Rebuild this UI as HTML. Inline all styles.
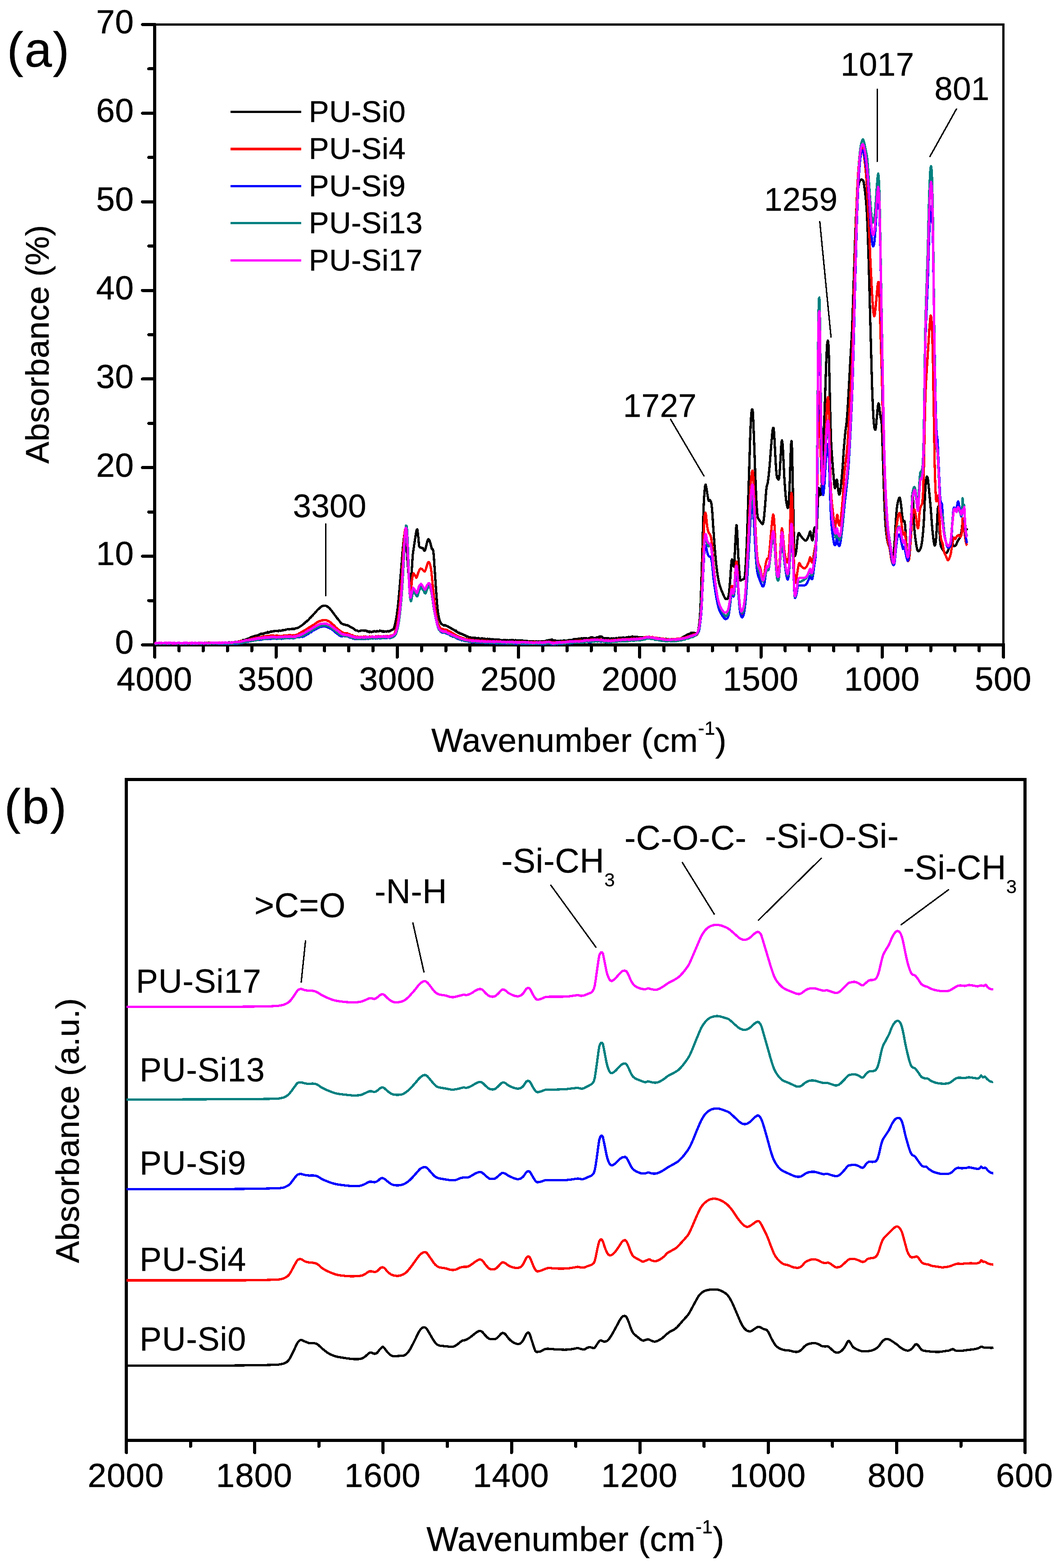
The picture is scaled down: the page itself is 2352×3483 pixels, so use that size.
<!DOCTYPE html>
<html lang="en">
<head>
<meta charset="utf-8">
<title>FTIR spectra of PU-Si films</title>
<style>
html, body { margin: 0; padding: 0; background: #fff; }
body { width: 2352px; height: 3483px; overflow: hidden; }
svg { display: block; }
svg line, svg rect, svg polyline { shape-rendering: crispEdges; }
svg text { font-family: "Liberation Sans", sans-serif; fill: #000; stroke: #000; stroke-width: 0.6px; stroke-linejoin: round; letter-spacing: 0.5px; }
</style>
</head>
<body>
<svg width="2352" height="3483" viewBox="0 0 2352 3483" role="img" aria-label="FTIR absorbance spectra of PU-Si0, PU-Si4, PU-Si9, PU-Si13 and PU-Si17: (a) full range 4000-500 cm-1, (b) stacked spectra 2000-600 cm-1">
<rect x="0" y="0" width="2352" height="3483" fill="#fff"/>
<g id="panel-a">
<line x1="343.7" y1="54.5" x2="2231.2" y2="54.5" stroke="#000" stroke-width="5.2" stroke-linecap="butt"/>
<line x1="2228.6" y1="54.5" x2="2228.6" y2="1432.5" stroke="#000" stroke-width="5.2" stroke-linecap="butt"/>
<line x1="343.7" y1="54.5" x2="343.7" y2="1459.5" stroke="#000" stroke-width="7" stroke-linecap="round"/>
<line x1="340.2" y1="1432.5" x2="2232.1" y2="1432.5" stroke="#000" stroke-width="7" stroke-linecap="butt"/>
<line x1="340.2" y1="1432.5" x2="316.7" y2="1432.5" stroke="#000" stroke-width="7" stroke-linecap="round"/>
<text x="297.5" y="1452.3" font-size="74.5" text-anchor="end" style="letter-spacing:0.6px">0</text>
<line x1="340.2" y1="1334.1" x2="330.7" y2="1334.1" stroke="#000" stroke-width="7" stroke-linecap="round"/>
<line x1="340.2" y1="1235.6" x2="316.7" y2="1235.6" stroke="#000" stroke-width="7" stroke-linecap="round"/>
<text x="297.5" y="1255.4" font-size="74.5" text-anchor="end" style="letter-spacing:0.6px">10</text>
<line x1="340.2" y1="1137.2" x2="330.7" y2="1137.2" stroke="#000" stroke-width="7" stroke-linecap="round"/>
<line x1="340.2" y1="1038.8" x2="316.7" y2="1038.8" stroke="#000" stroke-width="7" stroke-linecap="round"/>
<text x="297.5" y="1058.6" font-size="74.5" text-anchor="end" style="letter-spacing:0.6px">20</text>
<line x1="340.2" y1="940.4" x2="330.7" y2="940.4" stroke="#000" stroke-width="7" stroke-linecap="round"/>
<line x1="340.2" y1="841.9" x2="316.7" y2="841.9" stroke="#000" stroke-width="7" stroke-linecap="round"/>
<text x="297.5" y="861.7" font-size="74.5" text-anchor="end" style="letter-spacing:0.6px">30</text>
<line x1="340.2" y1="743.5" x2="330.7" y2="743.5" stroke="#000" stroke-width="7" stroke-linecap="round"/>
<line x1="340.2" y1="645.1" x2="316.7" y2="645.1" stroke="#000" stroke-width="7" stroke-linecap="round"/>
<text x="297.5" y="664.9" font-size="74.5" text-anchor="end" style="letter-spacing:0.6px">40</text>
<line x1="340.2" y1="546.6" x2="330.7" y2="546.6" stroke="#000" stroke-width="7" stroke-linecap="round"/>
<line x1="340.2" y1="448.2" x2="316.7" y2="448.2" stroke="#000" stroke-width="7" stroke-linecap="round"/>
<text x="297.5" y="468.0" font-size="74.5" text-anchor="end" style="letter-spacing:0.6px">50</text>
<line x1="340.2" y1="349.8" x2="330.7" y2="349.8" stroke="#000" stroke-width="7" stroke-linecap="round"/>
<line x1="340.2" y1="251.4" x2="316.7" y2="251.4" stroke="#000" stroke-width="7" stroke-linecap="round"/>
<text x="297.5" y="271.2" font-size="74.5" text-anchor="end" style="letter-spacing:0.6px">60</text>
<line x1="340.2" y1="152.9" x2="330.7" y2="152.9" stroke="#000" stroke-width="7" stroke-linecap="round"/>
<line x1="340.2" y1="54.5" x2="316.7" y2="54.5" stroke="#000" stroke-width="7" stroke-linecap="round"/>
<text x="297.5" y="74.3" font-size="74.5" text-anchor="end" style="letter-spacing:0.6px">70</text>
<line x1="343.7" y1="1436.0" x2="343.7" y2="1459.5" stroke="#000" stroke-width="7" stroke-linecap="round"/>
<text x="343.2" y="1534.3" font-size="74.5" text-anchor="middle" style="letter-spacing:0.6px">4000</text>
<line x1="397.6" y1="1436.0" x2="397.6" y2="1445.5" stroke="#000" stroke-width="7" stroke-linecap="round"/>
<line x1="451.4" y1="1436.0" x2="451.4" y2="1445.5" stroke="#000" stroke-width="7" stroke-linecap="round"/>
<line x1="505.3" y1="1436.0" x2="505.3" y2="1445.5" stroke="#000" stroke-width="7" stroke-linecap="round"/>
<line x1="559.1" y1="1436.0" x2="559.1" y2="1445.5" stroke="#000" stroke-width="7" stroke-linecap="round"/>
<line x1="613.0" y1="1436.0" x2="613.0" y2="1459.5" stroke="#000" stroke-width="7" stroke-linecap="round"/>
<text x="612.5" y="1534.3" font-size="74.5" text-anchor="middle" style="letter-spacing:0.6px">3500</text>
<line x1="666.8" y1="1436.0" x2="666.8" y2="1445.5" stroke="#000" stroke-width="7" stroke-linecap="round"/>
<line x1="720.7" y1="1436.0" x2="720.7" y2="1445.5" stroke="#000" stroke-width="7" stroke-linecap="round"/>
<line x1="774.5" y1="1436.0" x2="774.5" y2="1445.5" stroke="#000" stroke-width="7" stroke-linecap="round"/>
<line x1="828.4" y1="1436.0" x2="828.4" y2="1445.5" stroke="#000" stroke-width="7" stroke-linecap="round"/>
<line x1="882.2" y1="1436.0" x2="882.2" y2="1459.5" stroke="#000" stroke-width="7" stroke-linecap="round"/>
<text x="881.7" y="1534.3" font-size="74.5" text-anchor="middle" style="letter-spacing:0.6px">3000</text>
<line x1="936.1" y1="1436.0" x2="936.1" y2="1445.5" stroke="#000" stroke-width="7" stroke-linecap="round"/>
<line x1="990.0" y1="1436.0" x2="990.0" y2="1445.5" stroke="#000" stroke-width="7" stroke-linecap="round"/>
<line x1="1043.8" y1="1436.0" x2="1043.8" y2="1445.5" stroke="#000" stroke-width="7" stroke-linecap="round"/>
<line x1="1097.7" y1="1436.0" x2="1097.7" y2="1445.5" stroke="#000" stroke-width="7" stroke-linecap="round"/>
<line x1="1151.5" y1="1436.0" x2="1151.5" y2="1459.5" stroke="#000" stroke-width="7" stroke-linecap="round"/>
<text x="1151.0" y="1534.3" font-size="74.5" text-anchor="middle" style="letter-spacing:0.6px">2500</text>
<line x1="1205.4" y1="1436.0" x2="1205.4" y2="1445.5" stroke="#000" stroke-width="7" stroke-linecap="round"/>
<line x1="1259.2" y1="1436.0" x2="1259.2" y2="1445.5" stroke="#000" stroke-width="7" stroke-linecap="round"/>
<line x1="1313.1" y1="1436.0" x2="1313.1" y2="1445.5" stroke="#000" stroke-width="7" stroke-linecap="round"/>
<line x1="1366.9" y1="1436.0" x2="1366.9" y2="1445.5" stroke="#000" stroke-width="7" stroke-linecap="round"/>
<line x1="1420.8" y1="1436.0" x2="1420.8" y2="1459.5" stroke="#000" stroke-width="7" stroke-linecap="round"/>
<text x="1420.3" y="1534.3" font-size="74.5" text-anchor="middle" style="letter-spacing:0.6px">2000</text>
<line x1="1474.6" y1="1436.0" x2="1474.6" y2="1445.5" stroke="#000" stroke-width="7" stroke-linecap="round"/>
<line x1="1528.5" y1="1436.0" x2="1528.5" y2="1445.5" stroke="#000" stroke-width="7" stroke-linecap="round"/>
<line x1="1582.3" y1="1436.0" x2="1582.3" y2="1445.5" stroke="#000" stroke-width="7" stroke-linecap="round"/>
<line x1="1636.2" y1="1436.0" x2="1636.2" y2="1445.5" stroke="#000" stroke-width="7" stroke-linecap="round"/>
<line x1="1690.1" y1="1436.0" x2="1690.1" y2="1459.5" stroke="#000" stroke-width="7" stroke-linecap="round"/>
<text x="1689.6" y="1534.3" font-size="74.5" text-anchor="middle" style="letter-spacing:0.6px">1500</text>
<line x1="1743.9" y1="1436.0" x2="1743.9" y2="1445.5" stroke="#000" stroke-width="7" stroke-linecap="round"/>
<line x1="1797.8" y1="1436.0" x2="1797.8" y2="1445.5" stroke="#000" stroke-width="7" stroke-linecap="round"/>
<line x1="1851.6" y1="1436.0" x2="1851.6" y2="1445.5" stroke="#000" stroke-width="7" stroke-linecap="round"/>
<line x1="1905.5" y1="1436.0" x2="1905.5" y2="1445.5" stroke="#000" stroke-width="7" stroke-linecap="round"/>
<line x1="1959.3" y1="1436.0" x2="1959.3" y2="1459.5" stroke="#000" stroke-width="7" stroke-linecap="round"/>
<text x="1958.8" y="1534.3" font-size="74.5" text-anchor="middle" style="letter-spacing:0.6px">1000</text>
<line x1="2013.2" y1="1436.0" x2="2013.2" y2="1445.5" stroke="#000" stroke-width="7" stroke-linecap="round"/>
<line x1="2067.0" y1="1436.0" x2="2067.0" y2="1445.5" stroke="#000" stroke-width="7" stroke-linecap="round"/>
<line x1="2120.9" y1="1436.0" x2="2120.9" y2="1445.5" stroke="#000" stroke-width="7" stroke-linecap="round"/>
<line x1="2174.7" y1="1436.0" x2="2174.7" y2="1445.5" stroke="#000" stroke-width="7" stroke-linecap="round"/>
<line x1="2228.6" y1="1436.0" x2="2228.6" y2="1459.5" stroke="#000" stroke-width="7" stroke-linecap="round"/>
<text x="2228.1" y="1534.3" font-size="74.5" text-anchor="middle" style="letter-spacing:0.6px">500</text>
<polyline points="343.8,1429.0 344.8,1429.5 345.8,1428.2 346.8,1428.8 347.8,1428.5 348.8,1428.4 349.8,1428.6 350.8,1428.9 351.8,1429.0 352.8,1429.2 353.8,1429.0 354.8,1429.5 355.8,1428.6 356.8,1429.9 357.8,1428.3 358.8,1429.5 359.8,1429.0 360.8,1429.3 361.8,1428.5 362.8,1428.6 363.8,1429.7 364.8,1430.0 365.8,1428.9 366.8,1429.5 367.8,1429.9 368.8,1429.9 369.8,1428.4 370.8,1428.4 371.8,1428.6 372.8,1429.9 373.8,1428.5 374.8,1429.0 375.8,1430.0 376.8,1429.2 377.8,1429.5 378.8,1428.9 379.8,1429.5 380.8,1429.8 381.8,1428.3 382.8,1429.6 383.8,1430.1 384.8,1429.6 385.8,1428.8 386.8,1429.7 387.8,1428.5 388.8,1429.1 389.8,1429.9 390.8,1428.8 391.8,1428.8 392.8,1428.5 393.8,1428.3 394.8,1429.5 395.8,1428.6 396.8,1428.7 397.8,1429.1 398.8,1428.3 399.8,1429.3 400.8,1428.5 401.8,1429.3 402.8,1429.5 403.8,1428.4 404.8,1429.0 405.8,1429.5 406.8,1428.9 407.8,1428.3 408.8,1429.2 409.8,1429.4 410.8,1429.1 411.8,1429.9 412.8,1429.2 413.8,1429.8 414.8,1428.4 415.8,1428.4 416.8,1429.6 417.8,1428.8 418.8,1428.4 419.8,1429.8 420.8,1428.7 421.8,1429.4 422.8,1429.4 423.8,1429.7 424.8,1429.2 425.8,1429.4 426.8,1428.7 427.8,1428.5 428.8,1429.6 429.8,1428.8 430.8,1429.7 431.8,1429.2 432.8,1429.1 433.8,1428.2 434.8,1429.7 435.8,1428.7 436.8,1429.0 437.8,1428.6 438.8,1428.3 439.8,1429.5 440.8,1428.9 441.8,1427.9 442.8,1429.0 443.8,1428.4 444.8,1428.8 445.8,1429.4 446.8,1428.4 447.8,1429.4 448.8,1428.9 449.8,1427.8 450.8,1429.4 451.8,1429.0 452.8,1429.5 453.8,1428.0 454.8,1427.9 455.8,1429.4 456.8,1428.9 457.8,1427.8 458.8,1429.0 459.8,1429.0 460.8,1429.3 461.8,1428.9 462.8,1427.8 463.8,1427.6 464.8,1427.6 465.8,1427.6 466.8,1428.0 467.8,1429.1 468.8,1428.5 469.8,1428.5 470.8,1429.0 471.8,1427.7 472.8,1428.0 473.8,1428.5 474.8,1429.2 475.8,1428.4 476.8,1427.5 477.8,1428.8 478.8,1427.8 479.8,1428.8 480.8,1428.1 481.8,1428.9 482.8,1428.7 483.8,1428.3 484.8,1427.5 485.8,1427.4 486.8,1427.4 487.8,1427.3 488.8,1427.4 489.8,1427.6 490.8,1428.4 491.8,1428.1 492.8,1427.1 493.8,1427.2 494.8,1428.8 495.8,1428.0 496.8,1427.3 497.8,1427.4 498.8,1428.2 499.8,1427.2 500.8,1427.9 501.8,1428.5 502.8,1428.3 503.8,1427.2 504.8,1427.6 505.8,1427.8 506.8,1428.1 507.8,1426.8 508.8,1426.6 509.8,1426.6 510.8,1427.3 511.8,1427.5 512.8,1427.4 513.8,1426.9 514.8,1428.0 515.8,1427.2 516.8,1426.8 517.8,1427.1 518.8,1427.4 519.8,1427.2 520.8,1426.4 521.8,1426.0 522.8,1426.5 523.8,1426.9 524.8,1426.0 525.8,1426.9 526.8,1425.5 527.8,1425.7 528.8,1426.4 529.8,1425.1 530.8,1425.7 531.8,1425.2 532.8,1425.6 533.8,1424.1 534.8,1423.4 535.8,1424.3 536.8,1424.0 537.8,1423.9 538.8,1423.6 539.8,1421.6 540.8,1421.6 541.8,1421.9 542.8,1422.2 543.8,1421.8 544.8,1420.8 545.8,1421.0 546.8,1420.2 547.8,1419.4 548.8,1419.2 549.8,1419.0 550.8,1418.6 551.8,1418.9 552.8,1418.5 553.8,1417.2 554.8,1417.9 555.8,1416.1 556.8,1415.7 557.8,1415.3 558.8,1415.6 559.8,1414.4 560.8,1415.7 561.8,1415.1 562.8,1413.3 563.8,1413.2 564.8,1413.1 565.8,1412.4 566.8,1413.3 567.8,1412.1 568.8,1412.8 569.8,1411.8 570.8,1412.0 571.8,1411.6 572.8,1411.3 573.8,1410.2 574.8,1410.0 575.8,1410.2 576.8,1409.0 577.8,1409.1 578.8,1409.0 579.8,1407.7 580.8,1408.5 581.8,1407.9 582.8,1408.3 583.8,1407.2 584.8,1408.0 585.8,1407.2 586.8,1406.2 587.8,1407.0 588.8,1406.5 589.8,1405.2 590.8,1405.6 591.8,1405.8 592.8,1406.0 593.8,1404.0 594.8,1405.5 595.8,1404.2 596.8,1405.0 597.8,1404.1 598.8,1404.3 599.8,1403.6 600.8,1403.5 601.8,1402.6 602.8,1403.0 603.8,1403.1 604.8,1403.0 605.8,1402.7 606.8,1402.4 607.8,1402.6 608.8,1401.5 609.8,1402.0 610.8,1401.5 611.8,1401.4 612.8,1401.4 613.8,1401.3 614.8,1401.1 615.8,1401.6 616.8,1401.3 617.8,1402.2 618.8,1401.6 619.8,1400.7 620.8,1401.0 621.8,1400.7 622.8,1401.2 623.8,1401.1 624.8,1401.0 625.8,1400.6 626.8,1400.0 627.8,1399.8 628.8,1400.2 629.8,1399.7 630.8,1399.8 631.8,1399.3 632.8,1399.3 633.8,1398.9 634.8,1399.0 635.8,1398.6 636.8,1398.3 637.8,1398.0 638.8,1397.5 639.8,1397.7 640.8,1397.3 641.8,1398.1 642.8,1397.2 643.8,1397.7 644.8,1397.7 645.8,1397.5 646.8,1397.3 647.8,1396.9 648.8,1397.1 649.8,1397.0 650.8,1396.8 651.8,1397.1 652.8,1396.7 653.8,1397.2 654.8,1397.0 655.8,1396.1 656.8,1395.8 657.8,1395.6 658.8,1395.6 659.8,1395.4 660.8,1394.5 661.8,1394.1 662.8,1394.2 663.8,1393.3 664.8,1392.9 665.8,1392.0 666.8,1391.2 667.8,1391.0 668.8,1390.3 669.8,1389.2 670.8,1389.0 671.8,1388.1 672.8,1387.4 673.8,1386.1 674.8,1385.8 675.8,1384.5 676.8,1383.9 677.8,1383.3 678.8,1381.6 679.8,1381.0 680.8,1380.7 681.8,1379.7 682.8,1378.5 683.8,1377.9 684.8,1377.0 685.8,1375.9 686.8,1375.0 687.8,1373.2 688.8,1372.8 689.8,1371.8 690.8,1370.7 691.8,1369.9 692.8,1368.1 693.8,1367.8 694.8,1366.8 695.8,1365.3 696.8,1364.2 697.8,1363.4 698.8,1362.0 699.8,1361.2 700.8,1359.7 701.8,1358.9 702.8,1357.9 703.8,1356.1 704.8,1354.8 705.8,1354.5 706.8,1353.2 707.8,1352.7 708.8,1351.4 709.8,1351.0 710.8,1349.7 711.8,1349.0 712.8,1347.9 713.8,1347.4 714.8,1346.5 715.8,1346.1 716.8,1346.4 717.8,1345.4 718.8,1345.5 719.8,1345.9 720.8,1345.7 721.8,1345.7 722.8,1345.3 723.8,1345.7 724.8,1346.2 725.8,1347.0 726.8,1346.8 727.8,1347.5 728.8,1348.3 729.8,1349.6 730.8,1350.2 731.8,1350.8 732.8,1352.3 733.8,1353.0 734.8,1354.8 735.8,1355.5 736.8,1356.6 737.8,1358.4 738.8,1360.0 739.8,1360.9 740.8,1362.6 741.8,1363.7 742.8,1365.1 743.8,1366.9 744.8,1368.0 745.8,1368.6 746.8,1370.6 747.8,1371.7 748.8,1373.5 749.8,1374.0 750.8,1375.4 751.8,1376.5 752.8,1378.1 753.8,1379.0 754.8,1380.8 755.8,1382.2 756.8,1383.2 757.8,1384.3 758.8,1384.7 759.8,1385.9 760.8,1386.1 761.8,1386.9 762.8,1387.1 763.8,1386.9 764.8,1387.2 765.8,1387.5 766.8,1387.8 767.8,1388.4 768.8,1388.1 769.8,1388.2 770.8,1389.1 771.8,1388.9 772.8,1389.6 773.8,1389.7 774.8,1390.3 775.8,1390.9 776.8,1391.5 777.8,1392.4 778.8,1392.6 779.8,1393.8 780.8,1393.5 781.8,1394.9 782.8,1394.8 783.8,1395.9 784.8,1395.9 785.8,1397.0 786.8,1397.1 787.8,1398.7 788.8,1399.3 789.8,1399.7 790.8,1400.4 791.8,1400.1 792.8,1400.5 793.8,1400.6 794.8,1401.6 795.8,1402.2 796.8,1402.3 797.8,1401.8 798.8,1401.7 799.8,1401.9 800.8,1400.9 801.8,1400.6 802.8,1400.3 803.8,1400.2 804.8,1400.9 805.8,1400.2 806.8,1400.4 807.8,1401.0 808.8,1400.5 809.8,1401.2 810.8,1400.6 811.8,1400.9 812.8,1400.7 813.8,1402.1 814.8,1401.4 815.8,1401.9 816.8,1402.5 817.8,1403.6 818.8,1402.3 819.8,1403.9 820.8,1404.4 821.8,1402.8 822.8,1403.6 823.8,1403.2 824.8,1404.1 825.8,1403.4 826.8,1403.5 827.8,1403.0 828.8,1403.2 829.8,1402.5 830.8,1401.9 831.8,1402.8 832.8,1402.3 833.8,1402.5 834.8,1403.2 835.8,1402.2 836.8,1401.8 837.8,1401.9 838.8,1402.8 839.8,1402.7 840.8,1402.4 841.8,1402.5 842.8,1401.1 843.8,1400.8 844.8,1401.1 845.8,1401.4 846.8,1401.3 847.8,1402.3 848.8,1402.1 849.8,1403.1 850.8,1402.1 851.8,1403.2 852.8,1402.5 853.8,1403.1 854.8,1402.7 855.8,1402.2 856.8,1402.5 857.8,1403.2 858.8,1402.8 859.8,1402.7 860.8,1401.9 861.8,1402.4 862.8,1403.0 863.8,1402.4 864.8,1401.7 865.8,1402.1 866.8,1401.3 867.8,1400.8 868.8,1399.8 869.8,1399.5 870.8,1399.0 871.8,1398.8 872.8,1398.1 873.8,1397.9 874.8,1395.4 875.8,1393.1 876.8,1388.9 877.8,1384.6 878.8,1380.0 879.8,1375.0 880.8,1369.1 881.8,1362.0 882.8,1354.6 883.8,1346.0 884.8,1336.5 885.8,1325.7 886.8,1314.4 887.8,1302.6 888.8,1290.7 889.8,1279.4 890.8,1266.6 891.8,1254.3 892.8,1240.6 893.8,1228.2 894.8,1217.1 895.8,1207.4 896.8,1197.9 897.8,1189.5 898.8,1184.5 899.8,1181.7 900.8,1181.4 901.8,1188.3 902.8,1204.2 903.8,1223.5 904.8,1240.3 905.8,1256.0 906.8,1269.1 907.8,1281.0 908.8,1289.1 909.8,1295.1 910.8,1299.7 911.8,1296.9 912.8,1287.8 913.8,1276.9 914.8,1263.1 915.8,1246.2 916.8,1232.1 917.8,1224.8 918.8,1218.0 919.8,1211.0 920.8,1204.7 921.8,1198.1 922.8,1191.1 923.8,1185.0 924.8,1178.9 925.8,1176.1 926.8,1175.9 927.8,1182.3 928.8,1190.4 929.8,1202.1 930.8,1212.9 931.8,1215.1 932.8,1216.1 933.8,1216.0 934.8,1216.7 935.8,1217.0 936.8,1216.8 937.8,1217.1 938.8,1217.4 939.8,1218.1 940.8,1220.8 941.8,1222.8 942.8,1223.5 943.8,1222.6 944.8,1219.9 945.8,1215.6 946.8,1211.9 947.8,1207.3 948.8,1203.8 949.8,1200.3 950.8,1198.3 951.8,1197.6 952.8,1199.0 953.8,1200.5 954.8,1203.5 955.8,1206.4 956.8,1210.2 957.8,1214.2 958.8,1219.0 959.8,1219.6 960.8,1219.5 961.8,1221.5 962.8,1228.1 963.8,1239.7 964.8,1255.3 965.8,1269.7 966.8,1285.2 967.8,1300.3 968.8,1314.7 969.8,1329.3 970.8,1341.8 971.8,1352.1 972.8,1360.3 973.8,1366.3 974.8,1371.5 975.8,1375.6 976.8,1378.7 977.8,1382.1 978.8,1383.3 979.8,1385.4 980.8,1385.9 981.8,1387.1 982.8,1387.8 983.8,1388.1 984.8,1389.1 985.8,1388.8 986.8,1389.0 987.8,1389.1 988.8,1388.9 989.8,1389.2 990.8,1389.5 991.8,1390.4 992.8,1390.6 993.8,1391.2 994.8,1391.4 995.8,1392.6 996.8,1392.5 997.8,1393.9 998.8,1393.6 999.8,1394.6 1000.8,1394.6 1001.8,1396.0 1002.8,1395.9 1003.8,1396.8 1004.8,1397.6 1005.8,1397.6 1006.8,1398.6 1007.8,1398.8 1008.8,1399.9 1009.8,1400.4 1010.8,1400.4 1011.8,1402.0 1012.8,1401.0 1013.8,1403.1 1014.8,1403.1 1015.8,1403.4 1016.8,1404.6 1017.8,1405.1 1018.8,1406.2 1019.8,1405.4 1020.8,1405.4 1021.8,1407.5 1022.8,1407.8 1023.8,1408.0 1024.8,1408.0 1025.8,1408.7 1026.8,1409.2 1027.8,1408.9 1028.8,1410.1 1029.8,1410.5 1030.8,1410.8 1031.8,1410.9 1032.8,1412.0 1033.8,1411.3 1034.8,1413.2 1035.8,1414.0 1036.8,1413.3 1037.8,1413.5 1038.8,1414.1 1039.8,1414.6 1040.8,1416.0 1041.8,1415.6 1042.8,1415.4 1043.8,1415.4 1044.8,1415.8 1045.8,1416.6 1046.8,1416.2 1047.8,1416.6 1048.8,1416.6 1049.8,1417.4 1050.8,1416.8 1051.8,1416.7 1052.8,1417.4 1053.8,1416.7 1054.8,1417.2 1055.8,1417.0 1056.8,1417.6 1057.8,1418.1 1058.8,1417.4 1059.8,1418.1 1060.8,1417.6 1061.8,1418.0 1062.8,1417.1 1063.8,1417.8 1064.8,1418.7 1065.8,1418.2 1066.8,1418.6 1067.8,1418.3 1068.8,1418.3 1069.8,1419.1 1070.8,1417.8 1071.8,1418.8 1072.8,1419.6 1073.8,1418.9 1074.8,1418.4 1075.8,1419.7 1076.8,1418.8 1077.8,1419.7 1078.8,1419.5 1079.8,1420.3 1080.8,1419.8 1081.8,1420.3 1082.8,1418.9 1083.8,1420.7 1084.8,1419.2 1085.8,1419.7 1086.8,1420.8 1087.8,1419.2 1088.8,1420.7 1089.8,1420.9 1090.8,1420.2 1091.8,1419.9 1092.8,1420.9 1093.8,1420.4 1094.8,1419.9 1095.8,1421.3 1096.8,1421.3 1097.8,1420.7 1098.8,1421.4 1099.8,1420.7 1100.8,1421.2 1101.8,1420.7 1102.8,1421.0 1103.8,1420.5 1104.8,1422.0 1105.8,1420.8 1106.8,1420.6 1107.8,1420.7 1108.8,1420.5 1109.8,1421.9 1110.8,1421.7 1111.8,1422.1 1112.8,1421.7 1113.8,1422.3 1114.8,1422.2 1115.8,1422.4 1116.8,1421.8 1117.8,1422.3 1118.8,1421.5 1119.8,1421.8 1120.8,1421.6 1121.8,1422.1 1122.8,1421.8 1123.8,1422.2 1124.8,1423.2 1125.8,1422.0 1126.8,1423.2 1127.8,1422.6 1128.8,1422.1 1129.8,1422.9 1130.8,1422.5 1131.8,1421.8 1132.8,1422.8 1133.8,1422.1 1134.8,1422.0 1135.8,1422.0 1136.8,1422.6 1137.8,1421.9 1138.8,1422.9 1139.8,1422.0 1140.8,1422.5 1141.8,1422.4 1142.8,1423.1 1143.8,1423.2 1144.8,1422.0 1145.8,1422.8 1146.8,1423.4 1147.8,1422.6 1148.8,1423.5 1149.8,1422.4 1150.8,1423.0 1151.8,1423.2 1152.8,1422.5 1153.8,1422.1 1154.8,1422.9 1155.8,1423.9 1156.8,1422.9 1157.8,1423.8 1158.8,1422.8 1159.8,1423.2 1160.8,1422.9 1161.8,1424.0 1162.8,1424.1 1163.8,1424.2 1164.8,1423.5 1165.8,1424.4 1166.8,1423.6 1167.8,1424.0 1168.8,1424.0 1169.8,1424.1 1170.8,1423.6 1171.8,1424.7 1172.8,1424.9 1173.8,1424.8 1174.8,1424.9 1175.8,1424.1 1176.8,1424.1 1177.8,1424.8 1178.8,1425.5 1179.8,1424.3 1180.8,1424.8 1181.8,1424.8 1182.8,1425.0 1183.8,1424.4 1184.8,1424.7 1185.8,1424.6 1186.8,1425.7 1187.8,1425.6 1188.8,1425.0 1189.8,1425.3 1190.8,1424.5 1191.8,1425.2 1192.8,1424.8 1193.8,1425.8 1194.8,1425.5 1195.8,1425.4 1196.8,1424.5 1197.8,1425.1 1198.8,1426.0 1199.8,1425.9 1200.8,1425.3 1201.8,1424.4 1202.8,1425.3 1203.8,1425.1 1204.8,1424.9 1205.8,1424.8 1206.8,1425.0 1207.8,1425.4 1208.8,1425.0 1209.8,1424.6 1210.8,1425.0 1211.8,1423.3 1212.8,1424.8 1213.8,1422.9 1214.8,1423.0 1215.8,1423.2 1216.8,1422.4 1217.8,1423.2 1218.8,1421.9 1219.8,1422.0 1220.8,1421.3 1221.8,1422.1 1222.8,1421.6 1223.8,1420.8 1224.8,1420.3 1225.8,1421.4 1226.8,1420.9 1227.8,1422.2 1228.8,1422.2 1229.8,1422.8 1230.8,1422.3 1231.8,1423.5 1232.8,1423.1 1233.8,1422.9 1234.8,1423.4 1235.8,1423.3 1236.8,1423.5 1237.8,1424.5 1238.8,1423.5 1239.8,1424.2 1240.8,1423.9 1241.8,1424.5 1242.8,1423.6 1243.8,1423.4 1244.8,1424.6 1245.8,1423.1 1246.8,1424.7 1247.8,1424.0 1248.8,1423.6 1249.8,1424.7 1250.8,1423.0 1251.8,1423.7 1252.8,1422.8 1253.8,1423.6 1254.8,1422.8 1255.8,1423.5 1256.8,1424.0 1257.8,1423.7 1258.8,1422.8 1259.8,1423.1 1260.8,1423.1 1261.8,1422.4 1262.8,1422.3 1263.8,1421.5 1264.8,1421.8 1265.8,1421.2 1266.8,1422.1 1267.8,1421.5 1268.8,1421.3 1269.8,1422.0 1270.8,1421.2 1271.8,1420.9 1272.8,1420.5 1273.8,1420.0 1274.8,1420.5 1275.8,1419.7 1276.8,1420.0 1277.8,1420.3 1278.8,1421.0 1279.8,1419.3 1280.8,1420.2 1281.8,1419.8 1282.8,1420.2 1283.8,1418.9 1284.8,1418.7 1285.8,1419.1 1286.8,1419.7 1287.8,1418.5 1288.8,1419.4 1289.8,1418.5 1290.8,1418.2 1291.8,1417.7 1292.8,1418.3 1293.8,1418.2 1294.8,1418.6 1295.8,1417.4 1296.8,1417.5 1297.8,1417.1 1298.8,1417.2 1299.8,1418.1 1300.8,1417.5 1301.8,1417.3 1302.8,1417.6 1303.8,1418.3 1304.8,1418.1 1305.8,1418.2 1306.8,1418.8 1307.8,1417.3 1308.8,1417.1 1309.8,1417.3 1310.8,1416.5 1311.8,1416.9 1312.8,1415.6 1313.8,1415.5 1314.8,1416.1 1315.8,1415.5 1316.8,1416.7 1317.8,1416.2 1318.8,1416.9 1319.8,1417.5 1320.8,1418.2 1321.8,1417.5 1322.8,1417.9 1323.8,1416.4 1324.8,1415.9 1325.8,1417.0 1326.8,1415.5 1327.8,1415.4 1328.8,1415.5 1329.8,1415.1 1330.8,1414.0 1331.8,1415.2 1332.8,1415.1 1333.8,1414.7 1334.8,1413.6 1335.8,1414.2 1336.8,1414.4 1337.8,1415.6 1338.8,1417.2 1339.8,1416.9 1340.8,1418.2 1341.8,1417.8 1342.8,1418.5 1343.8,1417.3 1344.8,1418.1 1345.8,1417.9 1346.8,1418.0 1347.8,1417.6 1348.8,1417.3 1349.8,1417.2 1350.8,1417.8 1351.8,1417.5 1352.8,1418.8 1353.8,1418.9 1354.8,1418.6 1355.8,1419.3 1356.8,1418.9 1357.8,1418.0 1358.8,1418.2 1359.8,1418.2 1360.8,1418.4 1361.8,1417.8 1362.8,1418.7 1363.8,1418.4 1364.8,1418.5 1365.8,1418.1 1366.8,1418.8 1367.8,1418.0 1368.8,1417.1 1369.8,1418.6 1370.8,1418.1 1371.8,1418.4 1372.8,1418.5 1373.8,1416.8 1374.8,1417.1 1375.8,1416.7 1376.8,1417.2 1377.8,1418.0 1378.8,1416.5 1379.8,1417.1 1380.8,1416.4 1381.8,1417.5 1382.8,1417.5 1383.8,1416.0 1384.8,1416.7 1385.8,1416.2 1386.8,1417.4 1387.8,1417.3 1388.8,1416.6 1389.8,1417.2 1390.8,1416.0 1391.8,1416.9 1392.8,1416.0 1393.8,1415.5 1394.8,1416.7 1395.8,1416.1 1396.8,1414.8 1397.8,1416.1 1398.8,1415.6 1399.8,1415.3 1400.8,1415.4 1401.8,1414.4 1402.8,1414.9 1403.8,1415.2 1404.8,1413.8 1405.8,1414.0 1406.8,1415.3 1407.8,1414.9 1408.8,1414.8 1409.8,1414.3 1410.8,1414.5 1411.8,1415.6 1412.8,1414.8 1413.8,1414.3 1414.8,1415.9 1415.8,1414.7 1416.8,1415.9 1417.8,1416.1 1418.8,1415.5 1419.8,1415.8 1420.8,1415.8 1421.8,1416.1 1422.8,1416.6 1423.8,1415.7 1424.8,1416.8 1425.8,1416.4 1426.8,1415.6 1427.8,1415.9 1428.8,1416.7 1429.8,1416.1 1430.8,1416.0 1431.8,1416.1 1432.8,1417.4 1433.8,1417.0 1434.8,1417.7 1435.8,1416.7 1436.8,1417.2 1437.8,1417.2 1438.8,1417.3 1439.8,1416.4 1440.8,1417.7 1441.8,1418.1 1442.8,1417.4 1443.8,1416.8 1444.8,1417.9 1445.8,1416.6 1446.8,1417.2 1447.8,1418.3 1448.8,1417.8 1449.8,1418.3 1450.8,1417.9 1451.8,1418.3 1452.8,1418.4 1453.8,1417.5 1454.8,1417.1 1455.8,1418.3 1456.8,1417.8 1457.8,1417.3 1458.8,1418.1 1459.8,1417.2 1460.8,1417.5 1461.8,1418.6 1462.8,1417.3 1463.8,1417.9 1464.8,1417.4 1465.8,1419.3 1466.8,1418.6 1467.8,1418.2 1468.8,1419.5 1469.8,1418.8 1470.8,1418.9 1471.8,1419.2 1472.8,1418.8 1473.8,1419.0 1474.8,1419.2 1475.8,1419.1 1476.8,1419.8 1477.8,1420.1 1478.8,1419.0 1479.8,1420.7 1480.8,1420.4 1481.8,1420.5 1482.8,1420.5 1483.8,1419.3 1484.8,1420.0 1485.8,1420.0 1486.8,1420.4 1487.8,1420.0 1488.8,1420.4 1489.8,1420.3 1490.8,1420.4 1491.8,1420.2 1492.8,1419.3 1493.8,1420.4 1494.8,1420.4 1495.8,1420.6 1496.8,1419.4 1497.8,1419.2 1498.8,1419.6 1499.8,1419.4 1500.8,1420.3 1501.8,1419.9 1502.8,1420.1 1503.8,1419.4 1504.8,1418.8 1505.8,1418.7 1506.8,1419.0 1507.8,1418.6 1508.8,1419.5 1509.8,1418.9 1510.8,1418.8 1511.8,1418.1 1512.8,1417.1 1513.8,1416.9 1514.8,1416.9 1515.8,1415.9 1516.8,1415.0 1517.8,1415.6 1518.8,1415.0 1519.8,1413.6 1520.8,1413.9 1521.8,1412.5 1522.8,1412.6 1523.8,1411.7 1524.8,1411.0 1525.8,1409.8 1526.8,1409.8 1527.8,1410.0 1528.8,1408.4 1529.8,1409.0 1530.8,1408.6 1531.8,1407.2 1532.8,1407.4 1533.8,1407.5 1534.8,1405.8 1535.8,1407.1 1536.8,1405.7 1537.8,1406.7 1538.8,1406.3 1539.8,1405.7 1540.8,1405.3 1541.8,1406.2 1542.8,1406.6 1543.8,1406.6 1544.7,1406.3 1547.4,1410.2 1548.0,1409.0 1548.7,1407.2 1549.3,1405.1 1549.9,1402.9 1550.6,1400.6 1551.2,1398.1 1551.8,1394.4 1552.6,1389.2 1553.4,1382.8 1554.1,1375.1 1554.9,1365.2 1555.6,1351.2 1556.4,1333.5 1557.1,1312.0 1557.9,1288.5 1558.6,1264.3 1559.4,1239.6 1560.2,1214.4 1560.9,1188.1 1561.7,1161.4 1562.4,1135.6 1563.3,1114.1 1564.3,1098.3 1565.2,1086.9 1566.2,1078.9 1567.1,1076.3 1568.1,1079.6 1569.0,1084.6 1569.8,1089.8 1570.5,1094.7 1571.3,1099.1 1572.0,1103.5 1572.8,1107.7 1573.5,1111.2 1574.3,1112.9 1575.1,1112.8 1575.8,1111.6 1576.6,1111.0 1577.3,1111.8 1578.1,1113.0 1578.8,1114.3 1579.6,1116.5 1580.3,1120.6 1581.1,1127.3 1581.9,1136.8 1582.6,1147.8 1583.4,1159.7 1584.1,1171.5 1584.9,1182.3 1585.6,1192.5 1586.4,1202.5 1587.1,1212.5 1587.9,1222.1 1588.7,1231.3 1589.4,1239.8 1590.2,1247.7 1590.9,1254.9 1591.7,1261.5 1592.4,1267.5 1593.2,1272.9 1593.9,1278.0 1594.7,1282.8 1595.5,1287.2 1596.2,1291.2 1597.0,1294.8 1597.7,1297.7 1598.5,1300.1 1599.2,1302.4 1600.0,1304.6 1600.7,1306.7 1601.5,1308.8 1602.2,1310.8 1603.0,1312.8 1603.8,1314.7 1604.5,1316.5 1605.3,1318.3 1606.0,1320.0 1606.8,1321.7 1607.5,1323.4 1608.3,1325.0 1609.0,1326.6 1609.8,1328.1 1610.6,1329.2 1611.3,1330.0 1612.1,1330.5 1612.8,1330.8 1613.6,1330.9 1614.3,1330.8 1615.1,1330.7 1615.8,1330.2 1616.6,1328.8 1617.4,1326.5 1618.1,1323.1 1618.9,1318.6 1619.6,1312.3 1620.4,1304.3 1621.1,1295.3 1621.9,1285.7 1622.6,1274.4 1623.4,1262.3 1624.2,1251.7 1624.9,1245.2 1625.7,1242.8 1626.4,1243.5 1627.2,1248.3 1627.9,1254.3 1628.7,1257.8 1629.4,1258.1 1630.2,1255.7 1631.0,1248.4 1631.7,1235.6 1632.5,1220.1 1633.2,1204.4 1634.0,1190.0 1634.7,1176.7 1635.5,1166.7 1636.2,1166.9 1637.0,1177.6 1637.8,1192.3 1638.5,1209.1 1639.3,1225.7 1640.0,1239.5 1640.8,1252.3 1641.5,1263.6 1642.3,1273.0 1643.0,1280.2 1643.8,1285.7 1644.6,1289.0 1645.3,1289.7 1646.1,1289.0 1646.8,1288.3 1647.6,1288.0 1648.3,1287.7 1649.1,1287.3 1649.8,1287.0 1650.6,1286.7 1651.4,1286.3 1652.1,1286.0 1652.9,1285.6 1653.6,1283.5 1654.4,1278.0 1655.1,1269.8 1655.9,1259.3 1656.6,1247.1 1657.4,1233.0 1658.2,1216.6 1658.9,1197.7 1659.7,1176.1 1660.4,1153.2 1661.2,1130.0 1661.9,1106.5 1662.7,1082.6 1663.4,1058.2 1664.2,1033.2 1665.0,1008.0 1665.7,983.4 1666.5,961.9 1667.2,944.3 1668.0,929.6 1668.7,918.4 1669.5,912.0 1670.2,909.4 1671.0,909.2 1671.8,912.4 1672.5,922.8 1673.3,940.7 1674.0,959.9 1674.8,979.8 1675.5,1000.2 1676.3,1021.2 1677.0,1042.2 1677.8,1062.9 1678.6,1082.5 1679.3,1100.1 1680.1,1115.2 1680.8,1127.8 1681.6,1137.7 1682.3,1145.0 1683.1,1149.5 1683.8,1151.5 1684.6,1152.6 1685.4,1153.8 1686.1,1154.9 1686.9,1156.0 1687.6,1157.1 1688.4,1158.1 1689.1,1159.2 1689.9,1160.2 1690.6,1161.2 1691.4,1162.1 1692.2,1163.1 1692.9,1164.1 1693.7,1164.3 1694.4,1163.4 1695.2,1161.0 1695.9,1157.0 1696.7,1151.1 1697.4,1143.6 1698.2,1135.0 1699.0,1126.0 1699.7,1116.6 1700.5,1106.3 1701.2,1096.1 1702.0,1087.2 1702.7,1081.2 1703.5,1078.0 1704.2,1076.0 1705.0,1073.4 1705.7,1068.7 1706.5,1062.4 1707.3,1055.8 1708.0,1048.7 1708.8,1040.8 1709.5,1032.1 1710.3,1022.5 1711.0,1012.6 1711.8,1002.7 1712.5,993.1 1713.3,983.8 1714.1,974.9 1714.8,966.2 1715.6,958.0 1716.3,952.7 1717.1,950.1 1717.8,950.1 1718.6,954.0 1719.3,962.9 1720.1,976.2 1720.9,991.4 1721.6,1006.1 1722.4,1019.5 1723.1,1032.5 1723.9,1044.2 1724.6,1053.4 1725.4,1059.0 1726.1,1061.7 1726.9,1063.0 1727.7,1064.1 1728.4,1065.0 1729.2,1065.3 1729.9,1063.9 1730.7,1059.9 1731.4,1051.9 1732.2,1040.9 1732.9,1028.8 1733.7,1015.7 1734.5,1001.6 1735.2,988.7 1736.0,980.4 1736.7,978.1 1737.5,981.2 1738.2,988.7 1739.0,1000.3 1739.7,1015.5 1740.5,1032.2 1741.3,1048.1 1742.0,1061.3 1742.8,1073.2 1743.5,1084.0 1744.3,1093.9 1745.0,1102.6 1745.8,1109.8 1746.5,1115.5 1747.3,1120.1 1748.1,1124.0 1748.8,1126.9 1749.6,1128.3 1750.3,1127.3 1751.1,1123.7 1751.8,1116.8 1752.6,1104.5 1753.3,1088.1 1754.1,1069.2 1754.9,1045.5 1755.6,1020.0 1756.4,998.4 1757.1,984.9 1757.9,979.6 1758.6,984.5 1759.4,1008.7 1760.1,1045.8 1760.9,1083.0 1761.7,1120.1 1762.4,1157.1 1763.2,1193.7 1763.9,1223.2 1764.7,1234.3 1765.4,1235.0 1766.2,1233.3 1766.9,1231.4 1767.7,1228.4 1768.5,1223.9 1769.2,1217.3 1770.0,1209.4 1770.7,1201.4 1771.5,1194.6 1772.2,1190.1 1773.0,1186.8 1773.7,1184.5 1774.5,1184.1 1775.3,1185.1 1776.0,1186.3 1776.8,1187.6 1777.5,1188.9 1778.3,1190.1 1779.0,1191.2 1779.8,1192.2 1780.5,1193.1 1781.3,1194.0 1782.1,1194.9 1782.8,1195.8 1783.6,1196.7 1784.3,1197.5 1785.1,1198.3 1785.8,1199.0 1786.6,1199.7 1787.3,1200.3 1788.1,1200.7 1788.9,1200.9 1789.6,1200.9 1790.4,1200.5 1791.1,1199.9 1791.9,1199.0 1792.6,1197.9 1793.4,1196.5 1794.1,1194.8 1794.9,1193.0 1795.7,1191.0 1796.4,1189.1 1797.2,1186.7 1797.9,1183.8 1798.7,1181.3 1799.4,1180.3 1800.2,1182.6 1800.9,1187.1 1801.7,1191.8 1802.4,1195.0 1803.2,1197.9 1804.0,1199.9 1804.7,1200.6 1805.5,1198.0 1806.2,1190.6 1807.0,1182.7 1807.7,1177.8 1808.5,1174.2 1809.2,1171.9 1810.0,1171.8 1810.8,1175.4 1811.5,1179.7 1812.3,1182.3 1813.0,1183.8 1813.8,1178.7 1814.5,1162.8 1815.3,1142.9 1816.0,1124.6 1816.8,1107.0 1817.6,1091.5 1818.3,1083.9 1819.1,1084.5 1819.8,1087.9 1820.6,1093.9 1821.3,1098.5 1822.1,1099.7 1822.8,1098.6 1823.6,1094.6 1824.4,1087.5 1825.1,1077.1 1825.9,1062.9 1826.6,1044.9 1827.4,1025.8 1828.1,1005.9 1828.9,985.1 1829.6,963.7 1830.4,942.1 1831.2,920.3 1831.9,898.2 1832.7,875.2 1833.4,851.6 1834.2,828.5 1834.9,807.8 1835.7,790.1 1836.4,774.4 1837.2,763.4 1838.0,758.3 1838.7,756.6 1839.5,758.8 1840.2,769.7 1841.0,791.4 1841.7,819.1 1842.5,850.8 1843.2,885.7 1844.0,918.7 1844.8,947.6 1845.5,972.5 1846.3,990.5 1847.0,1001.8 1847.8,1012.2 1848.5,1022.2 1849.3,1031.9 1850.0,1041.5 1850.8,1051.0 1851.6,1060.3 1852.3,1069.5 1853.1,1077.7 1853.8,1083.3 1854.6,1084.4 1855.3,1081.1 1856.1,1075.9 1856.8,1071.4 1857.6,1067.6 1858.4,1065.4 1859.1,1067.3 1859.9,1073.2 1860.6,1080.4 1861.4,1086.3 1862.1,1091.3 1862.9,1095.7 1863.6,1098.4 1864.4,1098.7 1865.2,1096.6 1865.9,1092.7 1866.7,1087.5 1867.4,1081.3 1868.2,1074.8 1868.9,1067.6 1869.7,1059.7 1870.4,1050.9 1871.2,1041.1 1872.0,1029.8 1872.7,1017.8 1873.5,1006.4 1874.2,996.4 1875.0,987.2 1875.7,978.4 1876.5,970.0 1877.2,962.0 1878.0,955.0 1878.8,949.4 1879.5,944.0 1880.3,937.7 1881.0,929.5 1881.8,919.7 1882.5,908.8 1883.3,896.7 1884.0,883.7 1884.8,870.0 1885.6,856.1 1886.3,842.0 1887.1,828.0 1887.8,814.1 1888.6,800.5 1889.3,787.5 1890.1,774.7 1890.8,761.5 1891.6,747.7 1892.4,731.8 1893.1,712.3 1893.9,690.7 1894.6,668.2 1895.4,645.7 1896.1,623.0 1896.9,600.2 1897.6,577.7 1898.4,555.5 1899.1,533.6 1899.9,512.0 1900.7,491.5 1901.4,474.8 1902.2,461.2 1902.9,449.6 1903.7,439.2 1904.4,429.9 1905.2,422.3 1905.9,416.7 1906.7,412.5 1907.5,408.8 1908.2,405.7 1909.0,403.3 1909.7,401.7 1910.5,400.8 1911.2,400.0 1912.0,399.5 1912.7,399.1 1913.5,398.9 1914.3,398.9 1915.0,399.1 1915.8,399.6 1916.5,400.4 1917.3,401.6 1918.0,404.1 1918.8,408.2 1919.5,413.3 1920.3,419.0 1921.1,424.9 1921.8,431.1 1922.6,438.2 1923.3,446.3 1924.1,455.4 1924.8,465.9 1925.6,479.3 1926.3,495.7 1927.1,515.0 1927.9,536.6 1928.6,559.3 1929.4,583.8 1930.1,610.6 1930.9,638.8 1931.6,666.9 1932.4,695.0 1933.1,723.2 1933.9,751.3 1934.7,779.4 1935.4,807.6 1936.2,835.3 1936.9,859.8 1937.7,881.1 1938.4,899.4 1939.2,914.9 1939.9,927.9 1940.7,938.7 1941.5,946.6 1942.2,951.2 1943.0,953.3 1943.7,954.4 1944.5,954.6 1945.2,950.4 1946.0,942.5 1946.7,934.0 1947.5,925.6 1948.3,917.9 1949.0,910.3 1949.8,903.2 1950.5,897.5 1951.3,895.9 1952.0,898.0 1952.8,902.7 1953.5,909.2 1954.3,916.4 1955.1,923.0 1955.8,927.7 1956.6,930.6 1957.3,934.0 1958.1,940.5 1958.8,953.5 1959.6,973.0 1960.3,997.6 1961.1,1024.0 1961.9,1049.0 1962.6,1071.8 1963.4,1093.7 1964.1,1114.1 1964.9,1132.3 1965.6,1147.8 1966.4,1160.5 1967.1,1170.5 1967.9,1178.7 1968.7,1185.8 1969.4,1191.9 1970.2,1196.9 1970.9,1200.8 1971.7,1204.5 1972.4,1207.6 1973.2,1210.0 1973.9,1211.6 1974.7,1212.7 1975.5,1213.5 1976.2,1214.6 1977.0,1216.1 1977.7,1218.6 1978.5,1221.7 1979.2,1225.1 1980.0,1228.5 1980.7,1231.4 1981.5,1233.4 1982.3,1234.6 1983.0,1234.8 1983.8,1233.3 1984.5,1230.4 1985.3,1225.1 1986.0,1216.9 1986.8,1206.6 1987.5,1195.0 1988.3,1181.2 1989.1,1166.5 1989.8,1153.8 1990.6,1143.4 1991.3,1134.5 1992.1,1127.4 1992.8,1122.2 1993.6,1117.9 1994.3,1114.4 1995.1,1111.5 1995.9,1109.1 1996.6,1106.9 1997.4,1105.2 1998.1,1105.2 1998.9,1107.0 1999.6,1110.5 2000.4,1115.3 2001.1,1120.8 2001.9,1127.0 2002.6,1134.6 2003.4,1142.5 2004.2,1149.0 2004.9,1153.0 2005.7,1155.5 2006.4,1157.3 2007.2,1158.6 2007.9,1157.9 2008.7,1157.3 2009.4,1159.7 2010.2,1166.9 2011.0,1177.1 2011.7,1188.3 2012.5,1199.4 2013.2,1211.4 2014.0,1223.0 2014.7,1232.8 2015.5,1239.1 2016.2,1242.7 2017.0,1244.4 2017.8,1244.5 2018.5,1242.3 2019.3,1237.7 2020.0,1230.8 2020.8,1222.2 2021.5,1211.4 2022.3,1198.4 2023.0,1182.9 2023.8,1165.4 2024.6,1145.6 2025.3,1120.6 2026.1,1100.4 2026.8,1093.6 2027.6,1103.3 2028.3,1119.2 2029.1,1140.2 2029.8,1161.4 2030.6,1173.8 2031.4,1182.3 2032.1,1189.0 2032.9,1194.9 2033.6,1200.5 2034.4,1206.0 2035.1,1210.8 2035.9,1215.0 2036.6,1218.6 2037.4,1221.4 2038.2,1223.2 2038.9,1223.9 2039.7,1224.5 2040.4,1224.5 2041.2,1224.0 2041.9,1223.3 2042.7,1222.2 2043.4,1220.8 2044.2,1219.1 2045.0,1217.0 2045.7,1214.5 2046.5,1211.4 2047.2,1207.1 2048.0,1201.8 2048.7,1195.7 2049.5,1189.1 2050.2,1180.8 2051.0,1170.9 2051.8,1159.3 2052.5,1145.6 2053.3,1127.6 2054.0,1109.2 2054.8,1094.3 2055.5,1081.8 2056.3,1071.8 2057.0,1064.6 2057.8,1060.1 2058.6,1058.3 2059.3,1059.0 2060.1,1061.0 2060.8,1064.5 2061.6,1070.4 2062.3,1077.9 2063.1,1085.5 2063.8,1093.3 2064.6,1101.4 2065.4,1109.5 2066.1,1117.7 2066.9,1126.0 2067.6,1134.9 2068.4,1145.3 2069.1,1156.2 2069.9,1166.3 2070.6,1175.0 2071.4,1182.6 2072.2,1189.6 2072.9,1196.2 2073.7,1202.0 2074.4,1206.4 2075.2,1209.7 2075.9,1211.9 2076.7,1211.6 2077.4,1208.8 2078.2,1203.8 2079.0,1196.3 2079.7,1186.5 2080.5,1175.2 2081.2,1160.1 2082.0,1143.1 2082.7,1130.6 2083.5,1125.6 2084.2,1130.2 2085.0,1140.8 2085.8,1154.8 2086.5,1173.1 2087.3,1190.1 2088.0,1200.9 2088.8,1208.5 2089.5,1213.2 2090.3,1215.0 2091.0,1216.4 2091.8,1217.8 2092.6,1219.1 2093.3,1220.3 2094.1,1221.5 2094.8,1222.6 2095.6,1223.8 2096.3,1224.9 2097.1,1226.0 2097.8,1226.8 2098.6,1227.5 2099.3,1227.9 2100.1,1228.2 2100.9,1228.4 2101.6,1228.3 2102.4,1228.0 2103.1,1227.3 2103.9,1226.3 2104.6,1224.8 2105.4,1223.0 2106.1,1221.2 2106.9,1219.3 2107.7,1217.4 2108.4,1215.6 2109.2,1214.0 2109.9,1212.5 2110.7,1210.9 2111.4,1208.2 2112.2,1201.3 2112.9,1194.8 2113.7,1191.6 2114.5,1191.8 2115.2,1198.5 2116.0,1207.7 2116.7,1210.7 2117.5,1212.0 2118.2,1212.8 2119.0,1213.1 2119.7,1212.9 2120.5,1212.6 2121.3,1212.3 2122.0,1211.9 2122.8,1211.2 2123.5,1209.9 2124.3,1208.3 2125.0,1206.5 2125.8,1204.6 2126.5,1202.8 2127.3,1201.2 2128.1,1200.0 2128.8,1199.0 2129.6,1198.0 2130.3,1196.9 2131.1,1195.6 2131.8,1193.9 2132.6,1191.7 2133.3,1189.2 2134.1,1186.4 2134.9,1183.3 2135.6,1178.9 2136.4,1173.6 2137.1,1166.4 2137.9,1158.3 2138.6,1159.4 2139.4,1167.5 2140.1,1170.0 2140.9,1170.7 2141.7,1171.4 2142.4,1172.2 2143.2,1173.0 2143.9,1173.9 2144.7,1174.8 2145.4,1175.7 2146.2,1176.5 2146.9,1176.1 2147.7,1174.8 2148.3,1173.5" fill="none" stroke="#000000" stroke-width="5.2" stroke-linejoin="round" stroke-linecap="butt"/>
<polyline points="343.8,1429.0 344.8,1428.3 345.8,1429.2 346.8,1429.0 347.8,1429.0 348.8,1428.9 349.8,1428.6 350.8,1429.4 351.8,1428.8 352.8,1428.8 353.8,1429.4 354.8,1429.2 355.8,1428.5 356.8,1429.2 357.8,1428.6 358.8,1429.7 359.8,1429.8 360.8,1429.2 361.8,1429.8 362.8,1428.4 363.8,1429.2 364.8,1428.4 365.8,1429.1 366.8,1428.5 367.8,1428.5 368.8,1429.4 369.8,1428.7 370.8,1428.5 371.8,1428.7 372.8,1428.9 373.8,1429.1 374.8,1428.7 375.8,1429.4 376.8,1429.2 377.8,1429.2 378.8,1429.0 379.8,1429.7 380.8,1429.3 381.8,1428.6 382.8,1429.5 383.8,1430.0 384.8,1429.2 385.8,1429.9 386.8,1428.9 387.8,1429.3 388.8,1429.0 389.8,1429.1 390.8,1429.7 391.8,1429.2 392.8,1430.0 393.8,1429.2 394.8,1428.4 395.8,1428.9 396.8,1429.8 397.8,1429.0 398.8,1428.3 399.8,1428.7 400.8,1428.3 401.8,1430.0 402.8,1430.0 403.8,1429.7 404.8,1429.3 405.8,1429.6 406.8,1428.5 407.8,1428.7 408.8,1429.1 409.8,1428.8 410.8,1428.2 411.8,1429.9 412.8,1428.9 413.8,1429.1 414.8,1428.7 415.8,1428.6 416.8,1428.8 417.8,1429.6 418.8,1429.4 419.8,1428.8 420.8,1428.1 421.8,1429.5 422.8,1428.5 423.8,1429.1 424.8,1428.1 425.8,1429.2 426.8,1428.7 427.8,1428.9 428.8,1428.7 429.8,1428.6 430.8,1429.0 431.8,1429.7 432.8,1428.2 433.8,1428.5 434.8,1428.0 435.8,1429.3 436.8,1429.1 437.8,1428.3 438.8,1428.6 439.8,1429.0 440.8,1429.1 441.8,1428.2 442.8,1429.4 443.8,1429.2 444.8,1428.1 445.8,1429.4 446.8,1429.1 447.8,1429.2 448.8,1428.7 449.8,1428.2 450.8,1429.4 451.8,1428.8 452.8,1428.3 453.8,1428.2 454.8,1429.3 455.8,1428.4 456.8,1428.6 457.8,1428.8 458.8,1429.1 459.8,1428.8 460.8,1427.9 461.8,1428.7 462.8,1428.5 463.8,1428.6 464.8,1428.8 465.8,1428.0 466.8,1427.9 467.8,1427.7 468.8,1428.0 469.8,1427.5 470.8,1428.7 471.8,1428.0 472.8,1427.8 473.8,1427.7 474.8,1428.0 475.8,1427.9 476.8,1428.0 477.8,1428.4 478.8,1428.5 479.8,1429.0 480.8,1429.3 481.8,1427.6 482.8,1427.9 483.8,1428.7 484.8,1427.8 485.8,1429.1 486.8,1427.9 487.8,1428.8 488.8,1428.7 489.8,1428.9 490.8,1427.6 491.8,1427.9 492.8,1428.8 493.8,1427.6 494.8,1427.5 495.8,1428.1 496.8,1428.5 497.8,1427.5 498.8,1427.5 499.8,1427.5 500.8,1428.1 501.8,1428.6 502.8,1427.7 503.8,1428.9 504.8,1428.1 505.8,1428.4 506.8,1427.7 507.8,1428.3 508.8,1428.9 509.8,1427.9 510.8,1427.4 511.8,1427.8 512.8,1427.7 513.8,1427.8 514.8,1427.8 515.8,1426.8 516.8,1427.0 517.8,1427.4 518.8,1427.8 519.8,1427.8 520.8,1427.8 521.8,1427.2 522.8,1427.9 523.8,1426.7 524.8,1426.8 525.8,1427.1 526.8,1427.1 527.8,1426.1 528.8,1426.7 529.8,1425.8 530.8,1426.0 531.8,1424.5 532.8,1424.3 533.8,1425.7 534.8,1424.0 535.8,1424.8 536.8,1423.9 537.8,1423.5 538.8,1423.6 539.8,1424.4 540.8,1423.5 541.8,1423.9 542.8,1423.3 543.8,1422.7 544.8,1422.5 545.8,1421.8 546.8,1421.2 547.8,1421.7 548.8,1421.7 549.8,1422.1 550.8,1421.5 551.8,1421.6 552.8,1421.5 553.8,1421.3 554.8,1420.9 555.8,1419.4 556.8,1419.6 557.8,1419.1 558.8,1420.1 559.8,1419.7 560.8,1418.7 561.8,1418.9 562.8,1419.1 563.8,1418.9 564.8,1417.6 565.8,1418.3 566.8,1418.2 567.8,1416.6 568.8,1416.5 569.8,1416.9 570.8,1416.3 571.8,1417.2 572.8,1416.8 573.8,1416.5 574.8,1416.5 575.8,1415.5 576.8,1415.1 577.8,1415.7 578.8,1415.2 579.8,1415.9 580.8,1415.3 581.8,1414.7 582.8,1415.4 583.8,1414.4 584.8,1413.9 585.8,1414.8 586.8,1414.1 587.8,1413.6 588.8,1414.2 589.8,1414.6 590.8,1413.2 591.8,1414.0 592.8,1413.9 593.8,1412.6 594.8,1413.8 595.8,1413.0 596.8,1412.3 597.8,1412.9 598.8,1412.4 599.8,1412.1 600.8,1411.8 601.8,1411.9 602.8,1412.3 603.8,1412.6 604.8,1411.6 605.8,1412.6 606.8,1411.5 607.8,1411.6 608.8,1412.6 609.8,1412.9 610.8,1413.1 611.8,1412.6 612.8,1412.3 613.8,1411.7 614.8,1412.6 615.8,1411.9 616.8,1412.6 617.8,1412.8 618.8,1413.2 619.8,1412.3 620.8,1413.5 621.8,1413.5 622.8,1413.2 623.8,1412.9 624.8,1412.9 625.8,1413.1 626.8,1413.2 627.8,1413.0 628.8,1412.5 629.8,1411.5 630.8,1412.4 631.8,1411.8 632.8,1411.4 633.8,1412.7 634.8,1412.5 635.8,1411.9 636.8,1411.7 637.8,1411.7 638.8,1411.2 639.8,1411.4 640.8,1411.4 641.8,1410.7 642.8,1412.2 643.8,1410.7 644.8,1411.4 645.8,1410.9 646.8,1411.1 647.8,1412.5 648.8,1411.5 649.8,1412.1 650.8,1411.0 651.8,1411.2 652.8,1412.3 653.8,1412.3 654.8,1411.0 655.8,1412.1 656.8,1411.2 657.8,1410.6 658.8,1410.0 659.8,1409.5 660.8,1410.2 661.8,1409.2 662.8,1408.4 663.8,1407.0 664.8,1406.8 665.8,1407.6 666.8,1406.3 667.8,1405.4 668.8,1404.2 669.8,1404.1 670.8,1403.6 671.8,1402.8 672.8,1402.5 673.8,1401.7 674.8,1400.8 675.8,1400.5 676.8,1400.3 677.8,1399.2 678.8,1399.5 679.8,1398.1 680.8,1397.7 681.8,1397.0 682.8,1396.3 683.8,1395.7 684.8,1394.9 685.8,1394.4 686.8,1393.6 687.8,1393.5 688.8,1392.8 689.8,1391.9 690.8,1391.8 691.8,1390.7 692.8,1390.3 693.8,1389.6 694.8,1388.7 695.8,1388.7 696.8,1387.9 697.8,1387.3 698.8,1386.7 699.8,1385.1 700.8,1384.9 701.8,1384.6 702.8,1383.2 703.8,1382.6 704.8,1382.2 705.8,1381.8 706.8,1380.9 707.8,1380.4 708.8,1380.4 709.8,1379.3 710.8,1379.7 711.8,1379.1 712.8,1379.0 713.8,1378.7 714.8,1377.9 715.8,1378.4 716.8,1378.2 717.8,1377.6 718.8,1377.3 719.8,1377.1 720.8,1377.3 721.8,1377.7 722.8,1377.9 723.8,1377.6 724.8,1377.7 725.8,1378.1 726.8,1379.0 727.8,1378.6 728.8,1379.1 729.8,1380.2 730.8,1380.2 731.8,1380.9 732.8,1382.1 733.8,1382.3 734.8,1383.4 735.8,1384.2 736.8,1384.7 737.8,1385.6 738.8,1386.6 739.8,1388.1 740.8,1388.2 741.8,1389.3 742.8,1390.5 743.8,1391.3 744.8,1392.6 745.8,1393.5 746.8,1394.3 747.8,1395.0 748.8,1396.1 749.8,1397.3 750.8,1398.2 751.8,1398.7 752.8,1399.8 753.8,1399.9 754.8,1400.5 755.8,1402.4 756.8,1402.4 757.8,1403.0 758.8,1404.0 759.8,1404.2 760.8,1405.6 761.8,1405.1 762.8,1406.2 763.8,1406.1 764.8,1407.0 765.8,1406.5 766.8,1407.6 767.8,1407.1 768.8,1406.2 769.8,1407.7 770.8,1408.0 771.8,1406.8 772.8,1408.6 773.8,1408.2 774.8,1408.9 775.8,1408.3 776.8,1410.0 777.8,1409.9 778.8,1410.1 779.8,1411.3 780.8,1411.0 781.8,1411.4 782.8,1410.9 783.8,1412.2 784.8,1412.9 785.8,1412.6 786.8,1413.5 787.8,1413.6 788.8,1413.3 789.8,1414.2 790.8,1414.3 791.8,1414.3 792.8,1415.0 793.8,1413.9 794.8,1414.5 795.8,1414.7 796.8,1415.7 797.8,1415.2 798.8,1415.1 799.8,1414.3 800.8,1414.8 801.8,1414.7 802.8,1415.7 803.8,1414.8 804.8,1415.5 805.8,1415.1 806.8,1415.5 807.8,1413.9 808.8,1415.5 809.8,1415.6 810.8,1414.1 811.8,1413.9 812.8,1414.3 813.8,1414.8 814.8,1414.6 815.8,1414.4 816.8,1415.3 817.8,1414.6 818.8,1415.2 819.8,1414.5 820.8,1413.8 821.8,1415.2 822.8,1415.2 823.8,1414.2 824.8,1414.7 825.8,1414.4 826.8,1413.6 827.8,1414.3 828.8,1414.4 829.8,1414.2 830.8,1414.1 831.8,1414.2 832.8,1414.4 833.8,1414.5 834.8,1413.2 835.8,1414.7 836.8,1413.8 837.8,1414.2 838.8,1413.7 839.8,1413.0 840.8,1414.1 841.8,1413.6 842.8,1413.9 843.8,1413.4 844.8,1413.2 845.8,1413.4 846.8,1414.4 847.8,1414.5 848.8,1414.6 849.8,1413.5 850.8,1414.2 851.8,1413.1 852.8,1414.1 853.8,1413.5 854.8,1414.3 855.8,1413.1 856.8,1414.2 857.8,1412.9 858.8,1414.3 859.8,1413.5 860.8,1413.0 861.8,1413.2 862.8,1413.9 863.8,1413.3 864.8,1412.8 865.8,1412.6 866.8,1413.3 867.8,1413.0 868.8,1411.8 869.8,1412.9 870.8,1411.5 871.8,1411.2 872.8,1410.1 873.8,1410.1 874.8,1409.6 875.8,1408.6 876.8,1406.3 877.8,1403.3 878.8,1400.9 879.8,1397.2 880.8,1393.4 881.8,1388.6 882.8,1383.7 883.8,1376.6 884.8,1368.8 885.8,1361.1 886.8,1352.1 887.8,1342.1 888.8,1331.1 889.8,1319.2 890.8,1305.9 891.8,1292.2 892.8,1277.7 893.8,1261.1 894.8,1242.8 895.8,1223.5 896.8,1206.7 897.8,1193.7 898.8,1182.4 899.8,1175.9 900.8,1174.0 901.8,1174.0 902.8,1175.7 903.8,1188.8 904.8,1208.6 905.8,1228.5 906.8,1250.0 907.8,1271.9 908.8,1291.3 909.8,1301.6 910.8,1307.0 911.8,1311.5 912.8,1311.0 913.8,1301.0 914.8,1289.8 915.8,1282.9 916.8,1277.3 917.8,1274.3 918.8,1273.7 919.8,1275.6 920.8,1277.1 921.8,1278.6 922.8,1279.8 923.8,1281.4 924.8,1283.5 925.8,1282.0 926.8,1278.9 927.8,1275.7 928.8,1272.5 929.8,1270.2 930.8,1267.8 931.8,1265.7 932.8,1264.1 933.8,1263.0 934.8,1263.2 935.8,1263.2 936.8,1264.1 937.8,1264.4 938.8,1265.7 939.8,1266.8 940.8,1267.6 941.8,1269.1 942.8,1269.4 943.8,1269.1 944.8,1266.9 945.8,1264.3 946.8,1260.6 947.8,1257.6 948.8,1254.4 949.8,1250.9 950.8,1249.3 951.8,1248.4 952.8,1248.4 953.8,1250.5 954.8,1252.9 955.8,1256.7 956.8,1260.4 957.8,1266.8 958.8,1276.6 959.8,1287.2 960.8,1297.0 961.8,1306.6 962.8,1317.0 963.8,1327.0 964.8,1337.3 965.8,1345.9 966.8,1353.7 967.8,1360.5 968.8,1365.9 969.8,1372.2 970.8,1376.4 971.8,1381.3 972.8,1384.8 973.8,1387.9 974.8,1389.5 975.8,1391.9 976.8,1393.7 977.8,1394.6 978.8,1395.9 979.8,1396.2 980.8,1396.9 981.8,1397.0 982.8,1397.2 983.8,1397.5 984.8,1397.7 985.8,1398.6 986.8,1398.6 987.8,1398.2 988.8,1398.4 989.8,1398.1 990.8,1398.7 991.8,1399.1 992.8,1399.1 993.8,1399.9 994.8,1400.8 995.8,1401.3 996.8,1402.2 997.8,1402.1 998.8,1403.8 999.8,1403.1 1000.8,1404.4 1001.8,1404.6 1002.8,1404.8 1003.8,1406.8 1004.8,1406.1 1005.8,1407.2 1006.8,1408.0 1007.8,1407.9 1008.8,1408.9 1009.8,1409.5 1010.8,1409.9 1011.8,1410.3 1012.8,1410.7 1013.8,1412.4 1014.8,1412.2 1015.8,1413.0 1016.8,1413.3 1017.8,1413.3 1018.8,1414.2 1019.8,1415.3 1020.8,1415.8 1021.8,1416.4 1022.8,1415.5 1023.8,1416.1 1024.8,1416.1 1025.8,1418.0 1026.8,1417.7 1027.8,1418.2 1028.8,1418.0 1029.8,1418.0 1030.8,1418.6 1031.8,1418.7 1032.8,1419.5 1033.8,1420.3 1034.8,1420.6 1035.8,1419.8 1036.8,1419.9 1037.8,1421.1 1038.8,1420.7 1039.8,1420.4 1040.8,1421.3 1041.8,1420.6 1042.8,1420.7 1043.8,1420.7 1044.8,1421.2 1045.8,1421.8 1046.8,1421.4 1047.8,1421.3 1048.8,1422.2 1049.8,1423.0 1050.8,1421.5 1051.8,1422.0 1052.8,1423.3 1053.8,1422.9 1054.8,1423.4 1055.8,1423.6 1056.8,1422.4 1057.8,1423.5 1058.8,1422.7 1059.8,1424.0 1060.8,1424.1 1061.8,1422.7 1062.8,1424.0 1063.8,1422.7 1064.8,1423.7 1065.8,1423.6 1066.8,1423.8 1067.8,1424.2 1068.8,1424.4 1069.8,1423.8 1070.8,1423.1 1071.8,1424.6 1072.8,1423.1 1073.8,1424.5 1074.8,1423.3 1075.8,1424.8 1076.8,1424.3 1077.8,1423.8 1078.8,1424.8 1079.8,1423.6 1080.8,1423.7 1081.8,1424.0 1082.8,1424.2 1083.8,1423.9 1084.8,1425.2 1085.8,1424.4 1086.8,1425.3 1087.8,1424.1 1088.8,1424.5 1089.8,1425.2 1090.8,1425.5 1091.8,1424.6 1092.8,1424.7 1093.8,1425.6 1094.8,1424.7 1095.8,1424.7 1096.8,1425.7 1097.8,1424.9 1098.8,1424.3 1099.8,1425.8 1100.8,1425.0 1101.8,1424.8 1102.8,1425.8 1103.8,1424.2 1104.8,1425.9 1105.8,1424.4 1106.8,1424.4 1107.8,1426.0 1108.8,1425.2 1109.8,1424.7 1110.8,1426.2 1111.8,1425.1 1112.8,1426.2 1113.8,1425.3 1114.8,1425.2 1115.8,1425.6 1116.8,1426.2 1117.8,1426.4 1118.8,1425.9 1119.8,1425.4 1120.8,1426.3 1121.8,1426.4 1122.8,1425.8 1123.8,1426.1 1124.8,1426.4 1125.8,1426.1 1126.8,1426.1 1127.8,1425.6 1128.8,1426.0 1129.8,1425.4 1130.8,1425.2 1131.8,1425.5 1132.8,1425.9 1133.8,1425.7 1134.8,1426.4 1135.8,1425.8 1136.8,1426.1 1137.8,1425.7 1138.8,1425.4 1139.8,1426.5 1140.8,1425.7 1141.8,1426.1 1142.8,1426.4 1143.8,1426.5 1144.8,1426.1 1145.8,1425.9 1146.8,1427.0 1147.8,1426.6 1148.8,1425.9 1149.8,1426.8 1150.8,1426.4 1151.8,1426.2 1152.8,1425.7 1153.8,1425.9 1154.8,1425.7 1155.8,1426.8 1156.8,1426.9 1157.8,1426.4 1158.8,1425.7 1159.8,1425.9 1160.8,1427.4 1161.8,1427.3 1162.8,1426.4 1163.8,1426.0 1164.8,1426.5 1165.8,1426.5 1166.8,1425.8 1167.8,1427.1 1168.8,1427.0 1169.8,1426.9 1170.8,1427.3 1171.8,1427.3 1172.8,1426.3 1173.8,1426.0 1174.8,1426.6 1175.8,1427.5 1176.8,1427.3 1177.8,1426.4 1178.8,1427.3 1179.8,1427.0 1180.8,1426.5 1181.8,1427.3 1182.8,1426.5 1183.8,1426.6 1184.8,1426.4 1185.8,1427.0 1186.8,1426.9 1187.8,1427.2 1188.8,1426.1 1189.8,1426.8 1190.8,1426.2 1191.8,1426.6 1192.8,1426.3 1193.8,1427.1 1194.8,1427.8 1195.8,1427.7 1196.8,1427.0 1197.8,1426.7 1198.8,1426.1 1199.8,1427.3 1200.8,1426.7 1201.8,1426.9 1202.8,1427.3 1203.8,1426.5 1204.8,1427.2 1205.8,1426.9 1206.8,1426.7 1207.8,1427.5 1208.8,1427.2 1209.8,1426.0 1210.8,1427.2 1211.8,1425.4 1212.8,1425.7 1213.8,1425.4 1214.8,1425.6 1215.8,1425.2 1216.8,1425.3 1217.8,1425.5 1218.8,1425.7 1219.8,1425.5 1220.8,1425.3 1221.8,1426.4 1222.8,1426.9 1223.8,1427.3 1224.8,1426.5 1225.8,1426.8 1226.8,1428.0 1227.8,1427.1 1228.8,1426.9 1229.8,1427.6 1230.8,1427.4 1231.8,1427.8 1232.8,1426.6 1233.8,1426.9 1234.8,1426.9 1235.8,1426.9 1236.8,1426.3 1237.8,1427.2 1238.8,1426.2 1239.8,1426.6 1240.8,1427.7 1241.8,1426.2 1242.8,1427.0 1243.8,1426.6 1244.8,1427.4 1245.8,1426.5 1246.8,1426.0 1247.8,1427.3 1248.8,1426.8 1249.8,1425.6 1250.8,1426.3 1251.8,1425.8 1252.8,1426.8 1253.8,1425.4 1254.8,1426.2 1255.8,1426.7 1256.8,1426.5 1257.8,1426.4 1258.8,1425.9 1259.8,1425.2 1260.8,1424.8 1261.8,1424.9 1262.8,1426.1 1263.8,1425.7 1264.8,1424.5 1265.8,1426.0 1266.8,1425.1 1267.8,1424.4 1268.8,1424.9 1269.8,1424.7 1270.8,1424.3 1271.8,1425.0 1272.8,1424.7 1273.8,1424.2 1274.8,1425.1 1275.8,1424.5 1276.8,1424.1 1277.8,1423.7 1278.8,1424.3 1279.8,1423.6 1280.8,1424.9 1281.8,1424.1 1282.8,1424.8 1283.8,1423.7 1284.8,1423.9 1285.8,1423.9 1286.8,1424.6 1287.8,1423.1 1288.8,1423.5 1289.8,1422.9 1290.8,1424.3 1291.8,1424.1 1292.8,1423.2 1293.8,1423.6 1294.8,1423.2 1295.8,1423.2 1296.8,1423.5 1297.8,1423.6 1298.8,1421.9 1299.8,1422.6 1300.8,1423.1 1301.8,1422.0 1302.8,1421.6 1303.8,1421.3 1304.8,1422.0 1305.8,1421.2 1306.8,1421.4 1307.8,1421.3 1308.8,1421.7 1309.8,1422.2 1310.8,1422.2 1311.8,1420.9 1312.8,1420.8 1313.8,1421.5 1314.8,1421.4 1315.8,1420.6 1316.8,1421.8 1317.8,1421.5 1318.8,1420.4 1319.8,1420.9 1320.8,1420.2 1321.8,1420.9 1322.8,1421.0 1323.8,1420.3 1324.8,1420.1 1325.8,1420.3 1326.8,1420.9 1327.8,1420.1 1328.8,1420.3 1329.8,1420.4 1330.8,1420.9 1331.8,1421.1 1332.8,1420.8 1333.8,1421.4 1334.8,1422.0 1335.8,1420.8 1336.8,1422.3 1337.8,1421.2 1338.8,1421.8 1339.8,1421.5 1340.8,1422.2 1341.8,1422.6 1342.8,1422.5 1343.8,1422.3 1344.8,1422.3 1345.8,1421.6 1346.8,1422.9 1347.8,1423.2 1348.8,1422.7 1349.8,1422.6 1350.8,1421.9 1351.8,1422.2 1352.8,1422.3 1353.8,1422.1 1354.8,1423.5 1355.8,1423.4 1356.8,1422.4 1357.8,1422.0 1358.8,1422.4 1359.8,1422.0 1360.8,1422.6 1361.8,1421.8 1362.8,1421.5 1363.8,1422.4 1364.8,1421.9 1365.8,1422.3 1366.8,1421.9 1367.8,1422.0 1368.8,1421.3 1369.8,1421.6 1370.8,1421.3 1371.8,1421.4 1372.8,1420.2 1373.8,1421.9 1374.8,1420.5 1375.8,1420.1 1376.8,1420.5 1377.8,1421.1 1378.8,1421.5 1379.8,1421.3 1380.8,1420.4 1381.8,1421.2 1382.8,1419.8 1383.8,1419.8 1384.8,1420.0 1385.8,1421.0 1386.8,1420.9 1387.8,1419.8 1388.8,1420.8 1389.8,1420.8 1390.8,1419.7 1391.8,1420.6 1392.8,1420.0 1393.8,1419.4 1394.8,1420.1 1395.8,1420.0 1396.8,1420.7 1397.8,1420.0 1398.8,1420.5 1399.8,1419.7 1400.8,1420.2 1401.8,1420.5 1402.8,1418.8 1403.8,1419.5 1404.8,1419.4 1405.8,1420.0 1406.8,1418.5 1407.8,1419.5 1408.8,1418.9 1409.8,1419.2 1410.8,1419.5 1411.8,1419.3 1412.8,1418.5 1413.8,1418.4 1414.8,1419.5 1415.8,1418.7 1416.8,1419.5 1417.8,1418.8 1418.8,1417.9 1419.8,1417.7 1420.8,1417.9 1421.8,1418.6 1422.8,1417.9 1423.8,1418.0 1424.8,1417.9 1425.8,1417.1 1426.8,1417.3 1427.8,1417.1 1428.8,1418.0 1429.8,1416.1 1430.8,1417.5 1431.8,1415.7 1432.8,1416.0 1433.8,1415.2 1434.8,1414.9 1435.8,1415.5 1436.8,1415.1 1437.8,1415.2 1438.8,1414.1 1439.8,1414.2 1440.8,1415.2 1441.8,1414.1 1442.8,1415.7 1443.8,1415.8 1444.8,1415.2 1445.8,1415.7 1446.8,1415.2 1447.8,1415.9 1448.8,1414.9 1449.8,1415.5 1450.8,1416.1 1451.8,1416.3 1452.8,1417.4 1453.8,1417.6 1454.8,1416.2 1455.8,1416.6 1456.8,1416.5 1457.8,1417.1 1458.8,1418.4 1459.8,1417.9 1460.8,1417.1 1461.8,1418.1 1462.8,1419.0 1463.8,1419.2 1464.8,1419.3 1465.8,1419.1 1466.8,1418.4 1467.8,1419.7 1468.8,1418.7 1469.8,1419.9 1470.8,1418.5 1471.8,1418.6 1472.8,1420.1 1473.8,1419.0 1474.8,1419.7 1475.8,1419.6 1476.8,1419.6 1477.8,1419.8 1478.8,1420.1 1479.8,1420.8 1480.8,1420.5 1481.8,1421.1 1482.8,1421.0 1483.8,1419.8 1484.8,1420.3 1485.8,1420.5 1486.8,1420.1 1487.8,1420.6 1488.8,1421.3 1489.8,1420.0 1490.8,1421.0 1491.8,1421.3 1492.8,1419.9 1493.8,1421.0 1494.8,1419.7 1495.8,1421.0 1496.8,1419.8 1497.8,1419.7 1498.8,1420.8 1499.8,1419.6 1500.8,1419.4 1501.8,1419.4 1502.8,1420.0 1503.8,1418.7 1504.8,1418.8 1505.8,1418.6 1506.8,1419.2 1507.8,1418.3 1508.8,1419.7 1509.8,1418.7 1510.8,1418.8 1511.8,1417.9 1512.8,1418.6 1513.8,1417.3 1514.8,1417.2 1515.8,1418.5 1516.8,1417.0 1517.8,1417.3 1518.8,1417.2 1519.8,1416.3 1520.8,1416.8 1521.8,1416.0 1522.8,1416.4 1523.8,1415.4 1524.8,1415.3 1525.8,1415.1 1526.8,1413.9 1527.8,1413.8 1528.8,1413.4 1529.8,1413.7 1530.8,1413.5 1531.8,1414.0 1532.8,1412.5 1533.8,1411.9 1534.8,1413.0 1535.8,1411.9 1536.8,1412.3 1537.8,1410.9 1538.8,1410.0 1539.8,1410.4 1540.8,1411.0 1541.8,1409.0 1542.8,1409.4 1543.8,1409.8 1544.7,1408.3 1547.9,1410.3 1548.6,1409.2 1549.4,1407.5 1550.1,1405.5 1550.9,1403.2 1551.6,1400.8 1552.4,1397.9 1553.1,1393.5 1553.9,1387.6 1554.7,1380.6 1555.4,1372.8 1556.2,1364.0 1556.9,1352.9 1557.7,1338.6 1558.4,1319.9 1559.2,1298.0 1559.9,1275.3 1560.7,1252.5 1561.5,1230.3 1562.2,1208.6 1563.0,1187.3 1563.7,1166.8 1564.5,1151.4 1565.2,1143.4 1566.0,1140.0 1566.7,1139.0 1567.5,1140.8 1568.3,1146.2 1569.0,1154.1 1569.8,1162.4 1570.5,1169.0 1571.3,1173.2 1572.0,1176.9 1572.8,1179.9 1573.5,1182.2 1574.3,1183.8 1575.1,1184.9 1575.8,1185.8 1576.6,1186.8 1577.3,1188.2 1578.1,1190.2 1578.8,1192.7 1579.6,1196.1 1580.3,1200.5 1581.1,1206.3 1581.9,1214.6 1582.6,1225.3 1583.4,1237.0 1584.1,1248.2 1584.9,1257.6 1585.6,1265.4 1586.4,1273.1 1587.1,1280.5 1587.9,1287.4 1588.7,1293.7 1589.4,1299.6 1590.2,1305.2 1590.9,1310.6 1591.7,1315.9 1592.4,1320.9 1593.2,1325.7 1593.9,1330.3 1594.7,1334.8 1595.5,1339.1 1596.2,1343.1 1597.0,1346.6 1597.7,1349.7 1598.5,1352.1 1599.2,1354.3 1600.0,1356.1 1600.7,1357.8 1601.5,1359.3 1602.2,1360.6 1603.0,1361.8 1603.8,1363.0 1604.5,1364.0 1605.3,1365.0 1606.0,1366.0 1606.8,1366.8 1607.5,1367.6 1608.3,1368.2 1609.0,1368.7 1609.8,1369.1 1610.6,1369.1 1611.3,1368.9 1612.1,1368.5 1612.8,1368.0 1613.6,1367.3 1614.3,1366.6 1615.1,1365.9 1615.8,1365.1 1616.6,1364.0 1617.4,1362.4 1618.1,1360.0 1618.9,1356.8 1619.6,1351.9 1620.4,1345.4 1621.1,1338.1 1621.9,1330.7 1622.6,1321.9 1623.4,1312.8 1624.2,1305.4 1624.9,1302.0 1625.7,1301.6 1626.4,1302.4 1627.2,1304.4 1627.9,1307.8 1628.7,1310.7 1629.4,1311.2 1630.2,1307.9 1631.0,1301.5 1631.7,1293.3 1632.5,1282.0 1633.2,1268.5 1634.0,1257.1 1634.7,1250.1 1635.5,1247.5 1636.2,1249.7 1637.0,1255.9 1637.8,1266.1 1638.5,1279.8 1639.3,1294.9 1640.0,1308.3 1640.8,1319.7 1641.5,1330.1 1642.3,1339.0 1643.0,1346.0 1643.8,1351.4 1644.6,1355.4 1645.3,1358.4 1646.1,1360.5 1646.8,1362.0 1647.6,1362.9 1648.3,1363.1 1649.1,1362.5 1649.8,1361.0 1650.6,1358.3 1651.4,1354.5 1652.1,1349.9 1652.9,1344.4 1653.6,1338.1 1654.4,1330.8 1655.1,1322.1 1655.9,1311.6 1656.6,1299.1 1657.4,1285.2 1658.2,1270.7 1658.9,1255.6 1659.7,1240.0 1660.4,1223.6 1661.2,1206.9 1661.9,1190.1 1662.7,1173.3 1663.4,1156.5 1664.2,1139.9 1665.0,1123.3 1665.7,1107.0 1666.5,1090.8 1667.2,1077.4 1668.0,1067.6 1668.7,1059.6 1669.5,1052.4 1670.2,1047.7 1671.0,1045.6 1671.8,1046.3 1672.5,1051.5 1673.3,1063.6 1674.0,1080.3 1674.8,1097.5 1675.5,1114.9 1676.3,1132.5 1677.0,1150.3 1677.8,1168.1 1678.6,1185.4 1679.3,1200.9 1680.1,1213.9 1680.8,1224.8 1681.6,1233.6 1682.3,1240.6 1683.1,1246.0 1683.8,1249.8 1684.6,1252.3 1685.4,1254.2 1686.1,1255.8 1686.9,1257.4 1687.6,1259.1 1688.4,1261.2 1689.1,1264.0 1689.9,1267.6 1690.6,1271.6 1691.4,1275.6 1692.2,1279.1 1692.9,1281.7 1693.7,1283.2 1694.4,1283.8 1695.2,1283.3 1695.9,1282.0 1696.7,1279.7 1697.4,1276.5 1698.2,1271.6 1699.0,1265.4 1699.7,1258.9 1700.5,1253.3 1701.2,1249.5 1702.0,1246.6 1702.7,1244.2 1703.5,1242.1 1704.2,1240.5 1705.0,1240.4 1705.7,1240.8 1706.5,1240.5 1707.3,1238.1 1708.0,1233.1 1708.8,1226.4 1709.5,1218.5 1710.3,1210.0 1711.0,1201.3 1711.8,1192.4 1712.5,1183.4 1713.3,1174.6 1714.1,1166.5 1714.8,1159.2 1715.6,1152.3 1716.3,1146.0 1717.1,1143.0 1717.8,1143.5 1718.6,1147.4 1719.3,1155.6 1720.1,1168.3 1720.9,1184.1 1721.6,1200.7 1722.4,1215.8 1723.1,1230.0 1723.9,1243.2 1724.6,1254.7 1725.4,1263.6 1726.1,1268.5 1726.9,1270.4 1727.7,1270.8 1728.4,1270.8 1729.2,1270.3 1729.9,1267.5 1730.7,1260.8 1731.4,1250.7 1732.2,1239.2 1732.9,1226.9 1733.7,1213.9 1734.5,1200.1 1735.2,1186.9 1736.0,1176.9 1736.7,1173.5 1737.5,1176.5 1738.2,1182.1 1739.0,1189.4 1739.7,1197.9 1740.5,1207.1 1741.3,1215.6 1742.0,1222.6 1742.8,1228.4 1743.5,1233.2 1744.3,1237.4 1745.0,1241.1 1745.8,1244.0 1746.5,1246.2 1747.3,1247.7 1748.1,1248.8 1748.8,1249.2 1749.6,1247.8 1750.3,1244.7 1751.1,1239.8 1751.8,1232.8 1752.6,1220.7 1753.3,1204.8 1754.1,1186.4 1754.9,1162.2 1755.6,1135.8 1756.4,1114.2 1757.1,1100.6 1757.9,1094.9 1758.6,1097.2 1759.4,1110.4 1760.1,1136.5 1760.9,1168.7 1761.7,1198.6 1762.4,1226.3 1763.2,1251.9 1763.9,1273.4 1764.7,1287.7 1765.4,1294.4 1766.2,1294.8 1766.9,1292.4 1767.7,1289.6 1768.5,1286.2 1769.2,1282.0 1770.0,1277.2 1770.7,1272.3 1771.5,1267.4 1772.2,1262.7 1773.0,1258.4 1773.7,1254.6 1774.5,1251.8 1775.3,1250.8 1776.0,1251.5 1776.8,1252.8 1777.5,1254.4 1778.3,1256.1 1779.0,1257.4 1779.8,1258.1 1780.5,1258.8 1781.3,1259.5 1782.1,1260.1 1782.8,1260.7 1783.6,1261.3 1784.3,1261.8 1785.1,1262.2 1785.8,1262.4 1786.6,1262.5 1787.3,1262.3 1788.1,1261.9 1788.9,1261.4 1789.6,1260.7 1790.4,1259.9 1791.1,1258.9 1791.9,1257.7 1792.6,1256.3 1793.4,1254.8 1794.1,1253.0 1794.9,1251.2 1795.7,1249.2 1796.4,1247.3 1797.2,1245.0 1797.9,1242.2 1798.7,1239.7 1799.4,1238.0 1800.2,1239.5 1800.9,1243.0 1801.7,1246.4 1802.4,1248.0 1803.2,1249.3 1804.0,1249.7 1804.7,1248.2 1805.5,1244.3 1806.2,1239.4 1807.0,1234.1 1807.7,1229.3 1808.5,1225.2 1809.2,1221.2 1810.0,1217.3 1810.8,1213.2 1811.5,1206.9 1812.3,1198.1 1813.0,1186.7 1813.8,1158.7 1814.5,1109.8 1815.3,1048.2 1816.0,989.9 1816.8,936.1 1817.6,895.1 1818.3,877.8 1819.1,870.6 1819.8,876.9 1820.6,898.8 1821.3,935.0 1822.1,973.1 1822.8,1005.0 1823.6,1033.5 1824.4,1056.7 1825.1,1072.7 1825.9,1082.0 1826.6,1085.4 1827.4,1083.3 1828.1,1078.5 1828.9,1069.8 1829.6,1058.3 1830.4,1045.7 1831.2,1031.5 1831.9,1015.4 1832.7,998.8 1833.4,981.6 1834.2,964.3 1834.9,945.6 1835.7,925.8 1836.4,907.0 1837.2,893.4 1838.0,886.2 1838.7,882.2 1839.5,883.0 1840.2,893.7 1841.0,916.2 1841.7,944.1 1842.5,975.2 1843.2,1009.3 1844.0,1041.1 1844.8,1067.5 1845.5,1088.5 1846.3,1102.7 1847.0,1110.9 1847.8,1118.6 1848.5,1125.9 1849.3,1132.7 1850.0,1139.4 1850.8,1146.1 1851.6,1152.6 1852.3,1159.2 1853.1,1167.2 1853.8,1173.3 1854.6,1173.1 1855.3,1168.3 1856.1,1163.4 1856.8,1158.6 1857.6,1153.7 1858.4,1148.8 1859.1,1143.8 1859.9,1144.0 1860.6,1150.7 1861.4,1157.7 1862.1,1161.2 1862.9,1164.4 1863.6,1166.7 1864.4,1167.7 1865.2,1166.6 1865.9,1163.5 1866.7,1158.8 1867.4,1153.0 1868.2,1146.4 1868.9,1139.3 1869.7,1131.5 1870.4,1123.1 1871.2,1113.9 1872.0,1104.0 1872.7,1091.5 1873.5,1076.6 1874.2,1063.0 1875.0,1053.8 1875.7,1046.8 1876.5,1040.3 1877.2,1033.9 1878.0,1027.4 1878.8,1020.6 1879.5,1014.0 1880.3,1007.6 1881.0,1000.8 1881.8,992.9 1882.5,983.4 1883.3,972.1 1884.0,959.4 1884.8,946.0 1885.6,932.4 1886.3,919.2 1887.1,906.0 1887.8,892.7 1888.6,879.4 1889.3,866.0 1890.1,852.5 1890.8,838.7 1891.6,823.4 1892.4,805.6 1893.1,784.4 1893.9,759.9 1894.6,733.4 1895.4,705.8 1896.1,677.8 1896.9,649.4 1897.6,621.1 1898.4,593.1 1899.1,565.7 1899.9,538.9 1900.7,512.6 1901.4,487.0 1902.2,463.6 1902.9,443.2 1903.7,425.4 1904.4,410.0 1905.2,396.6 1905.9,384.7 1906.7,374.2 1907.5,364.6 1908.2,355.5 1909.0,347.5 1909.7,341.1 1910.5,336.2 1911.2,332.5 1912.0,329.9 1912.7,328.3 1913.5,327.3 1914.3,326.9 1915.0,327.5 1915.8,329.1 1916.5,331.7 1917.3,335.2 1918.0,339.4 1918.8,344.3 1919.5,349.8 1920.3,355.9 1921.1,362.5 1921.8,369.7 1922.6,377.4 1923.3,386.1 1924.1,395.6 1924.8,406.1 1925.6,417.6 1926.3,430.1 1927.1,443.6 1927.9,458.0 1928.6,473.1 1929.4,489.0 1930.1,505.9 1930.9,523.9 1931.6,542.4 1932.4,560.8 1933.1,578.4 1933.9,594.9 1934.7,610.5 1935.4,625.5 1936.2,639.8 1936.9,653.7 1937.7,666.6 1938.4,677.6 1939.2,686.7 1939.9,694.0 1940.7,699.4 1941.5,702.3 1942.2,702.2 1943.0,698.3 1943.7,692.0 1944.5,685.0 1945.2,677.4 1946.0,669.3 1946.7,660.5 1947.5,651.5 1948.3,642.6 1949.0,634.6 1949.8,629.5 1950.5,626.4 1951.3,626.3 1952.0,633.7 1952.8,651.4 1953.5,672.8 1954.3,696.0 1955.1,720.0 1955.8,744.1 1956.6,768.5 1957.3,793.3 1958.1,818.8 1958.8,846.0 1959.6,876.1 1960.3,909.1 1961.1,942.7 1961.9,974.7 1962.6,1005.7 1963.4,1035.4 1964.1,1062.8 1964.9,1085.6 1965.6,1104.8 1966.4,1121.3 1967.1,1136.3 1967.9,1150.1 1968.7,1162.6 1969.4,1173.6 1970.2,1183.4 1970.9,1192.4 1971.7,1199.8 1972.4,1205.0 1973.2,1208.4 1973.9,1211.1 1974.7,1213.5 1975.5,1216.4 1976.2,1220.3 1977.0,1225.1 1977.7,1230.3 1978.5,1235.5 1979.2,1240.3 1980.0,1244.5 1980.7,1247.7 1981.5,1250.1 1982.3,1252.0 1983.0,1253.5 1983.8,1254.0 1984.5,1253.1 1985.3,1250.8 1986.0,1246.3 1986.8,1238.5 1987.5,1228.4 1988.3,1216.6 1989.1,1201.0 1989.8,1186.2 1990.6,1176.7 1991.3,1169.5 1992.1,1163.4 1992.8,1158.1 1993.6,1153.3 1994.3,1148.9 1995.1,1145.0 1995.9,1142.0 1996.6,1140.2 1997.4,1139.7 1998.1,1140.5 1998.9,1142.4 1999.6,1145.4 2000.4,1149.2 2001.1,1153.7 2001.9,1158.9 2002.6,1165.4 2003.4,1172.3 2004.2,1178.2 2004.9,1182.3 2005.7,1184.9 2006.4,1186.5 2007.2,1187.7 2007.9,1186.6 2008.7,1183.8 2009.4,1182.5 2010.2,1186.0 2011.0,1192.7 2011.7,1200.7 2012.5,1209.1 2013.2,1217.7 2014.0,1226.9 2014.7,1235.6 2015.5,1242.8 2016.2,1246.0 2017.0,1246.4 2017.8,1245.4 2018.5,1243.8 2019.3,1240.7 2020.0,1234.9 2020.8,1225.7 2021.5,1215.5 2022.3,1204.9 2023.0,1194.1 2023.8,1183.0 2024.6,1171.4 2025.3,1159.8 2026.1,1149.1 2026.8,1141.4 2027.6,1137.2 2028.3,1135.1 2029.1,1133.7 2029.8,1132.5 2030.6,1132.0 2031.4,1132.9 2032.1,1135.6 2032.9,1139.2 2033.6,1143.5 2034.4,1148.0 2035.1,1153.0 2035.9,1158.9 2036.6,1164.9 2037.4,1170.3 2038.2,1173.3 2038.9,1173.3 2039.7,1170.7 2040.4,1165.8 2041.2,1155.2 2041.9,1142.6 2042.7,1134.4 2043.4,1130.8 2044.2,1127.9 2045.0,1125.5 2045.7,1123.7 2046.5,1122.3 2047.2,1121.0 2048.0,1119.0 2048.7,1113.7 2049.5,1104.6 2050.2,1092.1 2051.0,1071.7 2051.8,1043.5 2052.5,1007.9 2053.3,966.9 2054.0,930.8 2054.8,898.7 2055.5,872.7 2056.3,856.8 2057.0,843.5 2057.8,830.8 2058.6,818.7 2059.3,806.7 2060.1,794.7 2060.8,782.7 2061.6,770.7 2062.3,758.7 2063.1,746.7 2063.8,734.7 2064.6,723.7 2065.4,714.6 2066.1,706.5 2066.9,701.0 2067.6,701.6 2068.4,705.8 2069.1,715.3 2069.9,730.0 2070.6,748.4 2071.4,773.0 2072.2,811.5 2072.9,855.6 2073.7,899.9 2074.4,944.5 2075.2,989.2 2075.9,1031.2 2076.7,1060.0 2077.4,1080.5 2078.2,1098.0 2079.0,1110.1 2079.7,1113.5 2080.5,1113.0 2081.2,1111.6 2082.0,1109.6 2082.7,1104.9 2083.5,1100.8 2084.2,1102.2 2085.0,1113.7 2085.8,1130.0 2086.5,1146.4 2087.3,1164.2 2088.0,1178.9 2088.8,1188.4 2089.5,1194.5 2090.3,1198.3 2091.0,1201.0 2091.8,1203.0 2092.6,1204.7 2093.3,1207.0 2094.1,1210.4 2094.8,1215.1 2095.6,1220.1 2096.3,1224.3 2097.1,1226.7 2097.8,1228.4 2098.6,1230.1 2099.3,1231.9 2100.1,1233.6 2100.9,1235.3 2101.6,1237.1 2102.4,1238.8 2103.1,1240.5 2103.9,1242.3 2104.6,1244.0 2105.4,1244.7 2106.1,1244.3 2106.9,1243.1 2107.7,1241.5 2108.4,1239.9 2109.2,1238.2 2109.9,1236.2 2110.7,1233.7 2111.4,1230.7 2112.2,1227.0 2112.9,1222.4 2113.7,1217.1 2114.5,1212.0 2115.2,1207.6 2116.0,1203.4 2116.7,1199.7 2117.5,1196.6 2118.2,1194.4 2119.0,1194.1 2119.7,1195.4 2120.5,1197.0 2121.3,1197.6 2122.0,1196.6 2122.8,1195.4 2123.5,1194.0 2124.3,1192.7 2125.0,1191.6 2125.8,1190.8 2126.5,1190.1 2127.3,1189.4 2128.1,1188.9 2128.8,1188.5 2129.6,1188.4 2130.3,1189.1 2131.1,1190.1 2131.8,1191.3 2132.6,1192.1 2133.3,1192.2 2134.1,1191.1 2134.9,1189.2 2135.6,1187.0 2136.4,1181.3 2137.1,1172.3 2137.9,1151.2 2138.6,1156.6 2139.4,1172.9 2140.1,1172.6 2140.9,1171.7 2141.7,1176.9 2142.4,1185.2 2143.2,1192.1 2143.9,1196.9 2144.7,1201.3 2145.4,1204.7 2146.2,1207.5 2146.9,1209.6 2147.7,1211.2 2147.9,1211.4" fill="none" stroke="#ff0000" stroke-width="5.2" stroke-linejoin="round" stroke-linecap="butt"/>
<polyline points="343.8,1429.6 344.8,1429.9 345.8,1429.1 346.8,1429.5 347.8,1430.2 348.8,1430.2 349.8,1428.8 350.8,1429.0 351.8,1428.7 352.8,1429.4 353.8,1428.6 354.8,1429.4 355.8,1429.7 356.8,1429.1 357.8,1429.8 358.8,1429.6 359.8,1428.6 360.8,1429.6 361.8,1429.0 362.8,1429.3 363.8,1429.1 364.8,1429.8 365.8,1429.4 366.8,1428.9 367.8,1429.6 368.8,1430.0 369.8,1429.1 370.8,1429.0 371.8,1429.3 372.8,1430.3 373.8,1430.3 374.8,1429.8 375.8,1430.2 376.8,1430.1 377.8,1429.3 378.8,1428.7 379.8,1429.8 380.8,1429.6 381.8,1429.2 382.8,1429.0 383.8,1429.3 384.8,1429.4 385.8,1429.1 386.8,1429.1 387.8,1429.4 388.8,1430.1 389.8,1429.6 390.8,1429.1 391.8,1429.1 392.8,1429.4 393.8,1428.9 394.8,1428.9 395.8,1429.5 396.8,1428.7 397.8,1429.5 398.8,1429.2 399.8,1429.9 400.8,1429.9 401.8,1429.8 402.8,1429.8 403.8,1429.3 404.8,1429.8 405.8,1429.2 406.8,1429.6 407.8,1429.2 408.8,1429.4 409.8,1428.7 410.8,1429.0 411.8,1430.3 412.8,1429.0 413.8,1429.8 414.8,1429.8 415.8,1429.9 416.8,1429.4 417.8,1429.7 418.8,1428.7 419.8,1428.7 420.8,1428.9 421.8,1428.9 422.8,1428.8 423.8,1428.8 424.8,1429.6 425.8,1428.9 426.8,1430.3 427.8,1429.8 428.8,1429.6 429.8,1429.9 430.8,1429.1 431.8,1430.2 432.8,1430.1 433.8,1429.9 434.8,1429.4 435.8,1430.1 436.8,1429.9 437.8,1429.8 438.8,1430.2 439.8,1429.7 440.8,1429.2 441.8,1429.5 442.8,1428.9 443.8,1428.9 444.8,1429.8 445.8,1429.9 446.8,1430.2 447.8,1430.0 448.8,1429.4 449.8,1428.6 450.8,1429.3 451.8,1430.1 452.8,1429.8 453.8,1429.3 454.8,1429.2 455.8,1428.8 456.8,1428.7 457.8,1428.5 458.8,1429.9 459.8,1429.5 460.8,1428.6 461.8,1429.0 462.8,1428.4 463.8,1428.7 464.8,1429.6 465.8,1429.4 466.8,1429.1 467.8,1428.7 468.8,1429.4 469.8,1429.9 470.8,1429.0 471.8,1428.4 472.8,1428.3 473.8,1428.4 474.8,1430.0 475.8,1429.3 476.8,1429.8 477.8,1428.6 478.8,1428.8 479.8,1429.6 480.8,1430.0 481.8,1429.0 482.8,1428.6 483.8,1430.1 484.8,1429.1 485.8,1429.9 486.8,1428.9 487.8,1429.9 488.8,1430.2 489.8,1430.0 490.8,1429.4 491.8,1430.1 492.8,1429.1 493.8,1429.4 494.8,1429.7 495.8,1430.5 496.8,1429.2 497.8,1430.6 498.8,1430.5 499.8,1430.8 500.8,1429.8 501.8,1429.5 502.8,1429.6 503.8,1430.7 504.8,1430.9 505.8,1430.5 506.8,1430.1 507.8,1429.7 508.8,1430.7 509.8,1430.8 510.8,1429.4 511.8,1429.6 512.8,1430.7 513.8,1430.8 514.8,1429.8 515.8,1429.7 516.8,1429.9 517.8,1430.1 518.8,1429.3 519.8,1430.6 520.8,1430.0 521.8,1430.4 522.8,1429.3 523.8,1430.6 524.8,1430.1 525.8,1429.3 526.8,1430.2 527.8,1429.7 528.8,1429.8 529.8,1428.2 530.8,1428.0 531.8,1429.1 532.8,1428.1 533.8,1428.3 534.8,1427.5 535.8,1428.8 536.8,1427.7 537.8,1428.1 538.8,1426.6 539.8,1427.1 540.8,1426.2 541.8,1427.5 542.8,1426.5 543.8,1425.7 544.8,1425.5 545.8,1426.2 546.8,1425.1 547.8,1425.2 548.8,1425.4 549.8,1425.4 550.8,1425.3 551.8,1425.2 552.8,1424.6 553.8,1424.9 554.8,1423.9 555.8,1423.9 556.8,1424.6 557.8,1423.3 558.8,1423.3 559.8,1423.1 560.8,1423.4 561.8,1422.3 562.8,1422.2 563.8,1422.8 564.8,1422.1 565.8,1422.8 566.8,1422.8 567.8,1422.3 568.8,1422.3 569.8,1421.6 570.8,1420.8 571.8,1421.3 572.8,1421.0 573.8,1421.3 574.8,1420.3 575.8,1420.3 576.8,1421.3 577.8,1420.1 578.8,1420.3 579.8,1421.1 580.8,1419.8 581.8,1419.5 582.8,1420.4 583.8,1420.1 584.8,1420.0 585.8,1418.9 586.8,1419.5 587.8,1418.6 588.8,1419.0 589.8,1419.7 590.8,1418.4 591.8,1418.8 592.8,1419.9 593.8,1419.8 594.8,1418.8 595.8,1419.2 596.8,1418.9 597.8,1418.6 598.8,1419.2 599.8,1417.9 600.8,1419.0 601.8,1417.5 602.8,1418.9 603.8,1418.5 604.8,1418.1 605.8,1418.4 606.8,1418.0 607.8,1418.6 608.8,1417.4 609.8,1418.1 610.8,1418.8 611.8,1418.9 612.8,1417.7 613.8,1417.8 614.8,1419.0 615.8,1418.1 616.8,1417.6 617.8,1418.8 618.8,1418.3 619.8,1418.9 620.8,1418.4 621.8,1418.5 622.8,1418.3 623.8,1418.0 624.8,1419.1 625.8,1418.6 626.8,1418.8 627.8,1418.9 628.8,1417.6 629.8,1418.7 630.8,1418.5 631.8,1417.8 632.8,1417.8 633.8,1416.9 634.8,1417.9 635.8,1416.8 636.8,1417.4 637.8,1416.5 638.8,1416.4 639.8,1417.3 640.8,1417.0 641.8,1417.4 642.8,1417.6 643.8,1418.0 644.8,1416.5 645.8,1417.5 646.8,1417.5 647.8,1417.7 648.8,1417.6 649.8,1417.6 650.8,1418.2 651.8,1417.5 652.8,1417.6 653.8,1417.7 654.8,1416.5 655.8,1416.9 656.8,1416.1 657.8,1415.8 658.8,1415.3 659.8,1415.3 660.8,1415.0 661.8,1415.2 662.8,1415.1 663.8,1415.3 664.8,1414.5 665.8,1415.1 666.8,1414.2 667.8,1414.8 668.8,1414.4 669.8,1414.5 670.8,1413.8 671.8,1414.9 672.8,1414.3 673.8,1412.8 674.8,1413.1 675.8,1413.4 676.8,1411.2 677.8,1411.1 678.8,1411.3 679.8,1409.4 680.8,1410.1 681.8,1409.2 682.8,1408.9 683.8,1408.0 684.8,1408.1 685.8,1406.4 686.8,1406.2 687.8,1404.7 688.8,1405.0 689.8,1404.1 690.8,1404.6 691.8,1403.9 692.8,1401.8 693.8,1401.1 694.8,1400.6 695.8,1400.4 696.8,1400.3 697.8,1399.6 698.8,1399.0 699.8,1398.3 700.8,1397.3 701.8,1397.2 702.8,1397.2 703.8,1396.5 704.8,1395.7 705.8,1394.8 706.8,1395.0 707.8,1394.1 708.8,1393.9 709.8,1393.1 710.8,1393.0 711.8,1392.7 712.8,1392.5 713.8,1391.8 714.8,1392.2 715.8,1391.6 716.8,1391.9 717.8,1391.8 718.8,1391.8 719.8,1391.4 720.8,1391.4 721.8,1391.9 722.8,1391.7 723.8,1391.6 724.8,1392.6 725.8,1391.9 726.8,1393.1 727.8,1392.9 728.8,1393.4 729.8,1394.4 730.8,1394.3 731.8,1395.0 732.8,1395.3 733.8,1396.3 734.8,1396.8 735.8,1397.2 736.8,1397.5 737.8,1398.6 738.8,1399.5 739.8,1400.0 740.8,1401.1 741.8,1401.3 742.8,1402.6 743.8,1403.4 744.8,1404.4 745.8,1405.3 746.8,1406.1 747.8,1406.3 748.8,1407.1 749.8,1408.6 750.8,1408.5 751.8,1409.9 752.8,1411.1 753.8,1411.7 754.8,1411.8 755.8,1412.0 756.8,1413.2 757.8,1413.8 758.8,1413.7 759.8,1413.4 760.8,1413.4 761.8,1412.6 762.8,1412.8 763.8,1412.3 764.8,1413.2 765.8,1413.8 766.8,1412.5 767.8,1412.4 768.8,1413.8 769.8,1413.3 770.8,1413.7 771.8,1413.1 772.8,1413.5 773.8,1414.6 774.8,1414.7 775.8,1415.5 776.8,1416.0 777.8,1415.3 778.8,1416.1 779.8,1416.2 780.8,1416.7 781.8,1416.8 782.8,1418.2 783.8,1417.9 784.8,1417.2 785.8,1418.5 786.8,1419.2 787.8,1419.3 788.8,1418.9 789.8,1418.0 790.8,1419.6 791.8,1419.9 792.8,1419.6 793.8,1419.0 794.8,1419.0 795.8,1419.6 796.8,1418.5 797.8,1419.7 798.8,1419.2 799.8,1418.4 800.8,1419.7 801.8,1418.9 802.8,1418.4 803.8,1418.5 804.8,1419.7 805.8,1418.4 806.8,1419.5 807.8,1419.5 808.8,1418.2 809.8,1418.8 810.8,1419.4 811.8,1418.8 812.8,1419.4 813.8,1418.5 814.8,1418.9 815.8,1418.1 816.8,1419.2 817.8,1419.1 818.8,1418.6 819.8,1418.1 820.8,1418.1 821.8,1418.5 822.8,1417.6 823.8,1418.2 824.8,1417.8 825.8,1417.8 826.8,1417.7 827.8,1418.6 828.8,1417.4 829.8,1417.4 830.8,1417.3 831.8,1416.9 832.8,1417.6 833.8,1418.3 834.8,1418.4 835.8,1417.6 836.8,1417.5 837.8,1418.2 838.8,1417.6 839.8,1417.6 840.8,1417.7 841.8,1416.7 842.8,1418.0 843.8,1416.6 844.8,1417.4 845.8,1418.1 846.8,1417.4 847.8,1417.0 848.8,1417.6 849.8,1417.9 850.8,1417.4 851.8,1416.3 852.8,1417.8 853.8,1416.2 854.8,1417.4 855.8,1417.9 856.8,1416.6 857.8,1417.3 858.8,1417.7 859.8,1416.8 860.8,1417.0 861.8,1416.6 862.8,1416.7 863.8,1416.5 864.8,1416.7 865.8,1417.3 866.8,1417.0 867.8,1416.9 868.8,1416.4 869.8,1416.5 870.8,1415.1 871.8,1415.4 872.8,1413.9 873.8,1414.1 874.8,1413.9 875.8,1412.3 876.8,1411.0 877.8,1409.9 878.8,1408.5 879.8,1407.2 880.8,1404.5 881.8,1400.5 882.8,1397.1 883.8,1392.3 884.8,1386.1 885.8,1379.7 886.8,1372.7 887.8,1364.8 888.8,1356.1 889.8,1346.0 890.8,1334.4 891.8,1322.6 892.8,1307.8 893.8,1293.3 894.8,1275.9 895.8,1259.0 896.8,1240.2 897.8,1222.5 898.8,1204.0 899.8,1187.7 900.8,1173.1 901.8,1171.1 902.8,1171.6 903.8,1179.4 904.8,1199.0 905.8,1223.3 906.8,1248.4 907.8,1277.2 908.8,1301.5 909.8,1317.0 910.8,1325.9 911.8,1332.2 912.8,1331.8 913.8,1327.4 914.8,1321.3 915.8,1317.2 916.8,1314.7 917.8,1311.5 918.8,1312.0 919.8,1313.2 920.8,1315.0 921.8,1316.5 922.8,1317.5 923.8,1318.8 924.8,1320.4 925.8,1321.6 926.8,1322.1 927.8,1318.9 928.8,1315.1 929.8,1311.2 930.8,1308.5 931.8,1306.9 932.8,1304.9 933.8,1303.5 934.8,1302.5 935.8,1303.4 936.8,1304.4 937.8,1306.2 938.8,1306.8 939.8,1308.8 940.8,1310.6 941.8,1312.3 942.8,1313.5 943.8,1314.8 944.8,1314.6 945.8,1312.6 946.8,1309.7 947.8,1307.7 948.8,1305.8 949.8,1304.4 950.8,1302.8 951.8,1301.3 952.8,1301.1 953.8,1300.8 954.8,1301.8 955.8,1305.0 956.8,1308.3 957.8,1313.6 958.8,1319.0 959.8,1324.6 960.8,1331.4 961.8,1339.0 962.8,1346.2 963.8,1352.4 964.8,1357.7 965.8,1363.0 966.8,1368.3 967.8,1372.9 968.8,1377.8 969.8,1382.3 970.8,1386.2 971.8,1389.7 972.8,1393.6 973.8,1396.1 974.8,1398.5 975.8,1399.8 976.8,1400.8 977.8,1402.1 978.8,1403.2 979.8,1402.8 980.8,1404.6 981.8,1405.2 982.8,1405.3 983.8,1405.7 984.8,1405.0 985.8,1404.9 986.8,1405.3 987.8,1405.0 988.8,1405.6 989.8,1406.4 990.8,1405.9 991.8,1407.4 992.8,1407.1 993.8,1407.1 994.8,1408.5 995.8,1408.6 996.8,1409.0 997.8,1409.8 998.8,1411.1 999.8,1411.1 1000.8,1410.8 1001.8,1412.4 1002.8,1411.5 1003.8,1412.4 1004.8,1412.8 1005.8,1414.4 1006.8,1413.1 1007.8,1414.7 1008.8,1414.9 1009.8,1414.7 1010.8,1416.0 1011.8,1416.8 1012.8,1417.1 1013.8,1416.3 1014.8,1418.1 1015.8,1417.7 1016.8,1419.0 1017.8,1418.9 1018.8,1418.4 1019.8,1420.0 1020.8,1420.1 1021.8,1420.2 1022.8,1420.9 1023.8,1420.9 1024.8,1420.5 1025.8,1422.4 1026.8,1421.6 1027.8,1421.8 1028.8,1421.7 1029.8,1423.2 1030.8,1423.8 1031.8,1423.3 1032.8,1424.2 1033.8,1423.6 1034.8,1423.9 1035.8,1424.0 1036.8,1424.2 1037.8,1424.9 1038.8,1424.6 1039.8,1424.3 1040.8,1425.6 1041.8,1425.0 1042.8,1425.3 1043.8,1425.0 1044.8,1424.9 1045.8,1426.1 1046.8,1425.8 1047.8,1426.8 1048.8,1425.2 1049.8,1426.8 1050.8,1425.4 1051.8,1425.7 1052.8,1425.5 1053.8,1426.4 1054.8,1426.2 1055.8,1426.2 1056.8,1427.4 1057.8,1426.8 1058.8,1427.5 1059.8,1427.4 1060.8,1426.5 1061.8,1427.1 1062.8,1426.3 1063.8,1426.7 1064.8,1427.3 1065.8,1427.1 1066.8,1426.3 1067.8,1426.4 1068.8,1427.6 1069.8,1427.6 1070.8,1427.5 1071.8,1426.8 1072.8,1427.8 1073.8,1427.5 1074.8,1426.8 1075.8,1426.9 1076.8,1427.7 1077.8,1428.4 1078.8,1427.8 1079.8,1427.3 1080.8,1428.1 1081.8,1427.2 1082.8,1428.1 1083.8,1427.7 1084.8,1427.0 1085.8,1428.0 1086.8,1428.0 1087.8,1428.8 1088.8,1428.4 1089.8,1427.7 1090.8,1428.4 1091.8,1427.7 1092.8,1428.5 1093.8,1428.4 1094.8,1428.5 1095.8,1427.7 1096.8,1428.7 1097.8,1428.4 1098.8,1428.8 1099.8,1427.6 1100.8,1428.9 1101.8,1429.3 1102.8,1428.6 1103.8,1427.8 1104.8,1429.3 1105.8,1428.6 1106.8,1428.2 1107.8,1428.8 1108.8,1429.2 1109.8,1427.9 1110.8,1428.7 1111.8,1428.9 1112.8,1429.4 1113.8,1427.9 1114.8,1428.7 1115.8,1429.2 1116.8,1429.0 1117.8,1429.4 1118.8,1429.1 1119.8,1429.1 1120.8,1429.0 1121.8,1428.3 1122.8,1429.5 1123.8,1428.9 1124.8,1428.1 1125.8,1429.5 1126.8,1429.3 1127.8,1429.3 1128.8,1428.2 1129.8,1429.4 1130.8,1428.7 1131.8,1429.6 1132.8,1428.5 1133.8,1428.8 1134.8,1428.4 1135.8,1428.3 1136.8,1428.8 1137.8,1429.5 1138.8,1429.1 1139.8,1428.9 1140.8,1430.0 1141.8,1429.7 1142.8,1430.1 1143.8,1428.9 1144.8,1428.8 1145.8,1430.2 1146.8,1428.6 1147.8,1429.9 1148.8,1430.2 1149.8,1429.8 1150.8,1429.6 1151.8,1429.2 1152.8,1429.1 1153.8,1428.7 1154.8,1429.3 1155.8,1429.5 1156.8,1429.1 1157.8,1430.4 1158.8,1430.5 1159.8,1429.2 1160.8,1429.8 1161.8,1430.3 1162.8,1429.8 1163.8,1429.4 1164.8,1430.3 1165.8,1429.8 1166.8,1430.0 1167.8,1430.2 1168.8,1429.4 1169.8,1430.2 1170.8,1429.4 1171.8,1430.1 1172.8,1429.4 1173.8,1430.4 1174.8,1429.6 1175.8,1430.8 1176.8,1429.3 1177.8,1430.3 1178.8,1430.6 1179.8,1430.6 1180.8,1430.0 1181.8,1430.1 1182.8,1429.6 1183.8,1430.7 1184.8,1430.5 1185.8,1430.1 1186.8,1430.1 1187.8,1430.8 1188.8,1430.2 1189.8,1429.3 1190.8,1429.4 1191.8,1430.6 1192.8,1430.1 1193.8,1430.2 1194.8,1430.0 1195.8,1429.3 1196.8,1430.7 1197.8,1429.9 1198.8,1430.1 1199.8,1430.0 1200.8,1429.5 1201.8,1431.0 1202.8,1431.0 1203.8,1429.3 1204.8,1429.4 1205.8,1429.9 1206.8,1431.0 1207.8,1430.0 1208.8,1430.6 1209.8,1429.5 1210.8,1429.6 1211.8,1430.1 1212.8,1429.6 1213.8,1428.8 1214.8,1429.0 1215.8,1429.2 1216.8,1428.7 1217.8,1428.3 1218.8,1428.3 1219.8,1429.4 1220.8,1428.6 1221.8,1428.9 1222.8,1429.4 1223.8,1431.1 1224.8,1431.4 1225.8,1430.8 1226.8,1430.6 1227.8,1431.1 1228.8,1431.9 1229.8,1431.2 1230.8,1431.7 1231.8,1431.6 1232.8,1431.4 1233.8,1431.4 1234.8,1430.6 1235.8,1429.9 1236.8,1430.9 1237.8,1431.1 1238.8,1430.5 1239.8,1429.7 1240.8,1430.8 1241.8,1430.7 1242.8,1430.7 1243.8,1430.1 1244.8,1430.6 1245.8,1429.2 1246.8,1429.8 1247.8,1430.5 1248.8,1430.4 1249.8,1430.0 1250.8,1429.5 1251.8,1429.5 1252.8,1429.1 1253.8,1428.7 1254.8,1429.8 1255.8,1429.2 1256.8,1428.7 1257.8,1428.6 1258.8,1428.3 1259.8,1428.2 1260.8,1429.0 1261.8,1428.3 1262.8,1428.3 1263.8,1429.2 1264.8,1427.7 1265.8,1429.2 1266.8,1428.2 1267.8,1428.8 1268.8,1428.7 1269.8,1428.4 1270.8,1427.2 1271.8,1428.2 1272.8,1427.7 1273.8,1427.4 1274.8,1427.7 1275.8,1427.8 1276.8,1427.2 1277.8,1427.2 1278.8,1426.7 1279.8,1426.5 1280.8,1427.2 1281.8,1427.8 1282.8,1426.1 1283.8,1427.0 1284.8,1426.8 1285.8,1426.9 1286.8,1426.1 1287.8,1425.8 1288.8,1425.8 1289.8,1426.7 1290.8,1426.6 1291.8,1426.4 1292.8,1425.3 1293.8,1425.4 1294.8,1425.1 1295.8,1425.7 1296.8,1424.8 1297.8,1425.6 1298.8,1425.5 1299.8,1424.9 1300.8,1424.1 1301.8,1424.2 1302.8,1424.6 1303.8,1424.8 1304.8,1423.7 1305.8,1424.4 1306.8,1424.8 1307.8,1426.5 1308.8,1426.8 1309.8,1426.9 1310.8,1425.5 1311.8,1425.2 1312.8,1426.3 1313.8,1425.1 1314.8,1424.3 1315.8,1425.0 1316.8,1424.4 1317.8,1423.6 1318.8,1424.7 1319.8,1423.6 1320.8,1424.4 1321.8,1422.9 1322.8,1422.5 1323.8,1424.0 1324.8,1423.0 1325.8,1424.2 1326.8,1423.5 1327.8,1424.0 1328.8,1423.1 1329.8,1423.5 1330.8,1424.3 1331.8,1424.9 1332.8,1424.8 1333.8,1425.0 1334.8,1424.8 1335.8,1425.2 1336.8,1423.9 1337.8,1423.6 1338.8,1423.9 1339.8,1424.5 1340.8,1424.1 1341.8,1423.5 1342.8,1423.6 1343.8,1423.9 1344.8,1424.1 1345.8,1424.0 1346.8,1424.5 1347.8,1424.7 1348.8,1425.1 1349.8,1424.3 1350.8,1425.3 1351.8,1424.4 1352.8,1424.5 1353.8,1424.5 1354.8,1425.2 1355.8,1425.2 1356.8,1424.7 1357.8,1424.6 1358.8,1424.2 1359.8,1425.6 1360.8,1425.2 1361.8,1425.5 1362.8,1425.1 1363.8,1425.8 1364.8,1425.8 1365.8,1425.1 1366.8,1424.9 1367.8,1424.4 1368.8,1425.3 1369.8,1425.1 1370.8,1424.3 1371.8,1424.4 1372.8,1423.4 1373.8,1423.6 1374.8,1423.1 1375.8,1424.1 1376.8,1423.4 1377.8,1423.9 1378.8,1423.4 1379.8,1422.4 1380.8,1422.8 1381.8,1423.2 1382.8,1423.8 1383.8,1423.3 1384.8,1422.7 1385.8,1423.2 1386.8,1423.1 1387.8,1423.7 1388.8,1423.0 1389.8,1421.9 1390.8,1423.6 1391.8,1422.0 1392.8,1422.4 1393.8,1423.4 1394.8,1422.8 1395.8,1422.8 1396.8,1422.3 1397.8,1422.2 1398.8,1421.9 1399.8,1422.7 1400.8,1421.9 1401.8,1421.4 1402.8,1421.5 1403.8,1421.3 1404.8,1422.6 1405.8,1421.4 1406.8,1421.3 1407.8,1422.0 1408.8,1421.3 1409.8,1422.2 1410.8,1421.9 1411.8,1421.6 1412.8,1421.4 1413.8,1421.1 1414.8,1421.1 1415.8,1421.5 1416.8,1420.3 1417.8,1420.5 1418.8,1421.2 1419.8,1421.1 1420.8,1420.8 1421.8,1420.1 1422.8,1419.9 1423.8,1420.4 1424.8,1419.8 1425.8,1420.5 1426.8,1420.4 1427.8,1420.2 1428.8,1419.9 1429.8,1420.1 1430.8,1419.2 1431.8,1418.3 1432.8,1417.9 1433.8,1417.3 1434.8,1417.9 1435.8,1417.9 1436.8,1417.4 1437.8,1416.4 1438.8,1417.5 1439.8,1417.5 1440.8,1416.9 1441.8,1417.3 1442.8,1416.6 1443.8,1417.6 1444.8,1416.7 1445.8,1417.4 1446.8,1418.4 1447.8,1418.3 1448.8,1418.0 1449.8,1419.1 1450.8,1418.8 1451.8,1419.5 1452.8,1418.9 1453.8,1419.4 1454.8,1419.5 1455.8,1418.6 1456.8,1419.0 1457.8,1419.1 1458.8,1419.5 1459.8,1421.0 1460.8,1420.6 1461.8,1420.9 1462.8,1421.4 1463.8,1420.2 1464.8,1421.4 1465.8,1421.1 1466.8,1421.0 1467.8,1421.8 1468.8,1422.0 1469.8,1421.8 1470.8,1422.1 1471.8,1422.5 1472.8,1421.7 1473.8,1422.7 1474.8,1422.1 1475.8,1423.0 1476.8,1422.8 1477.8,1422.7 1478.8,1423.4 1479.8,1422.7 1480.8,1422.2 1481.8,1422.8 1482.8,1422.6 1483.8,1423.7 1484.8,1422.3 1485.8,1423.1 1486.8,1423.0 1487.8,1422.2 1488.8,1423.3 1489.8,1423.0 1490.8,1422.7 1491.8,1423.6 1492.8,1422.1 1493.8,1423.0 1494.8,1422.3 1495.8,1422.6 1496.8,1422.3 1497.8,1422.8 1498.8,1423.1 1499.8,1421.6 1500.8,1422.2 1501.8,1422.6 1502.8,1421.7 1503.8,1421.7 1504.8,1422.7 1505.8,1421.0 1506.8,1421.8 1507.8,1421.8 1508.8,1421.6 1509.8,1420.4 1510.8,1421.9 1511.8,1420.0 1512.8,1419.9 1513.8,1420.6 1514.8,1419.6 1515.8,1419.8 1516.8,1420.5 1517.8,1419.9 1518.8,1419.7 1519.8,1420.1 1520.8,1418.4 1521.8,1419.7 1522.8,1418.8 1523.8,1418.5 1524.8,1417.0 1525.8,1418.2 1526.8,1417.0 1527.8,1416.7 1528.8,1416.8 1529.8,1416.0 1530.8,1416.7 1531.8,1416.3 1532.8,1415.0 1533.8,1414.4 1534.8,1414.4 1535.8,1415.1 1536.8,1413.5 1537.8,1413.5 1538.8,1412.7 1539.8,1412.8 1540.8,1413.4 1541.8,1412.0 1542.8,1411.0 1543.8,1411.8 1544.7,1411.8 1547.9,1407.4 1548.6,1407.0 1549.4,1406.4 1550.1,1405.6 1550.9,1404.5 1551.6,1403.3 1552.4,1401.5 1553.1,1397.9 1553.9,1392.9 1554.7,1387.1 1555.4,1380.9 1556.2,1374.7 1556.9,1367.7 1557.7,1358.6 1558.4,1346.3 1559.2,1330.9 1559.9,1314.5 1560.7,1297.1 1561.5,1280.5 1562.2,1264.3 1563.0,1248.6 1563.7,1233.9 1564.5,1222.9 1565.2,1216.8 1566.0,1213.8 1566.7,1212.0 1567.5,1211.6 1568.3,1214.5 1569.0,1218.4 1569.8,1222.5 1570.5,1226.1 1571.3,1228.7 1572.0,1231.0 1572.8,1233.0 1573.5,1234.6 1574.3,1235.6 1575.1,1236.0 1575.8,1236.1 1576.6,1236.3 1577.3,1236.8 1578.1,1237.7 1578.8,1239.1 1579.6,1241.3 1580.3,1244.5 1581.1,1249.0 1581.9,1255.2 1582.6,1262.8 1583.4,1271.0 1584.1,1278.9 1584.9,1285.6 1585.6,1291.4 1586.4,1297.1 1587.1,1302.6 1587.9,1307.9 1588.7,1313.0 1589.4,1317.8 1590.2,1322.5 1590.9,1326.8 1591.7,1330.9 1592.4,1334.8 1593.2,1338.5 1593.9,1342.0 1594.7,1345.2 1595.5,1348.2 1596.2,1350.9 1597.0,1353.3 1597.7,1355.4 1598.5,1357.1 1599.2,1358.7 1600.0,1360.2 1600.7,1361.6 1601.5,1363.0 1602.2,1364.3 1603.0,1365.5 1603.8,1366.7 1604.5,1367.9 1605.3,1369.0 1606.0,1370.1 1606.8,1371.1 1607.5,1372.0 1608.3,1372.9 1609.0,1373.8 1609.8,1374.5 1610.6,1375.0 1611.3,1375.1 1612.1,1375.0 1612.8,1374.6 1613.6,1374.4 1614.3,1374.1 1615.1,1373.6 1615.8,1372.9 1616.6,1371.6 1617.4,1369.5 1618.1,1366.5 1618.9,1362.4 1619.6,1357.5 1620.4,1352.0 1621.1,1346.2 1621.9,1340.3 1622.6,1333.7 1623.4,1326.9 1624.2,1321.1 1624.9,1318.2 1625.7,1318.0 1626.4,1318.7 1627.2,1320.2 1627.9,1323.0 1628.7,1325.2 1629.4,1325.1 1630.2,1321.5 1631.0,1315.3 1631.7,1307.8 1632.5,1298.3 1633.2,1287.2 1634.0,1277.9 1634.7,1272.5 1635.5,1271.3 1636.2,1274.2 1637.0,1279.8 1637.8,1288.0 1638.5,1298.3 1639.3,1308.9 1640.0,1319.1 1640.8,1328.6 1641.5,1337.9 1642.3,1346.6 1643.0,1354.4 1643.8,1360.2 1644.6,1364.1 1645.3,1366.8 1646.1,1368.8 1646.8,1370.2 1647.6,1371.0 1648.3,1371.3 1649.1,1370.9 1649.8,1369.8 1650.6,1368.1 1651.4,1365.7 1652.1,1362.6 1652.9,1358.7 1653.6,1354.0 1654.4,1348.3 1655.1,1341.7 1655.9,1334.0 1656.6,1325.2 1657.4,1315.6 1658.2,1305.5 1658.9,1294.7 1659.7,1283.1 1660.4,1270.3 1661.2,1257.0 1661.9,1243.5 1662.7,1229.9 1663.4,1216.2 1664.2,1202.5 1665.0,1188.5 1665.7,1174.5 1666.5,1160.7 1667.2,1149.3 1668.0,1141.3 1668.7,1134.8 1669.5,1129.1 1670.2,1125.4 1671.0,1124.1 1671.8,1125.2 1672.5,1129.7 1673.3,1139.3 1674.0,1152.2 1674.8,1165.5 1675.5,1178.9 1676.3,1192.7 1677.0,1206.7 1677.8,1220.6 1678.6,1234.0 1679.3,1245.3 1680.1,1254.2 1680.8,1261.3 1681.6,1266.9 1682.3,1271.9 1683.1,1276.0 1683.8,1278.9 1684.6,1281.0 1685.4,1283.0 1686.1,1284.9 1686.9,1286.9 1687.6,1288.8 1688.4,1290.7 1689.1,1292.6 1689.9,1294.5 1690.6,1296.3 1691.4,1298.1 1692.2,1299.9 1692.9,1301.6 1693.7,1302.6 1694.4,1302.9 1695.2,1302.5 1695.9,1301.3 1696.7,1299.5 1697.4,1297.0 1698.2,1292.9 1699.0,1287.4 1699.7,1281.7 1700.5,1276.4 1701.2,1272.6 1702.0,1269.7 1702.7,1267.2 1703.5,1265.1 1704.2,1263.7 1705.0,1264.3 1705.7,1265.6 1706.5,1266.1 1707.3,1264.2 1708.0,1260.0 1708.8,1254.6 1709.5,1248.3 1710.3,1241.6 1711.0,1234.5 1711.8,1227.0 1712.5,1219.5 1713.3,1212.5 1714.1,1206.5 1714.8,1201.5 1715.6,1197.2 1716.3,1193.3 1717.1,1190.8 1717.8,1190.8 1718.6,1193.5 1719.3,1199.6 1720.1,1209.0 1720.9,1220.1 1721.6,1231.6 1722.4,1242.5 1723.1,1253.1 1723.9,1263.3 1724.6,1272.4 1725.4,1279.6 1726.1,1282.9 1726.9,1283.3 1727.7,1282.7 1728.4,1282.5 1729.2,1282.5 1729.9,1280.2 1730.7,1273.4 1731.4,1263.4 1732.2,1253.2 1732.9,1242.9 1733.7,1232.6 1734.5,1222.3 1735.2,1212.0 1736.0,1204.0 1736.7,1202.4 1737.5,1204.9 1738.2,1209.3 1739.0,1215.5 1739.7,1223.3 1740.5,1231.6 1741.3,1239.5 1742.0,1246.1 1742.8,1252.2 1743.5,1257.9 1744.3,1263.3 1745.0,1268.6 1745.8,1273.4 1746.5,1277.7 1747.3,1281.4 1748.1,1284.8 1748.8,1287.2 1749.6,1287.2 1750.3,1285.2 1751.1,1281.7 1751.8,1276.7 1752.6,1268.8 1753.3,1258.2 1754.1,1245.6 1754.9,1228.3 1755.6,1209.4 1756.4,1193.9 1757.1,1184.0 1757.9,1179.3 1758.6,1180.1 1759.4,1188.8 1760.1,1207.7 1760.9,1229.8 1761.7,1251.1 1762.4,1271.8 1763.2,1291.7 1763.9,1309.9 1764.7,1322.7 1765.4,1328.1 1766.2,1328.2 1766.9,1326.3 1767.7,1324.1 1768.5,1321.4 1769.2,1318.2 1770.0,1313.9 1770.7,1309.1 1771.5,1304.6 1772.2,1301.6 1773.0,1300.8 1773.7,1300.8 1774.5,1300.8 1775.3,1300.8 1776.0,1300.8 1776.8,1300.8 1777.5,1300.8 1778.3,1300.8 1779.0,1300.8 1779.8,1300.8 1780.5,1300.8 1781.3,1300.8 1782.1,1300.8 1782.8,1300.8 1783.6,1300.8 1784.3,1300.8 1785.1,1300.7 1785.8,1300.6 1786.6,1300.4 1787.3,1300.2 1788.1,1299.8 1788.9,1299.4 1789.6,1298.8 1790.4,1298.2 1791.1,1297.3 1791.9,1296.1 1792.6,1294.7 1793.4,1293.1 1794.1,1291.5 1794.9,1289.8 1795.7,1288.2 1796.4,1286.4 1797.2,1284.4 1797.9,1282.5 1798.7,1280.6 1799.4,1279.2 1800.2,1280.1 1800.9,1282.6 1801.7,1285.0 1802.4,1285.9 1803.2,1286.4 1804.0,1286.0 1804.7,1283.5 1805.5,1278.8 1806.2,1273.0 1807.0,1266.9 1807.7,1261.2 1808.5,1256.1 1809.2,1251.3 1810.0,1246.6 1810.8,1241.5 1811.5,1232.4 1812.3,1218.9 1813.0,1201.0 1813.8,1162.4 1814.5,1096.1 1815.3,1014.5 1816.0,926.6 1816.8,832.1 1817.6,755.4 1818.3,717.7 1819.1,699.1 1819.8,699.3 1820.6,719.0 1821.3,774.8 1822.1,834.7 1822.8,895.8 1823.6,956.6 1824.4,1006.1 1825.1,1041.9 1825.9,1069.9 1826.6,1088.5 1827.4,1096.8 1828.1,1099.8 1828.9,1096.7 1829.6,1089.6 1830.4,1081.6 1831.2,1072.0 1831.9,1060.4 1832.7,1047.9 1833.4,1035.3 1834.2,1023.6 1834.9,1013.3 1835.7,1004.2 1836.4,996.2 1837.2,990.6 1838.0,988.1 1838.7,986.7 1839.5,987.3 1840.2,995.3 1841.0,1013.8 1841.7,1036.2 1842.5,1060.0 1843.2,1085.0 1844.0,1108.9 1844.8,1129.2 1845.5,1145.6 1846.3,1158.1 1847.0,1167.5 1847.8,1175.5 1848.5,1182.3 1849.3,1188.1 1850.0,1193.3 1850.8,1198.3 1851.6,1202.9 1852.3,1206.6 1853.1,1209.4 1853.8,1210.8 1854.6,1211.0 1855.3,1210.3 1856.1,1209.0 1856.8,1205.4 1857.6,1200.8 1858.4,1197.6 1859.1,1197.9 1859.9,1201.1 1860.6,1205.4 1861.4,1208.9 1862.1,1210.7 1862.9,1212.2 1863.6,1212.9 1864.4,1212.5 1865.2,1210.8 1865.9,1208.1 1866.7,1204.4 1867.4,1199.8 1868.2,1194.2 1868.9,1188.0 1869.7,1181.7 1870.4,1175.0 1871.2,1168.0 1872.0,1160.7 1872.7,1152.8 1873.5,1144.7 1874.2,1136.5 1875.0,1128.5 1875.7,1121.1 1876.5,1114.1 1877.2,1107.4 1878.0,1100.9 1878.8,1094.3 1879.5,1087.6 1880.3,1080.6 1881.0,1073.6 1881.8,1066.3 1882.5,1058.8 1883.3,1051.0 1884.0,1042.1 1884.8,1031.4 1885.6,1019.3 1886.3,1006.5 1887.1,993.1 1887.8,979.3 1888.6,964.7 1889.3,949.3 1890.1,933.4 1890.8,917.0 1891.6,899.8 1892.4,881.3 1893.1,860.8 1893.9,837.9 1894.6,812.8 1895.4,786.1 1896.1,757.9 1896.9,728.5 1897.6,698.3 1898.4,668.0 1899.1,638.0 1899.9,608.7 1900.7,580.0 1901.4,551.9 1902.2,524.3 1902.9,498.3 1903.7,475.0 1904.4,453.9 1905.2,434.9 1905.9,418.1 1906.7,403.4 1907.5,390.8 1908.2,379.7 1909.0,369.6 1909.7,360.7 1910.5,353.5 1911.2,347.9 1912.0,343.3 1912.7,339.6 1913.5,337.2 1914.3,335.7 1915.0,334.7 1915.8,334.4 1916.5,334.8 1917.3,335.8 1918.0,337.3 1918.8,339.8 1919.5,343.2 1920.3,347.3 1921.1,351.7 1921.8,356.4 1922.6,361.2 1923.3,365.9 1924.1,370.3 1924.8,374.9 1925.6,380.4 1926.3,387.5 1927.1,396.7 1927.9,407.1 1928.6,418.3 1929.4,430.0 1930.1,441.8 1930.9,453.4 1931.6,465.1 1932.4,477.0 1933.1,488.8 1933.9,500.6 1934.7,511.9 1935.4,521.6 1936.2,530.0 1936.9,537.3 1937.7,543.2 1938.4,546.2 1939.2,547.2 1939.9,546.9 1940.7,545.1 1941.5,541.2 1942.2,535.0 1943.0,527.1 1943.7,517.9 1944.5,507.5 1945.2,496.1 1946.0,483.6 1946.7,470.6 1947.5,458.0 1948.3,446.7 1949.0,437.4 1949.8,429.8 1950.5,424.8 1951.3,428.3 1952.0,438.7 1952.8,454.8 1953.5,478.4 1954.3,510.1 1955.1,545.5 1955.8,584.9 1956.6,627.0 1957.3,669.6 1958.1,712.9 1958.8,757.1 1959.6,802.2 1960.3,847.2 1961.1,891.2 1961.9,932.2 1962.6,969.2 1963.4,1002.3 1964.1,1030.7 1964.9,1054.8 1965.6,1075.3 1966.4,1093.4 1967.1,1110.6 1967.9,1126.3 1968.7,1139.8 1969.4,1150.6 1970.2,1160.5 1970.9,1169.6 1971.7,1177.3 1972.4,1183.4 1973.2,1188.8 1973.9,1194.3 1974.7,1199.8 1975.5,1205.3 1976.2,1210.8 1977.0,1216.3 1977.7,1221.7 1978.5,1227.2 1979.2,1232.7 1980.0,1238.2 1980.7,1242.9 1981.5,1246.9 1982.3,1250.4 1983.0,1253.4 1983.8,1254.9 1984.5,1255.2 1985.3,1254.8 1986.0,1253.3 1986.8,1250.0 1987.5,1244.3 1988.3,1236.0 1989.1,1226.8 1989.8,1218.6 1990.6,1211.6 1991.3,1205.1 1992.1,1199.5 1992.8,1195.3 1993.6,1192.2 1994.3,1190.1 1995.1,1188.8 1995.9,1188.1 1996.6,1187.6 1997.4,1187.5 1998.1,1188.0 1998.9,1189.7 1999.6,1192.8 2000.4,1196.4 2001.1,1200.0 2001.9,1203.7 2002.6,1207.2 2003.4,1210.6 2004.2,1213.9 2004.9,1217.0 2005.7,1219.5 2006.4,1219.1 2007.2,1216.9 2007.9,1214.7 2008.7,1214.4 2009.4,1217.3 2010.2,1221.3 2011.0,1225.7 2011.7,1229.8 2012.5,1233.4 2013.2,1236.7 2014.0,1239.9 2014.7,1242.9 2015.5,1245.1 2016.2,1245.8 2017.0,1244.8 2017.8,1242.0 2018.5,1236.6 2019.3,1228.6 2020.0,1218.3 2020.8,1206.3 2021.5,1193.6 2022.3,1180.5 2023.0,1167.1 2023.8,1152.7 2024.6,1136.7 2025.3,1121.3 2026.1,1108.9 2026.8,1101.6 2027.6,1098.5 2028.3,1097.5 2029.1,1096.3 2029.8,1094.8 2030.6,1093.7 2031.4,1093.4 2032.1,1094.3 2032.9,1096.9 2033.6,1100.5 2034.4,1104.7 2035.1,1109.9 2035.9,1116.7 2036.6,1124.0 2037.4,1130.2 2038.2,1133.1 2038.9,1130.7 2039.7,1121.3 2040.4,1103.8 2041.2,1085.4 2041.9,1072.7 2042.7,1061.9 2043.4,1053.9 2044.2,1050.7 2045.0,1051.0 2045.7,1052.6 2046.5,1054.0 2047.2,1053.7 2048.0,1052.1 2048.7,1049.5 2049.5,1045.5 2050.2,1034.2 2051.0,1011.4 2051.8,973.5 2052.5,926.1 2053.3,871.8 2054.0,819.5 2054.8,778.8 2055.5,748.1 2056.3,728.1 2057.0,709.8 2057.8,691.5 2058.6,673.3 2059.3,655.0 2060.1,636.7 2060.8,617.2 2061.6,591.7 2062.3,564.1 2063.1,539.7 2063.8,518.7 2064.6,500.2 2065.4,484.4 2066.1,472.6 2066.9,465.1 2067.6,460.0 2068.4,458.2 2069.1,460.6 2069.9,466.6 2070.6,480.4 2071.4,505.7 2072.2,543.8 2072.9,591.0 2073.7,645.0 2074.4,697.6 2075.2,743.8 2075.9,787.5 2076.7,829.3 2077.4,868.3 2078.2,904.1 2079.0,932.6 2079.7,952.7 2080.5,964.6 2081.2,970.0 2082.0,975.3 2082.7,987.0 2083.5,1004.2 2084.2,1021.6 2085.0,1038.8 2085.8,1055.9 2086.5,1072.8 2087.3,1089.5 2088.0,1103.7 2088.8,1111.8 2089.5,1116.8 2090.3,1119.5 2091.0,1118.2 2091.8,1118.4 2092.6,1125.6 2093.3,1137.5 2094.1,1149.7 2094.8,1158.8 2095.6,1167.4 2096.3,1175.5 2097.1,1182.5 2097.8,1188.1 2098.6,1192.5 2099.3,1196.4 2100.1,1200.0 2100.9,1203.3 2101.6,1206.4 2102.4,1209.3 2103.1,1212.2 2103.9,1214.4 2104.6,1215.7 2105.4,1216.2 2106.1,1216.3 2106.9,1216.1 2107.7,1215.7 2108.4,1215.4 2109.2,1215.1 2109.9,1214.5 2110.7,1213.3 2111.4,1210.9 2112.2,1205.0 2112.9,1196.0 2113.7,1185.9 2114.5,1175.0 2115.2,1162.3 2116.0,1150.0 2116.7,1140.2 2117.5,1132.9 2118.2,1128.5 2119.0,1127.5 2119.7,1128.7 2120.5,1130.6 2121.3,1131.4 2122.0,1130.7 2122.8,1129.8 2123.5,1128.6 2124.3,1127.2 2125.0,1125.6 2125.8,1122.9 2126.5,1118.3 2127.3,1114.4 2128.1,1113.7 2128.8,1115.9 2129.6,1120.0 2130.3,1124.1 2131.1,1128.3 2131.8,1132.4 2132.6,1136.6 2133.3,1140.7 2134.1,1144.7 2134.9,1147.0 2135.6,1145.8 2136.4,1141.9 2137.1,1130.4 2137.9,1116.6 2138.6,1124.7 2139.4,1135.1 2140.1,1134.9 2140.9,1131.8 2141.7,1133.4 2142.4,1145.5 2143.2,1162.3 2143.9,1174.8 2144.7,1185.3 2145.4,1193.8 2146.2,1199.9 2146.9,1203.9 2147.7,1206.1 2147.9,1206.3" fill="none" stroke="#0000ff" stroke-width="5.2" stroke-linejoin="round" stroke-linecap="butt"/>
<polyline points="343.8,1430.3 344.8,1429.6 345.8,1430.3 346.8,1429.9 347.8,1429.8 348.8,1429.0 349.8,1430.3 350.8,1428.6 351.8,1429.0 352.8,1429.4 353.8,1430.0 354.8,1428.9 355.8,1430.1 356.8,1430.3 357.8,1428.9 358.8,1429.7 359.8,1428.6 360.8,1429.3 361.8,1428.7 362.8,1430.3 363.8,1429.4 364.8,1430.3 365.8,1430.0 366.8,1430.1 367.8,1428.9 368.8,1428.7 369.8,1429.7 370.8,1428.9 371.8,1429.9 372.8,1429.3 373.8,1429.5 374.8,1430.3 375.8,1429.5 376.8,1428.8 377.8,1428.9 378.8,1429.6 379.8,1429.5 380.8,1429.7 381.8,1429.3 382.8,1429.7 383.8,1429.3 384.8,1429.7 385.8,1430.0 386.8,1428.9 387.8,1429.3 388.8,1429.5 389.8,1429.8 390.8,1429.0 391.8,1429.6 392.8,1429.7 393.8,1430.2 394.8,1429.2 395.8,1429.7 396.8,1428.9 397.8,1429.5 398.8,1428.9 399.8,1430.2 400.8,1429.4 401.8,1430.1 402.8,1429.3 403.8,1430.2 404.8,1429.3 405.8,1429.2 406.8,1429.6 407.8,1430.1 408.8,1430.1 409.8,1429.7 410.8,1428.7 411.8,1429.7 412.8,1429.0 413.8,1429.9 414.8,1430.2 415.8,1429.5 416.8,1429.7 417.8,1428.7 418.8,1429.6 419.8,1428.8 420.8,1429.7 421.8,1429.2 422.8,1430.0 423.8,1428.7 424.8,1428.8 425.8,1429.8 426.8,1429.5 427.8,1429.6 428.8,1430.1 429.8,1429.5 430.8,1430.0 431.8,1429.5 432.8,1430.2 433.8,1429.8 434.8,1428.8 435.8,1429.2 436.8,1430.1 437.8,1429.2 438.8,1428.9 439.8,1429.4 440.8,1429.3 441.8,1429.7 442.8,1429.3 443.8,1429.0 444.8,1429.3 445.8,1429.3 446.8,1430.1 447.8,1430.2 448.8,1429.6 449.8,1428.6 450.8,1429.8 451.8,1429.7 452.8,1429.9 453.8,1429.0 454.8,1428.5 455.8,1429.5 456.8,1428.6 457.8,1429.7 458.8,1429.8 459.8,1429.1 460.8,1430.0 461.8,1428.6 462.8,1430.0 463.8,1429.1 464.8,1429.6 465.8,1429.6 466.8,1430.0 467.8,1430.0 468.8,1428.3 469.8,1428.2 470.8,1429.2 471.8,1428.3 472.8,1429.4 473.8,1429.2 474.8,1429.4 475.8,1429.0 476.8,1428.7 477.8,1429.9 478.8,1429.5 479.8,1428.3 480.8,1428.4 481.8,1429.4 482.8,1428.8 483.8,1429.0 484.8,1429.7 485.8,1428.9 486.8,1430.0 487.8,1429.6 488.8,1429.3 489.8,1428.7 490.8,1429.1 491.8,1429.8 492.8,1430.2 493.8,1428.5 494.8,1428.7 495.8,1429.8 496.8,1429.9 497.8,1428.6 498.8,1430.0 499.8,1429.9 500.8,1429.7 501.8,1429.1 502.8,1429.3 503.8,1429.2 504.8,1430.0 505.8,1429.1 506.8,1429.1 507.8,1430.2 508.8,1430.2 509.8,1430.2 510.8,1429.9 511.8,1428.6 512.8,1428.6 513.8,1429.5 514.8,1430.0 515.8,1430.0 516.8,1429.6 517.8,1430.1 518.8,1428.6 519.8,1428.7 520.8,1428.9 521.8,1428.7 522.8,1428.8 523.8,1428.4 524.8,1428.8 525.8,1428.1 526.8,1428.9 527.8,1429.4 528.8,1428.4 529.8,1428.5 530.8,1428.3 531.8,1428.7 532.8,1428.2 533.8,1428.2 534.8,1427.1 535.8,1427.9 536.8,1426.5 537.8,1426.7 538.8,1427.1 539.8,1426.2 540.8,1427.0 541.8,1426.8 542.8,1425.3 543.8,1425.3 544.8,1424.8 545.8,1426.0 546.8,1424.9 547.8,1424.8 548.8,1424.4 549.8,1424.0 550.8,1424.4 551.8,1423.8 552.8,1424.3 553.8,1423.4 554.8,1423.8 555.8,1424.4 556.8,1423.2 557.8,1424.1 558.8,1422.3 559.8,1423.0 560.8,1422.9 561.8,1423.4 562.8,1423.1 563.8,1422.2 564.8,1422.4 565.8,1422.7 566.8,1422.0 567.8,1422.3 568.8,1422.1 569.8,1421.0 570.8,1421.2 571.8,1420.2 572.8,1420.4 573.8,1421.1 574.8,1420.4 575.8,1419.7 576.8,1419.3 577.8,1419.4 578.8,1419.1 579.8,1419.2 580.8,1419.3 581.8,1418.6 582.8,1420.0 583.8,1419.1 584.8,1419.3 585.8,1419.3 586.8,1418.3 587.8,1418.1 588.8,1418.1 589.8,1419.5 590.8,1417.8 591.8,1418.3 592.8,1419.0 593.8,1418.4 594.8,1417.3 595.8,1418.8 596.8,1417.8 597.8,1417.3 598.8,1417.6 599.8,1417.9 600.8,1416.9 601.8,1417.9 602.8,1417.8 603.8,1417.0 604.8,1417.3 605.8,1416.9 606.8,1416.5 607.8,1417.5 608.8,1417.3 609.8,1418.0 610.8,1416.9 611.8,1417.3 612.8,1417.8 613.8,1416.8 614.8,1417.3 615.8,1418.0 616.8,1417.2 617.8,1417.5 618.8,1417.9 619.8,1417.6 620.8,1418.5 621.8,1418.4 622.8,1418.4 623.8,1417.6 624.8,1417.1 625.8,1417.9 626.8,1417.4 627.8,1417.5 628.8,1417.6 629.8,1418.1 630.8,1417.7 631.8,1416.4 632.8,1417.7 633.8,1417.2 634.8,1416.5 635.8,1417.1 636.8,1416.6 637.8,1416.6 638.8,1416.6 639.8,1415.8 640.8,1416.1 641.8,1416.3 642.8,1415.7 643.8,1416.9 644.8,1416.3 645.8,1416.7 646.8,1417.6 647.8,1417.6 648.8,1416.6 649.8,1416.9 650.8,1417.2 651.8,1416.3 652.8,1417.4 653.8,1416.4 654.8,1415.8 655.8,1416.6 656.8,1416.0 657.8,1414.9 658.8,1415.6 659.8,1415.6 660.8,1414.0 661.8,1414.9 662.8,1413.9 663.8,1413.9 664.8,1413.0 665.8,1413.5 666.8,1414.0 667.8,1412.6 668.8,1411.9 669.8,1413.1 670.8,1412.9 671.8,1411.8 672.8,1412.2 673.8,1411.8 674.8,1411.0 675.8,1410.7 676.8,1409.0 677.8,1409.7 678.8,1408.4 679.8,1407.5 680.8,1407.4 681.8,1407.3 682.8,1406.0 683.8,1404.7 684.8,1404.5 685.8,1403.9 686.8,1404.0 687.8,1403.9 688.8,1402.6 689.8,1401.4 690.8,1401.6 691.8,1400.3 692.8,1399.6 693.8,1399.6 694.8,1398.8 695.8,1398.2 696.8,1397.3 697.8,1397.1 698.8,1396.6 699.8,1396.5 700.8,1394.9 701.8,1394.9 702.8,1394.3 703.8,1393.9 704.8,1393.6 705.8,1392.7 706.8,1392.3 707.8,1391.8 708.8,1391.7 709.8,1391.4 710.8,1390.5 711.8,1390.6 712.8,1390.3 713.8,1389.8 714.8,1390.0 715.8,1389.7 716.8,1389.3 717.8,1389.3 718.8,1389.7 719.8,1389.3 720.8,1389.4 721.8,1389.2 722.8,1389.7 723.8,1389.9 724.8,1389.6 725.8,1389.8 726.8,1390.5 727.8,1390.5 728.8,1390.7 729.8,1391.3 730.8,1392.1 731.8,1392.4 732.8,1393.0 733.8,1393.6 734.8,1394.2 735.8,1395.3 736.8,1395.9 737.8,1396.8 738.8,1397.3 739.8,1398.1 740.8,1398.9 741.8,1399.8 742.8,1400.0 743.8,1400.8 744.8,1400.8 745.8,1401.7 746.8,1404.1 747.8,1404.0 748.8,1404.1 749.8,1404.9 750.8,1406.5 751.8,1407.5 752.8,1408.6 753.8,1408.9 754.8,1409.1 755.8,1410.4 756.8,1410.0 757.8,1410.7 758.8,1410.6 759.8,1411.9 760.8,1411.8 761.8,1411.7 762.8,1411.5 763.8,1412.7 764.8,1412.0 765.8,1413.1 766.8,1412.1 767.8,1412.9 768.8,1413.2 769.8,1412.4 770.8,1412.5 771.8,1413.7 772.8,1412.7 773.8,1413.6 774.8,1413.1 775.8,1414.9 776.8,1415.0 777.8,1414.3 778.8,1415.8 779.8,1416.0 780.8,1415.2 781.8,1415.9 782.8,1416.9 783.8,1417.3 784.8,1416.9 785.8,1416.8 786.8,1417.7 787.8,1418.4 788.8,1418.1 789.8,1417.7 790.8,1418.0 791.8,1418.9 792.8,1418.4 793.8,1419.0 794.8,1417.9 795.8,1418.8 796.8,1419.0 797.8,1419.2 798.8,1418.1 799.8,1419.2 800.8,1418.6 801.8,1418.1 802.8,1417.6 803.8,1418.7 804.8,1419.2 805.8,1418.5 806.8,1418.0 807.8,1418.0 808.8,1418.2 809.8,1419.1 810.8,1418.0 811.8,1417.9 812.8,1418.1 813.8,1417.5 814.8,1417.6 815.8,1418.5 816.8,1418.6 817.8,1417.6 818.8,1417.7 819.8,1418.5 820.8,1418.1 821.8,1417.5 822.8,1418.4 823.8,1418.2 824.8,1417.4 825.8,1416.9 826.8,1418.0 827.8,1418.0 828.8,1417.6 829.8,1417.8 830.8,1416.3 831.8,1417.3 832.8,1417.6 833.8,1416.6 834.8,1416.4 835.8,1417.7 836.8,1417.4 837.8,1416.6 838.8,1417.0 839.8,1416.3 840.8,1416.5 841.8,1417.1 842.8,1417.2 843.8,1417.4 844.8,1416.9 845.8,1417.1 846.8,1416.0 847.8,1416.9 848.8,1417.4 849.8,1417.2 850.8,1417.0 851.8,1417.1 852.8,1416.3 853.8,1416.1 854.8,1416.7 855.8,1416.6 856.8,1415.7 857.8,1416.2 858.8,1416.8 859.8,1415.9 860.8,1416.0 861.8,1416.5 862.8,1416.0 863.8,1416.4 864.8,1416.7 865.8,1416.2 866.8,1415.1 867.8,1416.6 868.8,1415.1 869.8,1414.4 870.8,1415.0 871.8,1415.4 872.8,1415.1 873.8,1413.0 874.8,1412.1 875.8,1412.6 876.8,1411.6 877.8,1410.7 878.8,1409.2 879.8,1407.2 880.8,1404.5 881.8,1400.3 882.8,1396.9 883.8,1392.6 884.8,1387.2 885.8,1381.9 886.8,1374.9 887.8,1366.8 888.8,1358.0 889.8,1348.5 890.8,1338.5 891.8,1326.3 892.8,1312.5 893.8,1297.9 894.8,1281.6 895.8,1264.1 896.8,1246.4 897.8,1227.6 898.8,1209.3 899.8,1191.8 900.8,1175.8 901.8,1167.5 902.8,1168.2 903.8,1173.1 904.8,1189.6 905.8,1212.5 906.8,1238.8 907.8,1269.4 908.8,1297.0 909.8,1315.5 910.8,1326.3 911.8,1333.2 912.8,1335.6 913.8,1332.3 914.8,1326.2 915.8,1321.5 916.8,1317.8 917.8,1315.6 918.8,1313.8 919.8,1315.0 920.8,1317.2 921.8,1318.5 922.8,1319.9 923.8,1321.6 924.8,1323.2 925.8,1324.8 926.8,1324.7 927.8,1322.7 928.8,1319.2 929.8,1316.0 930.8,1312.2 931.8,1310.0 932.8,1308.4 933.8,1306.3 934.8,1305.6 935.8,1305.8 936.8,1307.2 937.8,1307.9 938.8,1310.1 939.8,1310.5 940.8,1312.2 941.8,1314.1 942.8,1316.7 943.8,1317.3 944.8,1318.1 945.8,1316.6 946.8,1313.6 947.8,1310.6 948.8,1309.1 949.8,1306.8 950.8,1305.3 951.8,1304.5 952.8,1303.5 953.8,1302.9 954.8,1303.9 955.8,1306.5 956.8,1310.3 957.8,1314.6 958.8,1319.3 959.8,1325.3 960.8,1332.0 961.8,1338.9 962.8,1346.7 963.8,1352.9 964.8,1357.8 965.8,1362.2 966.8,1366.8 967.8,1370.3 968.8,1374.6 969.8,1379.1 970.8,1383.5 971.8,1387.5 972.8,1392.3 973.8,1395.0 974.8,1398.0 975.8,1399.8 976.8,1400.3 977.8,1400.7 978.8,1402.6 979.8,1401.7 980.8,1402.5 981.8,1403.2 982.8,1403.3 983.8,1404.7 984.8,1403.9 985.8,1404.5 986.8,1405.0 987.8,1405.3 988.8,1404.4 989.8,1405.3 990.8,1405.8 991.8,1405.1 992.8,1406.3 993.8,1406.6 994.8,1406.6 995.8,1408.0 996.8,1407.6 997.8,1409.2 998.8,1409.4 999.8,1410.5 1000.8,1410.3 1001.8,1411.4 1002.8,1411.0 1003.8,1411.7 1004.8,1412.4 1005.8,1413.0 1006.8,1412.8 1007.8,1412.8 1008.8,1414.4 1009.8,1415.0 1010.8,1415.6 1011.8,1415.6 1012.8,1416.4 1013.8,1415.7 1014.8,1416.4 1015.8,1416.9 1016.8,1417.2 1017.8,1417.6 1018.8,1418.6 1019.8,1419.4 1020.8,1419.2 1021.8,1419.9 1022.8,1420.0 1023.8,1420.6 1024.8,1420.7 1025.8,1420.2 1026.8,1421.8 1027.8,1420.9 1028.8,1421.3 1029.8,1422.1 1030.8,1422.6 1031.8,1423.4 1032.8,1422.2 1033.8,1422.3 1034.8,1423.6 1035.8,1423.7 1036.8,1424.2 1037.8,1423.4 1038.8,1424.7 1039.8,1423.5 1040.8,1423.8 1041.8,1424.0 1042.8,1424.0 1043.8,1424.0 1044.8,1425.2 1045.8,1425.9 1046.8,1425.0 1047.8,1424.7 1048.8,1425.0 1049.8,1425.0 1050.8,1425.9 1051.8,1425.8 1052.8,1425.9 1053.8,1426.6 1054.8,1425.4 1055.8,1426.0 1056.8,1425.7 1057.8,1426.4 1058.8,1425.7 1059.8,1426.6 1060.8,1425.7 1061.8,1426.5 1062.8,1425.7 1063.8,1426.7 1064.8,1426.3 1065.8,1425.8 1066.8,1426.8 1067.8,1425.7 1068.8,1426.8 1069.8,1427.0 1070.8,1426.6 1071.8,1426.6 1072.8,1427.1 1073.8,1426.8 1074.8,1426.0 1075.8,1426.0 1076.8,1427.6 1077.8,1426.9 1078.8,1427.2 1079.8,1426.7 1080.8,1426.7 1081.8,1427.4 1082.8,1426.8 1083.8,1426.4 1084.8,1426.9 1085.8,1426.5 1086.8,1428.1 1087.8,1427.9 1088.8,1427.6 1089.8,1426.6 1090.8,1427.3 1091.8,1428.2 1092.8,1427.7 1093.8,1427.3 1094.8,1427.3 1095.8,1427.0 1096.8,1426.7 1097.8,1427.7 1098.8,1428.0 1099.8,1427.2 1100.8,1427.9 1101.8,1427.6 1102.8,1427.1 1103.8,1427.9 1104.8,1428.4 1105.8,1428.0 1106.8,1427.7 1107.8,1427.0 1108.8,1427.5 1109.8,1428.1 1110.8,1428.3 1111.8,1427.7 1112.8,1427.4 1113.8,1428.5 1114.8,1427.3 1115.8,1427.9 1116.8,1428.3 1117.8,1428.1 1118.8,1427.3 1119.8,1427.6 1120.8,1427.6 1121.8,1428.2 1122.8,1427.7 1123.8,1428.7 1124.8,1427.5 1125.8,1428.1 1126.8,1429.0 1127.8,1429.1 1128.8,1428.0 1129.8,1427.8 1130.8,1427.5 1131.8,1428.7 1132.8,1427.6 1133.8,1429.3 1134.8,1428.1 1135.8,1429.3 1136.8,1428.9 1137.8,1428.3 1138.8,1428.2 1139.8,1428.8 1140.8,1429.3 1141.8,1428.1 1142.8,1428.8 1143.8,1428.5 1144.8,1427.8 1145.8,1427.8 1146.8,1427.8 1147.8,1427.9 1148.8,1428.4 1149.8,1429.3 1150.8,1429.5 1151.8,1428.6 1152.8,1429.3 1153.8,1429.5 1154.8,1428.4 1155.8,1429.1 1156.8,1429.7 1157.8,1429.0 1158.8,1429.3 1159.8,1428.2 1160.8,1428.8 1161.8,1428.7 1162.8,1429.5 1163.8,1428.3 1164.8,1429.5 1165.8,1429.1 1166.8,1429.3 1167.8,1429.9 1168.8,1429.6 1169.8,1429.2 1170.8,1428.7 1171.8,1429.0 1172.8,1428.7 1173.8,1428.8 1174.8,1429.5 1175.8,1429.0 1176.8,1430.1 1177.8,1428.8 1178.8,1429.6 1179.8,1428.9 1180.8,1430.0 1181.8,1429.3 1182.8,1430.0 1183.8,1430.0 1184.8,1430.2 1185.8,1429.8 1186.8,1429.6 1187.8,1429.3 1188.8,1430.0 1189.8,1429.4 1190.8,1430.2 1191.8,1429.8 1192.8,1429.5 1193.8,1429.0 1194.8,1429.1 1195.8,1428.8 1196.8,1429.9 1197.8,1429.7 1198.8,1429.9 1199.8,1429.4 1200.8,1430.3 1201.8,1428.8 1202.8,1429.1 1203.8,1429.4 1204.8,1428.7 1205.8,1429.9 1206.8,1429.0 1207.8,1428.9 1208.8,1429.5 1209.8,1429.7 1210.8,1428.1 1211.8,1428.9 1212.8,1428.6 1213.8,1429.4 1214.8,1428.2 1215.8,1427.6 1216.8,1429.1 1217.8,1428.1 1218.8,1428.1 1219.8,1428.2 1220.8,1427.9 1221.8,1428.9 1222.8,1429.4 1223.8,1429.6 1224.8,1429.9 1225.8,1429.9 1226.8,1430.6 1227.8,1429.7 1228.8,1430.3 1229.8,1429.6 1230.8,1430.5 1231.8,1431.1 1232.8,1430.9 1233.8,1430.4 1234.8,1430.0 1235.8,1430.3 1236.8,1429.2 1237.8,1429.2 1238.8,1429.2 1239.8,1429.3 1240.8,1430.1 1241.8,1429.8 1242.8,1429.2 1243.8,1429.2 1244.8,1428.5 1245.8,1428.8 1246.8,1429.2 1247.8,1429.5 1248.8,1429.0 1249.8,1429.1 1250.8,1429.1 1251.8,1428.8 1252.8,1429.1 1253.8,1428.7 1254.8,1429.0 1255.8,1428.9 1256.8,1428.9 1257.8,1428.6 1258.8,1427.1 1259.8,1428.1 1260.8,1427.2 1261.8,1428.5 1262.8,1427.7 1263.8,1426.8 1264.8,1427.4 1265.8,1428.1 1266.8,1428.0 1267.8,1428.2 1268.8,1427.6 1269.8,1427.7 1270.8,1426.5 1271.8,1426.8 1272.8,1426.4 1273.8,1427.2 1274.8,1426.9 1275.8,1426.4 1276.8,1427.3 1277.8,1427.5 1278.8,1426.4 1279.8,1427.6 1280.8,1426.6 1281.8,1427.6 1282.8,1427.2 1283.8,1427.1 1284.8,1426.9 1285.8,1427.7 1286.8,1427.2 1287.8,1427.6 1288.8,1427.9 1289.8,1426.5 1290.8,1426.6 1291.8,1427.2 1292.8,1426.3 1293.8,1426.2 1294.8,1427.5 1295.8,1427.2 1296.8,1427.0 1297.8,1425.7 1298.8,1426.1 1299.8,1425.8 1300.8,1424.8 1301.8,1424.7 1302.8,1424.7 1303.8,1425.1 1304.8,1424.5 1305.8,1424.2 1306.8,1424.9 1307.8,1425.7 1308.8,1424.5 1309.8,1425.4 1310.8,1424.9 1311.8,1426.0 1312.8,1425.5 1313.8,1425.7 1314.8,1425.4 1315.8,1425.1 1316.8,1424.0 1317.8,1424.6 1318.8,1423.9 1319.8,1425.4 1320.8,1424.7 1321.8,1423.9 1322.8,1424.0 1323.8,1424.1 1324.8,1424.6 1325.8,1423.8 1326.8,1425.0 1327.8,1423.7 1328.8,1424.7 1329.8,1424.1 1330.8,1423.2 1331.8,1423.6 1332.8,1423.5 1333.8,1424.6 1334.8,1423.5 1335.8,1423.9 1336.8,1423.4 1337.8,1424.6 1338.8,1424.3 1339.8,1424.8 1340.8,1425.8 1341.8,1424.9 1342.8,1425.4 1343.8,1426.1 1344.8,1426.2 1345.8,1426.4 1346.8,1427.1 1347.8,1425.9 1348.8,1426.0 1349.8,1427.1 1350.8,1426.5 1351.8,1425.7 1352.8,1427.3 1353.8,1427.2 1354.8,1426.3 1355.8,1426.2 1356.8,1427.2 1357.8,1425.9 1358.8,1425.4 1359.8,1425.7 1360.8,1424.8 1361.8,1424.6 1362.8,1425.4 1363.8,1424.3 1364.8,1425.8 1365.8,1424.4 1366.8,1424.6 1367.8,1425.5 1368.8,1424.9 1369.8,1423.7 1370.8,1425.3 1371.8,1424.2 1372.8,1423.8 1373.8,1424.0 1374.8,1424.5 1375.8,1424.8 1376.8,1424.4 1377.8,1424.2 1378.8,1424.7 1379.8,1424.9 1380.8,1424.1 1381.8,1423.4 1382.8,1423.4 1383.8,1424.8 1384.8,1424.8 1385.8,1424.4 1386.8,1424.1 1387.8,1424.5 1388.8,1424.3 1389.8,1424.2 1390.8,1423.8 1391.8,1424.1 1392.8,1423.4 1393.8,1424.2 1394.8,1424.1 1395.8,1423.6 1396.8,1422.7 1397.8,1423.2 1398.8,1423.3 1399.8,1422.7 1400.8,1423.4 1401.8,1422.3 1402.8,1422.7 1403.8,1422.4 1404.8,1423.1 1405.8,1422.2 1406.8,1422.3 1407.8,1423.6 1408.8,1422.3 1409.8,1422.7 1410.8,1422.1 1411.8,1421.7 1412.8,1422.8 1413.8,1422.1 1414.8,1422.2 1415.8,1421.3 1416.8,1421.5 1417.8,1422.1 1418.8,1422.2 1419.8,1422.0 1420.8,1422.5 1421.8,1421.3 1422.8,1422.1 1423.8,1421.8 1424.8,1421.6 1425.8,1421.7 1426.8,1421.7 1427.8,1421.2 1428.8,1419.9 1429.8,1419.9 1430.8,1420.2 1431.8,1419.9 1432.8,1420.2 1433.8,1419.1 1434.8,1419.3 1435.8,1418.7 1436.8,1417.5 1437.8,1417.9 1438.8,1418.1 1439.8,1417.5 1440.8,1418.1 1441.8,1418.4 1442.8,1418.9 1443.8,1418.8 1444.8,1419.2 1445.8,1419.4 1446.8,1418.1 1447.8,1419.8 1448.8,1419.1 1449.8,1419.6 1450.8,1419.2 1451.8,1419.4 1452.8,1419.9 1453.8,1420.9 1454.8,1420.2 1455.8,1421.3 1456.8,1421.5 1457.8,1421.3 1458.8,1420.9 1459.8,1421.0 1460.8,1421.9 1461.8,1421.3 1462.8,1420.9 1463.8,1422.5 1464.8,1421.6 1465.8,1422.4 1466.8,1422.7 1467.8,1422.7 1468.8,1423.4 1469.8,1422.7 1470.8,1423.5 1471.8,1422.1 1472.8,1422.9 1473.8,1423.2 1474.8,1423.4 1475.8,1422.8 1476.8,1424.0 1477.8,1424.2 1478.8,1424.4 1479.8,1423.4 1480.8,1424.6 1481.8,1423.6 1482.8,1423.4 1483.8,1424.3 1484.8,1423.1 1485.8,1423.4 1486.8,1423.3 1487.8,1423.6 1488.8,1424.6 1489.8,1423.3 1490.8,1424.7 1491.8,1424.3 1492.8,1424.4 1493.8,1423.7 1494.8,1424.5 1495.8,1423.9 1496.8,1424.3 1497.8,1423.2 1498.8,1424.3 1499.8,1424.3 1500.8,1423.1 1501.8,1422.6 1502.8,1424.0 1503.8,1422.5 1504.8,1423.4 1505.8,1423.6 1506.8,1421.8 1507.8,1422.9 1508.8,1421.6 1509.8,1422.3 1510.8,1422.7 1511.8,1421.1 1512.8,1421.2 1513.8,1422.1 1514.8,1421.7 1515.8,1421.7 1516.8,1421.0 1517.8,1420.4 1518.8,1420.3 1519.8,1420.7 1520.8,1421.0 1521.8,1419.5 1522.8,1419.1 1523.8,1418.9 1524.8,1418.1 1525.8,1418.0 1526.8,1418.8 1527.8,1417.2 1528.8,1417.0 1529.8,1417.9 1530.8,1416.4 1531.8,1417.4 1532.8,1415.9 1533.8,1415.3 1534.8,1415.4 1535.8,1414.4 1536.8,1414.8 1537.8,1414.7 1538.8,1415.1 1539.8,1414.3 1540.8,1413.4 1541.8,1413.0 1542.8,1412.8 1543.8,1412.1 1544.7,1411.7 1547.9,1409.2 1548.6,1408.1 1549.4,1406.4 1550.1,1404.4 1550.9,1402.1 1551.6,1399.7 1552.4,1397.0 1553.1,1393.3 1553.9,1388.3 1554.7,1382.1 1555.4,1374.6 1556.2,1365.7 1556.9,1354.9 1557.7,1342.2 1558.4,1327.6 1559.2,1311.8 1559.9,1295.8 1560.7,1279.7 1561.5,1263.6 1562.2,1246.8 1563.0,1229.9 1563.7,1213.7 1564.5,1202.4 1565.2,1197.5 1566.0,1195.7 1566.7,1194.6 1567.5,1194.8 1568.3,1197.1 1569.0,1200.5 1569.8,1204.1 1570.5,1207.1 1571.3,1209.3 1572.0,1211.2 1572.8,1212.6 1573.5,1213.7 1574.3,1213.9 1575.1,1213.1 1575.8,1211.9 1576.6,1210.9 1577.3,1210.8 1578.1,1211.7 1578.8,1213.4 1579.6,1216.3 1580.3,1220.3 1581.1,1225.8 1581.9,1232.8 1582.6,1240.9 1583.4,1249.4 1584.1,1257.6 1584.9,1264.7 1585.6,1271.1 1586.4,1277.3 1587.1,1283.4 1587.9,1289.2 1588.7,1294.7 1589.4,1300.0 1590.2,1305.1 1590.9,1310.0 1591.7,1314.7 1592.4,1319.3 1593.2,1323.6 1593.9,1327.8 1594.7,1331.8 1595.5,1335.6 1596.2,1339.1 1597.0,1342.1 1597.7,1344.6 1598.5,1346.7 1599.2,1348.5 1600.0,1350.3 1600.7,1351.9 1601.5,1353.4 1602.2,1354.9 1603.0,1356.3 1603.8,1357.7 1604.5,1359.1 1605.3,1360.4 1606.0,1361.6 1606.8,1362.8 1607.5,1364.0 1608.3,1365.1 1609.0,1366.2 1609.8,1367.2 1610.6,1367.9 1611.3,1368.2 1612.1,1368.3 1612.8,1368.2 1613.6,1367.9 1614.3,1367.4 1615.1,1366.8 1615.8,1366.0 1616.6,1364.7 1617.4,1362.6 1618.1,1359.4 1618.9,1354.8 1619.6,1349.2 1620.4,1343.6 1621.1,1338.0 1621.9,1332.4 1622.6,1326.9 1623.4,1321.3 1624.2,1315.8 1624.9,1312.5 1625.7,1312.2 1626.4,1312.8 1627.2,1315.4 1627.9,1319.7 1628.7,1321.8 1629.4,1320.0 1630.2,1315.5 1631.0,1308.8 1631.7,1300.0 1632.5,1289.1 1633.2,1278.4 1634.0,1270.1 1634.7,1264.3 1635.5,1261.9 1636.2,1263.7 1637.0,1269.5 1637.8,1279.1 1638.5,1290.5 1639.3,1301.8 1640.0,1311.7 1640.8,1321.1 1641.5,1329.9 1642.3,1338.0 1643.0,1345.0 1643.8,1350.7 1644.6,1355.0 1645.3,1357.9 1646.1,1359.6 1646.8,1360.5 1647.6,1360.9 1648.3,1360.9 1649.1,1360.6 1649.8,1359.9 1650.6,1358.7 1651.4,1356.9 1652.1,1354.1 1652.9,1349.9 1653.6,1344.2 1654.4,1337.1 1655.1,1328.8 1655.9,1319.6 1656.6,1309.8 1657.4,1299.6 1658.2,1288.8 1658.9,1277.2 1659.7,1264.8 1660.4,1252.0 1661.2,1239.0 1661.9,1225.7 1662.7,1212.3 1663.4,1198.7 1664.2,1184.4 1665.0,1169.7 1665.7,1155.2 1666.5,1141.6 1667.2,1130.1 1668.0,1120.2 1668.7,1111.3 1669.5,1103.7 1670.2,1099.1 1671.0,1097.3 1671.8,1098.0 1672.5,1102.2 1673.3,1112.2 1674.0,1126.0 1674.8,1140.0 1675.5,1154.2 1676.3,1168.6 1677.0,1183.0 1677.8,1197.4 1678.6,1211.7 1679.3,1225.0 1680.1,1236.8 1680.8,1246.3 1681.6,1253.3 1682.3,1258.3 1683.1,1262.0 1683.8,1264.6 1684.6,1266.6 1685.4,1268.5 1686.1,1270.4 1686.9,1272.2 1687.6,1274.1 1688.4,1276.1 1689.1,1278.2 1689.9,1280.7 1690.6,1283.2 1691.4,1285.7 1692.2,1288.1 1692.9,1290.0 1693.7,1291.2 1694.4,1291.5 1695.2,1291.1 1695.9,1290.0 1696.7,1288.2 1697.4,1286.1 1698.2,1283.7 1699.0,1281.2 1699.7,1278.5 1700.5,1275.7 1701.2,1272.5 1702.0,1269.1 1702.7,1265.9 1703.5,1264.0 1704.2,1264.3 1705.0,1265.5 1705.7,1266.5 1706.5,1265.8 1707.3,1262.9 1708.0,1259.1 1708.8,1254.4 1709.5,1249.0 1710.3,1242.9 1711.0,1236.1 1711.8,1228.7 1712.5,1221.3 1713.3,1214.3 1714.1,1208.0 1714.8,1202.2 1715.6,1197.0 1716.3,1192.2 1717.1,1189.7 1717.8,1189.9 1718.6,1192.5 1719.3,1198.4 1720.1,1208.1 1720.9,1220.2 1721.6,1232.4 1722.4,1243.6 1723.1,1254.4 1723.9,1264.7 1724.6,1274.3 1725.4,1281.6 1726.1,1285.9 1726.9,1288.3 1727.7,1289.5 1728.4,1289.8 1729.2,1288.2 1729.9,1283.9 1730.7,1276.0 1731.4,1266.4 1732.2,1255.8 1732.9,1244.6 1733.7,1232.3 1734.5,1220.0 1735.2,1208.8 1736.0,1200.8 1736.7,1196.8 1737.5,1196.7 1738.2,1200.5 1739.0,1207.4 1739.7,1217.0 1740.5,1227.1 1741.3,1235.4 1742.0,1241.7 1742.8,1247.6 1743.5,1253.1 1744.3,1258.1 1745.0,1262.8 1745.8,1267.0 1746.5,1270.6 1747.3,1273.9 1748.1,1276.7 1748.8,1278.6 1749.6,1278.5 1750.3,1276.6 1751.1,1273.4 1751.8,1268.8 1752.6,1260.9 1753.3,1250.4 1754.1,1238.0 1754.9,1219.7 1755.6,1199.6 1756.4,1184.5 1757.1,1176.7 1757.9,1175.1 1758.6,1178.4 1759.4,1188.1 1760.1,1207.1 1760.9,1230.7 1761.7,1252.5 1762.4,1272.6 1763.2,1291.2 1763.9,1307.4 1764.7,1319.1 1765.4,1325.1 1766.2,1325.4 1766.9,1322.7 1767.7,1319.6 1768.5,1316.2 1769.2,1312.4 1770.0,1307.7 1770.7,1302.5 1771.5,1297.7 1772.2,1294.0 1773.0,1292.2 1773.7,1291.6 1774.5,1291.5 1775.3,1291.9 1776.0,1292.3 1776.8,1292.6 1777.5,1292.5 1778.3,1292.1 1779.0,1291.7 1779.8,1291.3 1780.5,1290.9 1781.3,1290.6 1782.1,1290.1 1782.8,1289.7 1783.6,1289.3 1784.3,1288.8 1785.1,1288.4 1785.8,1287.9 1786.6,1287.4 1787.3,1286.9 1788.1,1286.3 1788.9,1285.6 1789.6,1284.8 1790.4,1284.0 1791.1,1283.0 1791.9,1281.7 1792.6,1280.3 1793.4,1278.8 1794.1,1277.2 1794.9,1275.6 1795.7,1274.2 1796.4,1272.9 1797.2,1271.6 1797.9,1270.4 1798.7,1269.3 1799.4,1268.4 1800.2,1270.2 1800.9,1273.7 1801.7,1276.8 1802.4,1277.9 1803.2,1278.1 1804.0,1276.9 1804.7,1273.1 1805.5,1266.8 1806.2,1260.4 1807.0,1254.0 1807.7,1247.6 1808.5,1241.2 1809.2,1234.8 1810.0,1228.4 1810.8,1221.4 1811.5,1211.2 1812.3,1196.6 1813.0,1176.7 1813.8,1131.2 1814.5,1056.1 1815.3,970.0 1816.0,881.1 1816.8,789.0 1817.6,711.6 1818.3,678.6 1819.1,662.4 1819.8,661.0 1820.6,678.1 1821.3,736.7 1822.1,799.4 1822.8,863.0 1823.6,926.1 1824.4,976.0 1825.1,1011.0 1825.9,1040.3 1826.6,1060.6 1827.4,1069.0 1828.1,1071.2 1828.9,1067.1 1829.6,1059.6 1830.4,1051.2 1831.2,1040.8 1831.9,1028.4 1832.7,1015.5 1833.4,1002.4 1834.2,989.9 1834.9,978.1 1835.7,967.1 1836.4,956.9 1837.2,949.7 1838.0,946.3 1838.7,944.5 1839.5,945.5 1840.2,953.4 1841.0,970.4 1841.7,992.7 1842.5,1017.7 1843.2,1045.0 1844.0,1070.8 1844.8,1092.9 1845.5,1111.4 1846.3,1125.2 1847.0,1134.5 1847.8,1142.4 1848.5,1149.1 1849.3,1154.7 1850.0,1159.6 1850.8,1164.5 1851.6,1169.3 1852.3,1174.0 1853.1,1178.7 1853.8,1183.2 1854.6,1187.3 1855.3,1191.1 1856.1,1194.2 1856.8,1191.8 1857.6,1186.0 1858.4,1181.7 1859.1,1182.9 1859.9,1186.2 1860.6,1189.9 1861.4,1193.1 1862.1,1195.3 1862.9,1197.4 1863.6,1198.9 1864.4,1199.7 1865.2,1199.3 1865.9,1197.5 1866.7,1194.4 1867.4,1190.1 1868.2,1184.7 1868.9,1178.4 1869.7,1171.7 1870.4,1164.4 1871.2,1156.8 1872.0,1148.7 1872.7,1139.9 1873.5,1130.4 1874.2,1120.8 1875.0,1111.7 1875.7,1103.8 1876.5,1097.1 1877.2,1091.1 1878.0,1085.5 1878.8,1079.9 1879.5,1073.8 1880.3,1067.3 1881.0,1060.5 1881.8,1053.4 1882.5,1045.9 1883.3,1037.8 1884.0,1028.4 1884.8,1017.3 1885.6,1004.9 1886.3,991.6 1887.1,977.9 1887.8,963.6 1888.6,948.6 1889.3,932.9 1890.1,916.7 1890.8,900.0 1891.6,882.7 1892.4,864.2 1893.1,843.2 1893.9,818.5 1894.6,791.6 1895.4,763.6 1896.1,734.8 1896.9,705.4 1897.6,675.8 1898.4,646.2 1899.1,616.6 1899.9,587.3 1900.7,558.1 1901.4,529.3 1902.2,501.0 1902.9,475.0 1903.7,452.7 1904.4,433.1 1905.2,415.2 1905.9,398.7 1906.7,383.9 1907.5,370.9 1908.2,359.6 1909.0,349.3 1909.7,340.3 1910.5,333.1 1911.2,327.7 1912.0,323.1 1912.7,319.2 1913.5,316.1 1914.3,313.6 1915.0,311.4 1915.8,310.0 1916.5,309.9 1917.3,310.7 1918.0,312.3 1918.8,314.7 1919.5,317.8 1920.3,321.2 1921.1,324.9 1921.8,328.8 1922.6,332.7 1923.3,336.6 1924.1,340.2 1924.8,343.9 1925.6,348.7 1926.3,355.1 1927.1,363.9 1927.9,374.2 1928.6,385.5 1929.4,397.0 1930.1,408.4 1930.9,419.0 1931.6,429.5 1932.4,439.9 1933.1,450.2 1933.9,460.3 1934.7,469.9 1935.4,477.3 1936.2,483.0 1936.9,487.7 1937.7,491.5 1938.4,493.5 1939.2,494.2 1939.9,493.6 1940.7,491.8 1941.5,488.3 1942.2,482.9 1943.0,476.0 1943.7,467.8 1944.5,458.6 1945.2,448.4 1946.0,437.0 1946.7,425.1 1947.5,413.7 1948.3,403.6 1949.0,395.5 1949.8,389.1 1950.5,385.3 1951.3,390.3 1952.0,401.9 1952.8,418.0 1953.5,443.7 1954.3,483.4 1955.1,525.6 1955.8,567.8 1956.6,609.9 1957.3,652.1 1958.1,694.3 1958.8,736.6 1959.6,779.3 1960.3,822.0 1961.1,864.4 1961.9,905.2 1962.6,943.9 1963.4,980.4 1964.1,1012.6 1964.9,1039.1 1965.6,1061.1 1966.4,1080.1 1967.1,1097.6 1967.9,1113.5 1968.7,1127.5 1969.4,1139.7 1970.2,1151.4 1970.9,1162.0 1971.7,1170.8 1972.4,1177.0 1973.2,1181.9 1973.9,1186.5 1974.7,1191.0 1975.5,1195.8 1976.2,1201.0 1977.0,1206.4 1977.7,1211.8 1978.5,1217.2 1979.2,1222.6 1980.0,1228.0 1980.7,1233.6 1981.5,1239.3 1982.3,1244.9 1983.0,1249.8 1983.8,1251.5 1984.5,1251.1 1985.3,1250.0 1986.0,1247.7 1986.8,1243.4 1987.5,1236.6 1988.3,1226.6 1989.1,1215.4 1989.8,1205.7 1990.6,1197.8 1991.3,1190.6 1992.1,1184.3 1992.8,1179.3 1993.6,1175.3 1994.3,1172.3 1995.1,1170.4 1995.9,1169.7 1996.6,1169.8 1997.4,1170.5 1998.1,1171.9 1998.9,1174.2 1999.6,1177.4 2000.4,1180.9 2001.1,1184.5 2001.9,1188.1 2002.6,1191.5 2003.4,1194.8 2004.2,1198.1 2004.9,1201.2 2005.7,1203.7 2006.4,1203.6 2007.2,1202.0 2007.9,1200.7 2008.7,1201.2 2009.4,1204.7 2010.2,1208.7 2011.0,1212.7 2011.7,1216.7 2012.5,1220.6 2013.2,1224.6 2014.0,1228.6 2014.7,1232.6 2015.5,1235.6 2016.2,1236.4 2017.0,1235.0 2017.8,1231.6 2018.5,1225.9 2019.3,1218.1 2020.0,1208.2 2020.8,1196.3 2021.5,1183.9 2022.3,1171.3 2023.0,1158.6 2023.8,1145.6 2024.6,1131.8 2025.3,1118.2 2026.1,1105.5 2026.8,1096.1 2027.6,1090.6 2028.3,1087.5 2029.1,1084.9 2029.8,1082.6 2030.6,1081.9 2031.4,1082.5 2032.1,1084.4 2032.9,1087.5 2033.6,1091.7 2034.4,1096.5 2035.1,1102.6 2035.9,1111.0 2036.6,1119.8 2037.4,1127.2 2038.2,1130.8 2038.9,1128.5 2039.7,1118.9 2040.4,1103.0 2041.2,1086.4 2041.9,1074.0 2042.7,1063.0 2043.4,1054.0 2044.2,1049.0 2045.0,1047.5 2045.7,1047.6 2046.5,1047.5 2047.2,1045.6 2048.0,1042.2 2048.7,1037.5 2049.5,1030.8 2050.2,1015.1 2051.0,989.5 2051.8,952.1 2052.5,904.9 2053.3,848.8 2054.0,793.4 2054.8,746.3 2055.5,707.6 2056.3,682.2 2057.0,660.1 2057.8,638.1 2058.6,615.3 2059.3,592.2 2060.1,568.8 2060.8,543.9 2061.6,513.5 2062.3,481.7 2063.1,453.5 2063.8,429.9 2064.6,410.0 2065.4,393.0 2066.1,380.2 2066.9,372.7 2067.6,369.0 2068.4,370.4 2069.1,378.5 2069.9,392.4 2070.6,415.6 2071.4,451.3 2072.2,499.5 2072.9,556.8 2073.7,622.3 2074.4,686.2 2075.2,741.8 2075.9,794.0 2076.7,843.7 2077.4,889.7 2078.2,931.1 2079.0,963.3 2079.7,984.4 2080.5,995.0 2081.2,999.4 2082.0,1003.4 2082.7,1013.0 2083.5,1027.6 2084.2,1042.8 2085.0,1058.8 2085.8,1076.5 2086.5,1095.2 2087.3,1112.2 2088.0,1124.4 2088.8,1131.9 2089.5,1136.4 2090.3,1139.7 2091.0,1141.5 2091.8,1141.8 2092.6,1142.9 2093.3,1147.2 2094.1,1154.9 2094.8,1164.0 2095.6,1172.4 2096.3,1178.6 2097.1,1184.2 2097.8,1189.4 2098.6,1194.1 2099.3,1198.0 2100.1,1201.1 2100.9,1203.7 2101.6,1206.0 2102.4,1207.9 2103.1,1209.5 2103.9,1210.9 2104.6,1211.9 2105.4,1212.5 2106.1,1212.7 2106.9,1212.6 2107.7,1212.2 2108.4,1211.5 2109.2,1210.4 2109.9,1208.6 2110.7,1205.6 2111.4,1201.2 2112.2,1194.9 2112.9,1186.6 2113.7,1177.2 2114.5,1167.9 2115.2,1159.6 2116.0,1151.2 2116.7,1143.6 2117.5,1137.8 2118.2,1134.6 2119.0,1133.4 2119.7,1133.4 2120.5,1133.7 2121.3,1134.2 2122.0,1135.0 2122.8,1135.8 2123.5,1136.5 2124.3,1136.7 2125.0,1135.5 2125.8,1132.8 2126.5,1129.8 2127.3,1127.7 2128.1,1127.7 2128.8,1129.4 2129.6,1131.2 2130.3,1133.2 2131.1,1135.4 2131.8,1137.5 2132.6,1139.5 2133.3,1141.4 2134.1,1143.2 2134.9,1144.9 2135.6,1142.7 2136.4,1137.7 2137.1,1124.0 2137.9,1106.6 2138.6,1117.0 2139.4,1130.2 2140.1,1126.5 2140.9,1121.5 2141.7,1129.2 2142.4,1143.3 2143.2,1156.1 2143.9,1166.0 2144.7,1175.1 2145.4,1182.4 2146.2,1187.0 2146.9,1188.7 2147.7,1188.1 2147.9,1187.7" fill="none" stroke="#008080" stroke-width="5.2" stroke-linejoin="round" stroke-linecap="butt"/>
<polyline points="343.8,1427.9 344.8,1429.1 345.8,1427.9 346.8,1429.2 347.8,1428.4 348.8,1428.6 349.8,1428.9 350.8,1428.5 351.8,1428.1 352.8,1427.9 353.8,1427.7 354.8,1428.9 355.8,1428.3 356.8,1427.8 357.8,1429.1 358.8,1428.0 359.8,1428.3 360.8,1428.1 361.8,1428.7 362.8,1428.6 363.8,1428.6 364.8,1428.0 365.8,1428.1 366.8,1428.0 367.8,1428.1 368.8,1427.8 369.8,1427.8 370.8,1429.3 371.8,1429.3 372.8,1427.9 373.8,1427.6 374.8,1427.9 375.8,1428.8 376.8,1429.0 377.8,1427.6 378.8,1428.6 379.8,1427.6 380.8,1428.5 381.8,1428.7 382.8,1429.3 383.8,1428.0 384.8,1429.0 385.8,1429.1 386.8,1429.2 387.8,1427.6 388.8,1428.4 389.8,1429.3 390.8,1428.3 391.8,1429.0 392.8,1428.5 393.8,1428.9 394.8,1428.4 395.8,1427.6 396.8,1427.7 397.8,1427.7 398.8,1428.0 399.8,1429.3 400.8,1428.7 401.8,1429.0 402.8,1428.6 403.8,1428.7 404.8,1429.0 405.8,1429.2 406.8,1429.2 407.8,1429.0 408.8,1427.7 409.8,1428.2 410.8,1427.6 411.8,1428.5 412.8,1429.0 413.8,1427.6 414.8,1427.9 415.8,1428.2 416.8,1428.0 417.8,1429.0 418.8,1428.2 419.8,1428.7 420.8,1428.4 421.8,1428.6 422.8,1429.2 423.8,1429.2 424.8,1427.7 425.8,1429.1 426.8,1428.2 427.8,1427.7 428.8,1428.2 429.8,1428.5 430.8,1429.3 431.8,1428.2 432.8,1427.6 433.8,1429.1 434.8,1427.7 435.8,1428.4 436.8,1429.1 437.8,1428.5 438.8,1428.3 439.8,1429.0 440.8,1427.6 441.8,1428.5 442.8,1428.2 443.8,1429.3 444.8,1428.9 445.8,1427.6 446.8,1427.8 447.8,1428.3 448.8,1428.7 449.8,1428.0 450.8,1428.1 451.8,1429.1 452.8,1429.1 453.8,1428.1 454.8,1429.0 455.8,1427.9 456.8,1427.5 457.8,1428.3 458.8,1428.5 459.8,1428.9 460.8,1429.0 461.8,1428.7 462.8,1428.6 463.8,1428.5 464.8,1428.5 465.8,1428.6 466.8,1429.0 467.8,1427.9 468.8,1427.3 469.8,1427.6 470.8,1427.6 471.8,1427.8 472.8,1428.6 473.8,1427.3 474.8,1427.9 475.8,1428.6 476.8,1427.6 477.8,1427.2 478.8,1427.5 479.8,1427.2 480.8,1428.5 481.8,1427.4 482.8,1427.4 483.8,1428.5 484.8,1428.5 485.8,1428.1 486.8,1428.7 487.8,1427.1 488.8,1428.7 489.8,1428.0 490.8,1427.5 491.8,1428.4 492.8,1428.1 493.8,1428.7 494.8,1427.1 495.8,1427.9 496.8,1427.7 497.8,1428.0 498.8,1427.3 499.8,1426.9 500.8,1427.8 501.8,1427.4 502.8,1428.3 503.8,1427.5 504.8,1427.4 505.8,1427.8 506.8,1427.6 507.8,1428.3 508.8,1428.0 509.8,1427.4 510.8,1426.8 511.8,1427.5 512.8,1427.7 513.8,1427.7 514.8,1428.1 515.8,1426.6 516.8,1426.9 517.8,1426.9 518.8,1426.6 519.8,1426.7 520.8,1426.8 521.8,1426.9 522.8,1426.3 523.8,1426.0 524.8,1426.2 525.8,1425.8 526.8,1426.0 527.8,1426.5 528.8,1426.2 529.8,1426.8 530.8,1425.8 531.8,1425.6 532.8,1425.6 533.8,1425.6 534.8,1425.2 535.8,1425.0 536.8,1424.8 537.8,1424.2 538.8,1424.8 539.8,1424.3 540.8,1423.5 541.8,1423.3 542.8,1422.8 543.8,1423.1 544.8,1422.3 545.8,1422.4 546.8,1422.0 547.8,1422.2 548.8,1422.2 549.8,1422.4 550.8,1422.6 551.8,1422.1 552.8,1421.1 553.8,1422.3 554.8,1421.8 555.8,1421.2 556.8,1421.3 557.8,1420.9 558.8,1420.1 559.8,1420.7 560.8,1421.2 561.8,1420.6 562.8,1419.4 563.8,1419.1 564.8,1420.3 565.8,1420.1 566.8,1419.7 567.8,1419.5 568.8,1418.2 569.8,1419.2 570.8,1417.9 571.8,1417.7 572.8,1418.0 573.8,1417.1 574.8,1418.5 575.8,1417.1 576.8,1418.0 577.8,1417.6 578.8,1417.8 579.8,1417.4 580.8,1418.0 581.8,1416.8 582.8,1416.9 583.8,1416.5 584.8,1417.2 585.8,1416.3 586.8,1417.1 587.8,1415.7 588.8,1415.9 589.8,1416.1 590.8,1415.5 591.8,1415.5 592.8,1416.6 593.8,1415.6 594.8,1415.3 595.8,1416.3 596.8,1415.7 597.8,1415.8 598.8,1416.1 599.8,1415.8 600.8,1414.9 601.8,1414.3 602.8,1415.3 603.8,1415.5 604.8,1415.6 605.8,1414.4 606.8,1415.2 607.8,1415.7 608.8,1414.5 609.8,1414.6 610.8,1414.9 611.8,1415.2 612.8,1416.0 613.8,1415.3 614.8,1415.9 615.8,1415.5 616.8,1415.2 617.8,1415.0 618.8,1415.1 619.8,1415.9 620.8,1414.8 621.8,1414.7 622.8,1414.8 623.8,1415.6 624.8,1415.0 625.8,1414.7 626.8,1414.8 627.8,1414.3 628.8,1414.8 629.8,1415.4 630.8,1414.7 631.8,1414.6 632.8,1413.7 633.8,1414.1 634.8,1413.6 635.8,1413.5 636.8,1414.9 637.8,1414.5 638.8,1414.6 639.8,1413.3 640.8,1413.7 641.8,1414.7 642.8,1413.9 643.8,1414.8 644.8,1414.9 645.8,1413.3 646.8,1414.1 647.8,1414.4 648.8,1414.1 649.8,1414.2 650.8,1414.2 651.8,1413.9 652.8,1413.5 653.8,1414.7 654.8,1415.1 655.8,1413.2 656.8,1414.5 657.8,1413.7 658.8,1412.5 659.8,1412.3 660.8,1412.8 661.8,1411.7 662.8,1411.6 663.8,1411.2 664.8,1412.0 665.8,1410.7 666.8,1410.0 667.8,1410.7 668.8,1410.3 669.8,1409.4 670.8,1407.9 671.8,1408.7 672.8,1407.4 673.8,1407.5 674.8,1406.8 675.8,1406.2 676.8,1405.8 677.8,1405.3 678.8,1404.1 679.8,1403.6 680.8,1402.3 681.8,1402.3 682.8,1402.6 683.8,1400.8 684.8,1401.0 685.8,1400.5 686.8,1399.3 687.8,1399.2 688.8,1398.5 689.8,1398.2 690.8,1397.0 691.8,1396.8 692.8,1396.3 693.8,1395.2 694.8,1394.5 695.8,1394.0 696.8,1393.7 697.8,1392.7 698.8,1392.8 699.8,1391.6 700.8,1391.5 701.8,1390.5 702.8,1390.2 703.8,1390.0 704.8,1389.1 705.8,1388.7 706.8,1387.9 707.8,1387.6 708.8,1386.8 709.8,1386.9 710.8,1386.5 711.8,1386.1 712.8,1385.7 713.8,1385.6 714.8,1385.3 715.8,1385.2 716.8,1385.5 717.8,1385.5 718.8,1385.5 719.8,1385.0 720.8,1385.5 721.8,1385.2 722.8,1385.8 723.8,1385.0 724.8,1385.9 725.8,1386.0 726.8,1386.2 727.8,1386.8 728.8,1387.3 729.8,1387.7 730.8,1387.6 731.8,1388.2 732.8,1388.9 733.8,1388.9 734.8,1390.3 735.8,1390.8 736.8,1391.4 737.8,1392.3 738.8,1393.4 739.8,1394.0 740.8,1394.6 741.8,1395.0 742.8,1396.5 743.8,1396.7 744.8,1398.0 745.8,1398.3 746.8,1399.3 747.8,1400.2 748.8,1400.2 749.8,1401.0 750.8,1401.5 751.8,1402.0 752.8,1403.3 753.8,1405.0 754.8,1404.6 755.8,1405.0 756.8,1407.2 757.8,1407.1 758.8,1407.6 759.8,1408.4 760.8,1409.1 761.8,1408.4 762.8,1408.6 763.8,1409.3 764.8,1410.3 765.8,1410.7 766.8,1409.6 767.8,1410.6 768.8,1410.3 769.8,1411.2 770.8,1410.3 771.8,1410.4 772.8,1410.1 773.8,1411.9 774.8,1410.9 775.8,1411.4 776.8,1411.7 777.8,1413.2 778.8,1412.1 779.8,1412.9 780.8,1413.9 781.8,1413.3 782.8,1414.4 783.8,1414.4 784.8,1413.9 785.8,1415.2 786.8,1415.0 787.8,1415.0 788.8,1416.5 789.8,1416.4 790.8,1415.8 791.8,1415.7 792.8,1415.2 793.8,1416.5 794.8,1415.6 795.8,1416.1 796.8,1416.3 797.8,1416.5 798.8,1415.4 799.8,1415.3 800.8,1416.5 801.8,1415.2 802.8,1415.8 803.8,1415.2 804.8,1415.4 805.8,1415.4 806.8,1416.5 807.8,1416.3 808.8,1415.4 809.8,1416.0 810.8,1415.8 811.8,1415.0 812.8,1415.4 813.8,1416.1 814.8,1414.9 815.8,1415.1 816.8,1415.2 817.8,1414.5 818.8,1415.9 819.8,1415.1 820.8,1415.5 821.8,1415.3 822.8,1415.7 823.8,1415.4 824.8,1414.9 825.8,1414.3 826.8,1414.8 827.8,1414.0 828.8,1414.1 829.8,1415.4 830.8,1414.8 831.8,1415.2 832.8,1415.1 833.8,1414.7 834.8,1415.0 835.8,1415.3 836.8,1415.3 837.8,1414.0 838.8,1415.2 839.8,1414.3 840.8,1413.8 841.8,1414.2 842.8,1414.4 843.8,1415.0 844.8,1414.9 845.8,1414.3 846.8,1414.7 847.8,1414.2 848.8,1413.4 849.8,1414.0 850.8,1414.4 851.8,1414.5 852.8,1414.3 853.8,1413.1 854.8,1414.4 855.8,1415.0 856.8,1413.8 857.8,1414.8 858.8,1414.0 859.8,1415.1 860.8,1415.5 861.8,1414.1 862.8,1415.2 863.8,1414.1 864.8,1415.0 865.8,1413.2 866.8,1414.3 867.8,1413.1 868.8,1413.1 869.8,1412.5 870.8,1413.4 871.8,1411.9 872.8,1411.5 873.8,1410.8 874.8,1409.8 875.8,1408.8 876.8,1408.7 877.8,1407.2 878.8,1405.8 879.8,1402.2 880.8,1399.8 881.8,1395.9 882.8,1392.0 883.8,1387.4 884.8,1381.5 885.8,1374.8 886.8,1367.2 887.8,1358.6 888.8,1349.7 889.8,1339.8 890.8,1328.3 891.8,1315.0 892.8,1300.0 893.8,1284.7 894.8,1267.4 895.8,1249.8 896.8,1231.4 897.8,1212.7 898.8,1196.4 899.8,1182.8 900.8,1173.5 901.8,1172.8 902.8,1175.2 903.8,1186.8 904.8,1205.9 905.8,1228.9 906.8,1254.4 907.8,1281.1 908.8,1301.3 909.8,1314.5 910.8,1322.9 911.8,1327.6 912.8,1325.1 913.8,1319.9 914.8,1314.6 915.8,1311.2 916.8,1308.1 917.8,1305.6 918.8,1306.9 919.8,1307.7 920.8,1309.9 921.8,1311.1 922.8,1312.2 923.8,1314.6 924.8,1315.3 925.8,1317.4 926.8,1316.0 927.8,1313.0 928.8,1308.7 929.8,1304.7 930.8,1302.7 931.8,1300.5 932.8,1299.1 933.8,1298.1 934.8,1297.0 935.8,1298.1 936.8,1299.5 937.8,1300.4 938.8,1302.1 939.8,1303.7 940.8,1305.2 941.8,1306.9 942.8,1309.0 943.8,1309.5 944.8,1309.0 945.8,1306.3 946.8,1303.8 947.8,1300.9 948.8,1299.5 949.8,1297.8 950.8,1297.1 951.8,1295.4 952.8,1295.2 953.8,1295.5 954.8,1297.6 955.8,1300.6 956.8,1304.9 957.8,1309.7 958.8,1315.2 959.8,1321.4 960.8,1328.1 961.8,1335.2 962.8,1342.3 963.8,1349.6 964.8,1355.4 965.8,1361.5 966.8,1366.8 967.8,1371.7 968.8,1376.4 969.8,1381.3 970.8,1385.7 971.8,1388.9 972.8,1391.1 973.8,1394.0 974.8,1395.9 975.8,1397.6 976.8,1399.2 977.8,1399.5 978.8,1400.4 979.8,1400.7 980.8,1401.3 981.8,1401.7 982.8,1402.5 983.8,1401.8 984.8,1403.7 985.8,1402.2 986.8,1402.1 987.8,1403.7 988.8,1402.8 989.8,1402.4 990.8,1403.2 991.8,1404.7 992.8,1405.1 993.8,1405.4 994.8,1406.3 995.8,1406.1 996.8,1407.4 997.8,1406.7 998.8,1407.6 999.8,1408.7 1000.8,1408.6 1001.8,1408.6 1002.8,1409.2 1003.8,1410.6 1004.8,1410.5 1005.8,1410.6 1006.8,1411.6 1007.8,1411.2 1008.8,1412.7 1009.8,1412.5 1010.8,1413.2 1011.8,1413.3 1012.8,1414.7 1013.8,1413.9 1014.8,1415.6 1015.8,1415.6 1016.8,1415.2 1017.8,1415.6 1018.8,1416.2 1019.8,1416.9 1020.8,1418.1 1021.8,1418.2 1022.8,1417.7 1023.8,1418.3 1024.8,1417.9 1025.8,1419.5 1026.8,1419.7 1027.8,1419.8 1028.8,1420.1 1029.8,1419.4 1030.8,1420.5 1031.8,1420.9 1032.8,1421.2 1033.8,1421.9 1034.8,1421.2 1035.8,1421.2 1036.8,1421.8 1037.8,1422.3 1038.8,1422.9 1039.8,1422.8 1040.8,1422.5 1041.8,1422.4 1042.8,1423.2 1043.8,1422.6 1044.8,1422.8 1045.8,1422.2 1046.8,1423.2 1047.8,1422.7 1048.8,1424.2 1049.8,1422.7 1050.8,1422.7 1051.8,1423.6 1052.8,1424.5 1053.8,1423.3 1054.8,1423.1 1055.8,1423.1 1056.8,1422.9 1057.8,1424.1 1058.8,1423.7 1059.8,1424.6 1060.8,1423.5 1061.8,1424.2 1062.8,1423.3 1063.8,1423.9 1064.8,1425.0 1065.8,1424.5 1066.8,1424.3 1067.8,1425.1 1068.8,1424.1 1069.8,1423.7 1070.8,1424.4 1071.8,1424.7 1072.8,1425.1 1073.8,1424.4 1074.8,1424.7 1075.8,1425.4 1076.8,1425.0 1077.8,1424.4 1078.8,1425.7 1079.8,1425.1 1080.8,1425.6 1081.8,1425.6 1082.8,1425.4 1083.8,1424.7 1084.8,1425.4 1085.8,1424.5 1086.8,1425.5 1087.8,1425.3 1088.8,1425.0 1089.8,1425.3 1090.8,1425.0 1091.8,1425.4 1092.8,1425.3 1093.8,1425.5 1094.8,1424.7 1095.8,1424.9 1096.8,1426.2 1097.8,1425.0 1098.8,1425.3 1099.8,1426.0 1100.8,1425.5 1101.8,1425.5 1102.8,1424.9 1103.8,1425.6 1104.8,1425.9 1105.8,1425.7 1106.8,1425.6 1107.8,1425.2 1108.8,1425.6 1109.8,1425.1 1110.8,1425.5 1111.8,1425.0 1112.8,1425.3 1113.8,1425.2 1114.8,1426.7 1115.8,1426.0 1116.8,1425.5 1117.8,1426.2 1118.8,1425.6 1119.8,1426.3 1120.8,1426.1 1121.8,1425.9 1122.8,1426.9 1123.8,1426.5 1124.8,1427.0 1125.8,1425.8 1126.8,1426.0 1127.8,1426.5 1128.8,1426.5 1129.8,1425.9 1130.8,1425.6 1131.8,1426.9 1132.8,1426.0 1133.8,1425.5 1134.8,1426.7 1135.8,1426.1 1136.8,1426.8 1137.8,1425.7 1138.8,1426.0 1139.8,1427.2 1140.8,1426.7 1141.8,1426.3 1142.8,1427.2 1143.8,1426.9 1144.8,1426.0 1145.8,1426.2 1146.8,1427.3 1147.8,1427.4 1148.8,1427.0 1149.8,1426.7 1150.8,1427.4 1151.8,1427.0 1152.8,1427.5 1153.8,1427.1 1154.8,1426.3 1155.8,1427.5 1156.8,1426.9 1157.8,1426.5 1158.8,1426.4 1159.8,1426.5 1160.8,1427.0 1161.8,1426.1 1162.8,1426.7 1163.8,1426.5 1164.8,1426.2 1165.8,1427.0 1166.8,1426.8 1167.8,1427.7 1168.8,1427.1 1169.8,1426.4 1170.8,1426.3 1171.8,1427.2 1172.8,1427.6 1173.8,1427.0 1174.8,1427.2 1175.8,1427.7 1176.8,1427.5 1177.8,1427.4 1178.8,1427.9 1179.8,1426.6 1180.8,1426.7 1181.8,1428.1 1182.8,1427.8 1183.8,1428.1 1184.8,1427.3 1185.8,1427.2 1186.8,1428.1 1187.8,1427.5 1188.8,1427.2 1189.8,1427.2 1190.8,1427.3 1191.8,1426.5 1192.8,1426.7 1193.8,1427.6 1194.8,1427.7 1195.8,1428.1 1196.8,1427.5 1197.8,1426.7 1198.8,1427.7 1199.8,1426.8 1200.8,1427.4 1201.8,1426.9 1202.8,1427.0 1203.8,1428.1 1204.8,1427.5 1205.8,1427.8 1206.8,1426.7 1207.8,1427.1 1208.8,1426.9 1209.8,1427.8 1210.8,1427.2 1211.8,1427.2 1212.8,1426.8 1213.8,1425.6 1214.8,1426.8 1215.8,1426.6 1216.8,1426.4 1217.8,1425.9 1218.8,1425.7 1219.8,1426.2 1220.8,1426.3 1221.8,1426.1 1222.8,1427.7 1223.8,1427.9 1224.8,1427.3 1225.8,1428.4 1226.8,1429.2 1227.8,1428.5 1228.8,1427.6 1229.8,1429.2 1230.8,1428.5 1231.8,1428.1 1232.8,1428.8 1233.8,1427.8 1234.8,1427.3 1235.8,1426.8 1236.8,1428.1 1237.8,1426.8 1238.8,1427.9 1239.8,1426.6 1240.8,1427.5 1241.8,1426.3 1242.8,1427.5 1243.8,1426.2 1244.8,1427.7 1245.8,1427.0 1246.8,1427.3 1247.8,1427.5 1248.8,1426.8 1249.8,1426.7 1250.8,1427.3 1251.8,1426.8 1252.8,1426.9 1253.8,1426.3 1254.8,1427.1 1255.8,1426.3 1256.8,1425.4 1257.8,1425.2 1258.8,1426.6 1259.8,1425.1 1260.8,1426.0 1261.8,1425.7 1262.8,1426.2 1263.8,1425.4 1264.8,1424.9 1265.8,1424.9 1266.8,1424.7 1267.8,1425.4 1268.8,1424.5 1269.8,1425.1 1270.8,1424.7 1271.8,1424.4 1272.8,1425.4 1273.8,1425.5 1274.8,1425.3 1275.8,1424.7 1276.8,1424.8 1277.8,1425.2 1278.8,1425.0 1279.8,1424.8 1280.8,1424.2 1281.8,1424.2 1282.8,1424.7 1283.8,1425.1 1284.8,1424.3 1285.8,1424.6 1286.8,1425.4 1287.8,1424.2 1288.8,1424.9 1289.8,1424.5 1290.8,1424.1 1291.8,1424.2 1292.8,1423.3 1293.8,1424.1 1294.8,1424.4 1295.8,1422.9 1296.8,1423.8 1297.8,1422.6 1298.8,1422.6 1299.8,1423.4 1300.8,1423.0 1301.8,1422.3 1302.8,1422.4 1303.8,1421.9 1304.8,1422.8 1305.8,1422.7 1306.8,1423.1 1307.8,1422.6 1308.8,1422.9 1309.8,1422.6 1310.8,1422.2 1311.8,1422.1 1312.8,1421.2 1313.8,1421.3 1314.8,1422.0 1315.8,1421.6 1316.8,1421.1 1317.8,1422.3 1318.8,1421.5 1319.8,1420.9 1320.8,1421.0 1321.8,1420.8 1322.8,1421.1 1323.8,1421.7 1324.8,1421.6 1325.8,1421.0 1326.8,1420.8 1327.8,1421.4 1328.8,1421.7 1329.8,1421.5 1330.8,1421.5 1331.8,1422.2 1332.8,1422.1 1333.8,1422.0 1334.8,1421.4 1335.8,1421.8 1336.8,1422.2 1337.8,1421.8 1338.8,1421.3 1339.8,1422.6 1340.8,1423.2 1341.8,1422.3 1342.8,1423.2 1343.8,1423.2 1344.8,1423.1 1345.8,1422.1 1346.8,1422.2 1347.8,1423.1 1348.8,1423.2 1349.8,1422.5 1350.8,1424.1 1351.8,1422.8 1352.8,1423.8 1353.8,1423.2 1354.8,1423.3 1355.8,1424.0 1356.8,1424.2 1357.8,1422.5 1358.8,1423.7 1359.8,1423.5 1360.8,1423.2 1361.8,1422.9 1362.8,1423.0 1363.8,1422.4 1364.8,1423.5 1365.8,1422.0 1366.8,1421.9 1367.8,1422.7 1368.8,1422.2 1369.8,1422.4 1370.8,1422.2 1371.8,1422.3 1372.8,1421.2 1373.8,1422.1 1374.8,1421.3 1375.8,1421.9 1376.8,1421.3 1377.8,1422.1 1378.8,1422.1 1379.8,1421.6 1380.8,1420.9 1381.8,1421.2 1382.8,1421.0 1383.8,1420.7 1384.8,1420.4 1385.8,1421.4 1386.8,1421.1 1387.8,1420.3 1388.8,1421.3 1389.8,1421.2 1390.8,1421.0 1391.8,1420.2 1392.8,1420.8 1393.8,1420.9 1394.8,1420.1 1395.8,1420.3 1396.8,1421.6 1397.8,1421.5 1398.8,1421.3 1399.8,1420.5 1400.8,1420.9 1401.8,1419.7 1402.8,1420.2 1403.8,1420.6 1404.8,1419.9 1405.8,1420.8 1406.8,1420.6 1407.8,1419.6 1408.8,1419.1 1409.8,1420.1 1410.8,1419.3 1411.8,1420.2 1412.8,1419.8 1413.8,1420.3 1414.8,1418.7 1415.8,1419.3 1416.8,1420.0 1417.8,1419.8 1418.8,1419.7 1419.8,1418.3 1420.8,1418.9 1421.8,1419.0 1422.8,1418.8 1423.8,1417.7 1424.8,1418.9 1425.8,1418.8 1426.8,1418.2 1427.8,1417.5 1428.8,1417.3 1429.8,1416.8 1430.8,1417.4 1431.8,1417.4 1432.8,1416.9 1433.8,1416.3 1434.8,1415.8 1435.8,1416.0 1436.8,1415.6 1437.8,1415.5 1438.8,1414.6 1439.8,1416.3 1440.8,1414.6 1441.8,1415.8 1442.8,1416.0 1443.8,1415.6 1444.8,1416.2 1445.8,1416.8 1446.8,1416.6 1447.8,1416.8 1448.8,1416.0 1449.8,1416.8 1450.8,1416.3 1451.8,1417.3 1452.8,1417.8 1453.8,1417.2 1454.8,1417.0 1455.8,1418.5 1456.8,1417.5 1457.8,1417.7 1458.8,1419.1 1459.8,1419.2 1460.8,1419.2 1461.8,1418.1 1462.8,1419.4 1463.8,1418.9 1464.8,1419.1 1465.8,1419.0 1466.8,1419.1 1467.8,1419.1 1468.8,1419.4 1469.8,1419.1 1470.8,1419.8 1471.8,1420.1 1472.8,1421.1 1473.8,1419.8 1474.8,1420.8 1475.8,1420.1 1476.8,1420.3 1477.8,1421.5 1478.8,1420.9 1479.8,1421.5 1480.8,1421.8 1481.8,1421.1 1482.8,1421.7 1483.8,1421.9 1484.8,1421.0 1485.8,1420.5 1486.8,1421.2 1487.8,1420.8 1488.8,1421.8 1489.8,1422.0 1490.8,1420.3 1491.8,1421.0 1492.8,1420.6 1493.8,1421.0 1494.8,1420.2 1495.8,1420.6 1496.8,1420.2 1497.8,1420.6 1498.8,1419.9 1499.8,1421.0 1500.8,1421.3 1501.8,1421.2 1502.8,1420.4 1503.8,1419.5 1504.8,1420.7 1505.8,1420.1 1506.8,1419.3 1507.8,1420.0 1508.8,1420.2 1509.8,1419.1 1510.8,1419.7 1511.8,1418.8 1512.8,1419.5 1513.8,1418.9 1514.8,1419.2 1515.8,1418.0 1516.8,1418.7 1517.8,1417.7 1518.8,1417.8 1519.8,1418.3 1520.8,1417.7 1521.8,1417.7 1522.8,1417.0 1523.8,1416.7 1524.8,1416.9 1525.8,1415.3 1526.8,1416.1 1527.8,1415.4 1528.8,1415.5 1529.8,1415.4 1530.8,1413.8 1531.8,1414.5 1532.8,1412.9 1533.8,1413.0 1534.8,1413.7 1535.8,1411.9 1536.8,1411.8 1537.8,1412.6 1538.8,1411.3 1539.8,1411.2 1540.8,1410.4 1541.8,1410.5 1542.8,1410.2 1543.8,1410.7 1544.7,1409.4 1547.9,1407.0 1548.6,1405.8 1549.4,1404.2 1550.1,1402.2 1550.9,1400.0 1551.6,1397.7 1552.4,1395.0 1553.1,1391.3 1553.9,1386.7 1554.7,1381.4 1555.4,1375.6 1556.2,1369.1 1556.9,1361.1 1557.7,1351.1 1558.4,1338.7 1559.2,1324.2 1559.9,1308.4 1560.7,1291.8 1561.5,1274.7 1562.2,1256.2 1563.0,1237.1 1563.7,1219.4 1564.5,1205.3 1565.2,1195.7 1566.0,1189.8 1566.7,1186.6 1567.5,1186.3 1568.3,1188.7 1569.0,1192.9 1569.8,1197.4 1570.5,1200.8 1571.3,1202.6 1572.0,1204.1 1572.8,1205.4 1573.5,1206.4 1574.3,1207.0 1575.1,1207.2 1575.8,1207.2 1576.6,1207.4 1577.3,1208.2 1578.1,1210.2 1578.8,1213.4 1579.6,1217.7 1580.3,1223.0 1581.1,1229.0 1581.9,1235.9 1582.6,1243.3 1583.4,1250.9 1584.1,1258.3 1584.9,1265.1 1585.6,1271.4 1586.4,1277.6 1587.1,1283.6 1587.9,1289.5 1588.7,1295.2 1589.4,1300.6 1590.2,1305.9 1590.9,1310.9 1591.7,1315.6 1592.4,1320.0 1593.2,1324.2 1593.9,1327.9 1594.7,1331.4 1595.5,1334.5 1596.2,1337.3 1597.0,1339.8 1597.7,1342.0 1598.5,1344.0 1599.2,1345.9 1600.0,1347.6 1600.7,1349.3 1601.5,1350.9 1602.2,1352.3 1603.0,1353.6 1603.8,1354.9 1604.5,1356.0 1605.3,1356.9 1606.0,1357.8 1606.8,1358.6 1607.5,1359.3 1608.3,1359.9 1609.0,1360.4 1609.8,1360.8 1610.6,1360.9 1611.3,1360.8 1612.1,1360.6 1612.8,1360.3 1613.6,1359.8 1614.3,1359.1 1615.1,1358.2 1615.8,1357.1 1616.6,1355.5 1617.4,1353.4 1618.1,1350.5 1618.9,1346.9 1619.6,1342.7 1620.4,1338.0 1621.1,1333.1 1621.9,1328.1 1622.6,1322.6 1623.4,1317.0 1624.2,1311.8 1624.9,1308.9 1625.7,1308.6 1626.4,1309.2 1627.2,1312.1 1627.9,1316.8 1628.7,1318.8 1629.4,1316.2 1630.2,1310.7 1631.0,1303.2 1631.7,1294.2 1632.5,1283.4 1633.2,1273.0 1634.0,1264.6 1634.7,1259.1 1635.5,1256.7 1636.2,1257.9 1637.0,1263.3 1637.8,1273.1 1638.5,1285.1 1639.3,1297.1 1640.0,1307.5 1640.8,1317.2 1641.5,1326.4 1642.3,1334.8 1643.0,1342.3 1643.8,1348.3 1644.6,1352.9 1645.3,1356.1 1646.1,1357.9 1646.8,1358.5 1647.6,1358.0 1648.3,1356.8 1649.1,1355.5 1649.8,1353.7 1650.6,1351.3 1651.4,1348.2 1652.1,1344.5 1652.9,1340.1 1653.6,1334.7 1654.4,1328.1 1655.1,1320.0 1655.9,1310.2 1656.6,1299.3 1657.4,1287.8 1658.2,1275.6 1658.9,1262.9 1659.7,1249.6 1660.4,1236.1 1661.2,1222.4 1661.9,1208.6 1662.7,1194.6 1663.4,1180.4 1664.2,1165.3 1665.0,1149.7 1665.7,1134.3 1666.5,1120.2 1667.2,1108.6 1668.0,1098.9 1668.7,1090.3 1669.5,1082.7 1670.2,1077.9 1671.0,1076.2 1671.8,1078.0 1672.5,1083.9 1673.3,1094.3 1674.0,1107.6 1674.8,1121.6 1675.5,1136.5 1676.3,1152.3 1677.0,1168.8 1677.8,1185.1 1678.6,1200.4 1679.3,1213.9 1680.1,1225.5 1680.8,1234.9 1681.6,1242.3 1682.3,1248.1 1683.1,1252.7 1683.8,1256.1 1684.6,1258.5 1685.4,1260.3 1686.1,1261.9 1686.9,1263.5 1687.6,1265.2 1688.4,1267.3 1689.1,1270.0 1689.9,1273.6 1690.6,1277.7 1691.4,1281.7 1692.2,1285.1 1692.9,1287.4 1693.7,1288.9 1694.4,1289.5 1695.2,1289.1 1695.9,1287.5 1696.7,1284.8 1697.4,1281.9 1698.2,1278.9 1699.0,1275.8 1699.7,1272.7 1700.5,1269.6 1701.2,1266.3 1702.0,1263.0 1702.7,1259.8 1703.5,1257.6 1704.2,1257.7 1705.0,1259.0 1705.7,1260.0 1706.5,1259.6 1707.3,1256.9 1708.0,1253.2 1708.8,1248.6 1709.5,1243.0 1710.3,1236.6 1711.0,1229.2 1711.8,1220.9 1712.5,1212.4 1713.3,1204.6 1714.1,1198.0 1714.8,1192.2 1715.6,1187.0 1716.3,1182.4 1717.1,1180.1 1717.8,1180.0 1718.6,1182.2 1719.3,1188.0 1720.1,1197.9 1720.9,1211.3 1721.6,1224.8 1722.4,1236.5 1723.1,1247.4 1723.9,1257.5 1724.6,1266.5 1725.4,1273.4 1726.1,1277.7 1726.9,1280.1 1727.7,1281.2 1728.4,1281.2 1729.2,1279.3 1729.9,1274.8 1730.7,1267.2 1731.4,1257.5 1732.2,1246.5 1732.9,1234.5 1733.7,1220.9 1734.5,1207.2 1735.2,1195.0 1736.0,1186.4 1736.7,1182.5 1737.5,1183.6 1738.2,1188.7 1739.0,1196.9 1739.7,1207.6 1740.5,1218.7 1741.3,1228.2 1742.0,1235.6 1742.8,1242.4 1743.5,1248.6 1744.3,1254.4 1745.0,1259.6 1745.8,1264.1 1746.5,1267.9 1747.3,1271.1 1748.1,1273.7 1748.8,1275.3 1749.6,1274.8 1750.3,1272.3 1751.1,1268.2 1751.8,1262.4 1752.6,1253.6 1753.3,1242.3 1754.1,1229.1 1754.9,1210.9 1755.6,1191.0 1756.4,1175.2 1757.1,1166.4 1757.9,1163.6 1758.6,1166.4 1759.4,1176.7 1760.1,1197.1 1760.9,1222.7 1761.7,1246.4 1762.4,1268.1 1763.2,1288.2 1763.9,1305.4 1764.7,1317.6 1765.4,1323.9 1766.2,1324.1 1766.9,1321.5 1767.7,1318.4 1768.5,1314.8 1769.2,1310.5 1770.0,1305.0 1770.7,1299.0 1771.5,1293.3 1772.2,1288.9 1773.0,1286.5 1773.7,1285.3 1774.5,1284.4 1775.3,1283.9 1776.0,1283.6 1776.8,1283.4 1777.5,1283.2 1778.3,1283.3 1779.0,1283.3 1779.8,1283.4 1780.5,1283.5 1781.3,1283.6 1782.1,1283.6 1782.8,1283.6 1783.6,1283.6 1784.3,1283.6 1785.1,1283.6 1785.8,1283.5 1786.6,1283.4 1787.3,1283.2 1788.1,1283.0 1788.9,1282.6 1789.6,1282.1 1790.4,1281.5 1791.1,1280.7 1791.9,1279.6 1792.6,1278.3 1793.4,1276.7 1794.1,1275.1 1794.9,1273.6 1795.7,1272.0 1796.4,1270.3 1797.2,1268.4 1797.9,1266.5 1798.7,1264.8 1799.4,1263.4 1800.2,1265.2 1800.9,1269.0 1801.7,1272.3 1802.4,1273.1 1803.2,1272.9 1804.0,1271.6 1804.7,1268.6 1805.5,1264.1 1806.2,1259.4 1807.0,1254.7 1807.7,1250.1 1808.5,1245.4 1809.2,1240.7 1810.0,1236.1 1810.8,1231.2 1811.5,1221.0 1812.3,1204.2 1813.0,1181.0 1813.8,1136.0 1814.5,1061.2 1815.3,974.5 1816.0,888.9 1816.8,805.3 1817.6,735.0 1818.3,707.1 1819.1,692.9 1819.8,691.2 1820.6,707.9 1821.3,765.7 1822.1,826.0 1822.8,886.3 1823.6,946.6 1824.4,992.0 1825.1,1021.8 1825.9,1048.6 1826.6,1067.8 1827.4,1075.1 1828.1,1075.3 1828.9,1069.3 1829.6,1060.1 1830.4,1050.3 1831.2,1038.8 1831.9,1025.3 1832.7,1011.3 1833.4,997.2 1834.2,983.5 1834.9,970.5 1835.7,958.2 1836.4,946.7 1837.2,938.8 1838.0,935.5 1838.7,934.0 1839.5,935.3 1840.2,943.0 1841.0,959.6 1841.7,982.2 1842.5,1008.2 1843.2,1037.2 1844.0,1064.3 1844.8,1086.9 1845.5,1106.2 1846.3,1121.6 1847.0,1133.4 1847.8,1143.5 1848.5,1151.7 1849.3,1158.0 1850.0,1163.0 1850.8,1167.8 1851.6,1172.1 1852.3,1175.9 1853.1,1179.1 1853.8,1181.7 1854.6,1183.6 1855.3,1184.8 1856.1,1185.1 1856.8,1181.8 1857.6,1176.7 1858.4,1173.2 1859.1,1174.3 1859.9,1177.6 1860.6,1181.4 1861.4,1184.8 1862.1,1187.1 1862.9,1189.2 1863.6,1190.8 1864.4,1191.6 1865.2,1191.3 1865.9,1189.6 1866.7,1186.6 1867.4,1182.3 1868.2,1176.6 1868.9,1170.1 1869.7,1163.2 1870.4,1155.9 1871.2,1148.3 1872.0,1140.5 1872.7,1132.1 1873.5,1123.4 1874.2,1114.5 1875.0,1106.0 1875.7,1098.3 1876.5,1091.6 1877.2,1085.6 1878.0,1080.0 1878.8,1074.3 1879.5,1068.2 1880.3,1061.7 1881.0,1054.8 1881.8,1047.7 1882.5,1040.1 1883.3,1032.1 1884.0,1022.9 1884.8,1012.3 1885.6,1000.4 1886.3,987.8 1887.1,974.8 1887.8,961.2 1888.6,946.8 1889.3,931.6 1890.1,915.8 1890.8,899.4 1891.6,882.7 1892.4,864.7 1893.1,843.3 1893.9,816.9 1894.6,788.7 1895.4,760.5 1896.1,732.3 1896.9,704.1 1897.6,676.0 1898.4,647.8 1899.1,619.6 1899.9,591.4 1900.7,563.1 1901.4,534.8 1902.2,506.5 1902.9,480.5 1903.7,458.2 1904.4,438.4 1905.2,420.0 1905.9,403.1 1906.7,388.1 1907.5,375.3 1908.2,364.7 1909.0,355.3 1909.7,347.2 1910.5,340.6 1911.2,335.2 1912.0,330.4 1912.7,326.5 1913.5,323.7 1914.3,321.9 1915.0,320.7 1915.8,320.2 1916.5,320.6 1917.3,321.6 1918.0,323.2 1918.8,325.5 1919.5,328.5 1920.3,332.1 1921.1,336.3 1921.8,340.9 1922.6,345.9 1923.3,351.3 1924.1,356.8 1924.8,362.8 1925.6,369.7 1926.3,377.7 1927.1,387.3 1927.9,397.3 1928.6,407.7 1929.4,418.3 1930.1,428.9 1930.9,439.6 1931.6,450.5 1932.4,461.5 1933.1,472.6 1933.9,483.4 1934.7,493.7 1935.4,502.2 1936.2,509.0 1936.9,514.7 1937.7,519.1 1938.4,521.4 1939.2,522.1 1939.9,521.6 1940.7,520.0 1941.5,516.7 1942.2,511.6 1943.0,504.8 1943.7,496.8 1944.5,487.7 1945.2,477.7 1946.0,466.4 1946.7,454.6 1947.5,443.3 1948.3,433.4 1949.0,425.5 1949.8,419.2 1950.5,415.1 1951.3,418.9 1952.0,428.6 1952.8,442.5 1953.5,465.7 1954.3,502.8 1955.1,542.7 1955.8,582.8 1956.6,623.1 1957.3,663.4 1958.1,703.8 1958.8,744.1 1959.6,784.4 1960.3,824.7 1961.1,865.0 1961.9,903.7 1962.6,940.6 1963.4,975.9 1964.1,1007.9 1964.9,1034.8 1965.6,1057.1 1966.4,1075.5 1967.1,1092.2 1967.9,1107.4 1968.7,1120.9 1969.4,1133.2 1970.2,1145.3 1970.9,1156.6 1971.7,1166.5 1972.4,1174.3 1973.2,1181.1 1973.9,1187.5 1974.7,1193.5 1975.5,1199.1 1976.2,1204.1 1977.0,1208.9 1977.7,1213.8 1978.5,1218.6 1979.2,1223.5 1980.0,1228.3 1980.7,1233.2 1981.5,1238.0 1982.3,1242.9 1983.0,1247.4 1983.8,1250.1 1984.5,1251.0 1985.3,1250.7 1986.0,1248.3 1986.8,1243.5 1987.5,1236.2 1988.3,1226.8 1989.1,1216.6 1989.8,1207.3 1990.6,1199.2 1991.3,1191.5 1992.1,1185.0 1992.8,1180.2 1993.6,1176.7 1994.3,1174.5 1995.1,1173.1 1995.9,1172.3 1996.6,1171.7 1997.4,1171.4 1998.1,1171.9 1998.9,1173.7 1999.6,1177.0 2000.4,1180.8 2001.1,1184.6 2001.9,1188.5 2002.6,1192.2 2003.4,1195.7 2004.2,1199.2 2004.9,1202.5 2005.7,1205.2 2006.4,1204.7 2007.2,1202.5 2007.9,1200.5 2008.7,1200.7 2009.4,1204.3 2010.2,1208.6 2011.0,1212.8 2011.7,1217.0 2012.5,1221.3 2013.2,1225.5 2014.0,1229.8 2014.7,1234.0 2015.5,1237.2 2016.2,1238.0 2017.0,1236.6 2017.8,1233.1 2018.5,1227.4 2019.3,1219.6 2020.0,1209.6 2020.8,1197.7 2021.5,1185.6 2022.3,1173.5 2023.0,1161.4 2023.8,1149.3 2024.6,1137.1 2025.3,1125.0 2026.1,1112.9 2026.8,1103.8 2027.6,1099.1 2028.3,1096.6 2029.1,1093.9 2029.8,1091.0 2030.6,1088.9 2031.4,1088.2 2032.1,1089.3 2032.9,1092.5 2033.6,1096.9 2034.4,1102.1 2035.1,1108.2 2035.9,1115.9 2036.6,1123.9 2037.4,1130.6 2038.2,1134.7 2038.9,1133.8 2039.7,1125.6 2040.4,1114.3 2041.2,1102.5 2041.9,1092.0 2042.7,1081.7 2043.4,1072.4 2044.2,1065.5 2045.0,1063.1 2045.7,1063.6 2046.5,1064.3 2047.2,1062.5 2048.0,1059.1 2048.7,1054.4 2049.5,1047.1 2050.2,1030.6 2051.0,1006.1 2051.8,973.3 2052.5,930.5 2053.3,877.7 2054.0,824.6 2054.8,776.0 2055.5,734.0 2056.3,706.4 2057.0,683.7 2057.8,662.5 2058.6,642.0 2059.3,622.4 2060.1,602.3 2060.8,579.6 2061.6,551.4 2062.3,521.5 2063.1,494.6 2063.8,471.1 2064.6,450.0 2065.4,431.2 2066.1,417.0 2066.9,408.6 2067.6,404.0 2068.4,405.0 2069.1,413.1 2069.9,426.8 2070.6,448.7 2071.4,482.7 2072.2,528.4 2072.9,582.5 2073.7,643.1 2074.4,703.5 2075.2,759.4 2075.9,811.9 2076.7,859.0 2077.4,898.3 2078.2,932.3 2079.0,960.9 2079.7,981.2 2080.5,991.3 2081.2,994.6 2082.0,997.3 2082.7,1005.9 2083.5,1020.0 2084.2,1035.1 2085.0,1051.3 2085.8,1070.1 2086.5,1090.3 2087.3,1108.2 2088.0,1121.0 2088.8,1130.2 2089.5,1136.9 2090.3,1142.1 2091.0,1146.3 2091.8,1149.9 2092.6,1153.7 2093.3,1158.8 2094.1,1165.3 2094.8,1172.4 2095.6,1178.9 2096.3,1183.9 2097.1,1188.2 2097.8,1192.1 2098.6,1195.4 2099.3,1198.4 2100.1,1201.1 2100.9,1203.6 2101.6,1205.8 2102.4,1207.8 2103.1,1209.6 2103.9,1211.1 2104.6,1212.3 2105.4,1213.0 2106.1,1213.2 2106.9,1212.6 2107.7,1211.7 2108.4,1210.6 2109.2,1209.7 2109.9,1208.4 2110.7,1205.9 2111.4,1201.6 2112.2,1194.8 2112.9,1187.1 2113.7,1179.4 2114.5,1171.7 2115.2,1164.0 2116.0,1156.3 2116.7,1148.6 2117.5,1141.0 2118.2,1134.3 2119.0,1131.2 2119.7,1130.2 2120.5,1130.1 2121.3,1130.8 2122.0,1132.7 2122.8,1134.9 2123.5,1136.7 2124.3,1137.4 2125.0,1135.9 2125.8,1132.7 2126.5,1129.2 2127.3,1126.6 2128.1,1126.4 2128.8,1127.6 2129.6,1129.1 2130.3,1130.8 2131.1,1132.6 2131.8,1134.5 2132.6,1136.6 2133.3,1139.1 2134.1,1141.4 2134.9,1143.0 2135.6,1141.0 2136.4,1136.8 2137.1,1133.0 2137.9,1132.1 2138.6,1134.2 2139.4,1137.5 2140.1,1139.9 2140.9,1135.0 2141.7,1126.0 2142.4,1136.3 2143.2,1157.1 2143.9,1169.1 2144.7,1177.9 2145.4,1184.3 2146.2,1188.5 2146.9,1191.4 2147.7,1192.7 2147.9,1192.8" fill="none" stroke="#ff00ff" stroke-width="5.2" stroke-linejoin="round" stroke-linecap="butt"/>
<text x="1286" y="1670.3" font-size="74.5" text-anchor="middle">Wavenumber (cm<tspan font-size="42" dy="-38.5" style="stroke-width:0.4px">-1</tspan><tspan dy="38.5">)</tspan></text>
<text transform="translate(107.5,764.6) rotate(-90)" font-size="73" text-anchor="middle">Absorbance (%)</text>
<text x="15.5" y="148.3" font-size="109" text-anchor="start" style="letter-spacing:2.6px">(a)</text>
<line x1="512.0" y1="248.4" x2="669.0" y2="248.4" stroke="#000000" stroke-width="5.4" stroke-linecap="butt"/>
<text x="686.0" y="270.6" font-size="66.8" text-anchor="start" style="letter-spacing:0.6px">PU-Si0</text>
<line x1="512.0" y1="331.0" x2="669.0" y2="331.0" stroke="#ff0000" stroke-width="5.4" stroke-linecap="butt"/>
<text x="686.0" y="353.2" font-size="66.8" text-anchor="start" style="letter-spacing:0.6px">PU-Si4</text>
<line x1="512.0" y1="413.5" x2="669.0" y2="413.5" stroke="#0000ff" stroke-width="5.4" stroke-linecap="butt"/>
<text x="686.0" y="435.7" font-size="66.8" text-anchor="start" style="letter-spacing:0.6px">PU-Si9</text>
<line x1="512.0" y1="495.5" x2="669.0" y2="495.5" stroke="#008080" stroke-width="5.4" stroke-linecap="butt"/>
<text x="686.0" y="517.7" font-size="66.8" text-anchor="start" style="letter-spacing:0.6px">PU-Si13</text>
<line x1="512.0" y1="578.5" x2="669.0" y2="578.5" stroke="#ff00ff" stroke-width="5.4" stroke-linecap="butt"/>
<text x="686.0" y="600.7" font-size="66.8" text-anchor="start" style="letter-spacing:0.6px">PU-Si17</text>
<text x="650.5" y="1149.3" font-size="73" text-anchor="start" style="stroke-width:0.3px;letter-spacing:0.2px">3300</text>
<line x1="723.5" y1="1164.0" x2="723.5" y2="1323.0" stroke="#000" stroke-width="3.2" stroke-linecap="round"/>
<text x="1383.8" y="926.3" font-size="73" text-anchor="start" style="stroke-width:0.3px;letter-spacing:0.2px">1727</text>
<line x1="1489.3" y1="931.4" x2="1563.2" y2="1056.9" stroke="#000" stroke-width="3.2" stroke-linecap="round"/>
<text x="1697.0" y="468.0" font-size="73" text-anchor="start" style="stroke-width:0.3px;letter-spacing:0.2px">1259</text>
<line x1="1820.7" y1="492.1" x2="1845.6" y2="748.3" stroke="#000" stroke-width="3.2" stroke-linecap="round"/>
<text x="1867.0" y="168.3" font-size="73" text-anchor="start" style="stroke-width:0.3px;letter-spacing:0.2px">1017</text>
<line x1="1948.2" y1="198.3" x2="1948.2" y2="358.3" stroke="#000" stroke-width="3.2" stroke-linecap="round"/>
<text x="2075.2" y="222.3" font-size="73" text-anchor="start" style="stroke-width:0.3px;letter-spacing:0.2px">801</text>
<line x1="2124.1" y1="242.3" x2="2065.5" y2="347.4" stroke="#000" stroke-width="3.2" stroke-linecap="round"/>
</g>
<g id="panel-b">
<rect x="280.6" y="1731.3" width="1996.0" height="1467.7" fill="none" stroke="#000" stroke-width="7"/>
<line x1="280.6" y1="3202.5" x2="280.6" y2="3226.5" stroke="#000" stroke-width="7" stroke-linecap="round"/>
<text x="279.6" y="3302.5" font-size="74.5" text-anchor="middle" style="letter-spacing:1.0px">2000</text>
<line x1="423.2" y1="3202.5" x2="423.2" y2="3212.5" stroke="#000" stroke-width="7" stroke-linecap="round"/>
<line x1="565.7" y1="3202.5" x2="565.7" y2="3226.5" stroke="#000" stroke-width="7" stroke-linecap="round"/>
<text x="564.7" y="3302.5" font-size="74.5" text-anchor="middle" style="letter-spacing:1.0px">1800</text>
<line x1="708.3" y1="3202.5" x2="708.3" y2="3212.5" stroke="#000" stroke-width="7" stroke-linecap="round"/>
<line x1="850.9" y1="3202.5" x2="850.9" y2="3226.5" stroke="#000" stroke-width="7" stroke-linecap="round"/>
<text x="849.9" y="3302.5" font-size="74.5" text-anchor="middle" style="letter-spacing:1.0px">1600</text>
<line x1="993.5" y1="3202.5" x2="993.5" y2="3212.5" stroke="#000" stroke-width="7" stroke-linecap="round"/>
<line x1="1136.0" y1="3202.5" x2="1136.0" y2="3226.5" stroke="#000" stroke-width="7" stroke-linecap="round"/>
<text x="1135.0" y="3302.5" font-size="74.5" text-anchor="middle" style="letter-spacing:1.0px">1400</text>
<line x1="1278.6" y1="3202.5" x2="1278.6" y2="3212.5" stroke="#000" stroke-width="7" stroke-linecap="round"/>
<line x1="1421.2" y1="3202.5" x2="1421.2" y2="3226.5" stroke="#000" stroke-width="7" stroke-linecap="round"/>
<text x="1420.2" y="3302.5" font-size="74.5" text-anchor="middle" style="letter-spacing:1.0px">1200</text>
<line x1="1563.7" y1="3202.5" x2="1563.7" y2="3212.5" stroke="#000" stroke-width="7" stroke-linecap="round"/>
<line x1="1706.3" y1="3202.5" x2="1706.3" y2="3226.5" stroke="#000" stroke-width="7" stroke-linecap="round"/>
<text x="1705.3" y="3302.5" font-size="74.5" text-anchor="middle" style="letter-spacing:1.0px">1000</text>
<line x1="1848.9" y1="3202.5" x2="1848.9" y2="3212.5" stroke="#000" stroke-width="7" stroke-linecap="round"/>
<line x1="1991.5" y1="3202.5" x2="1991.5" y2="3226.5" stroke="#000" stroke-width="7" stroke-linecap="round"/>
<text x="1990.5" y="3302.5" font-size="74.5" text-anchor="middle" style="letter-spacing:1.0px">800</text>
<line x1="2134.0" y1="3202.5" x2="2134.0" y2="3212.5" stroke="#000" stroke-width="7" stroke-linecap="round"/>
<line x1="2276.6" y1="3202.5" x2="2276.6" y2="3226.5" stroke="#000" stroke-width="7" stroke-linecap="round"/>
<text x="2275.6" y="3302.5" font-size="74.5" text-anchor="middle" style="letter-spacing:1.0px">600</text>
<polyline points="281.0,3033.5 283.0,3033.5 285.0,3033.5 287.0,3033.5 289.0,3033.5 291.0,3033.5 293.0,3033.5 295.0,3033.5 297.0,3033.5 299.0,3033.5 301.0,3033.5 303.0,3033.5 305.0,3033.5 307.0,3033.5 309.0,3033.5 311.0,3033.6 313.0,3033.6 315.0,3033.6 317.0,3033.6 319.0,3033.6 321.0,3033.6 323.0,3033.6 325.0,3033.6 327.0,3033.6 329.0,3033.6 331.0,3033.6 333.0,3033.6 335.0,3033.6 337.0,3033.6 339.0,3033.6 341.0,3033.6 343.0,3033.6 345.0,3033.6 347.0,3033.6 349.0,3033.6 351.0,3033.6 353.0,3033.6 355.0,3033.6 357.0,3033.6 359.0,3033.6 361.0,3033.6 363.0,3033.6 365.0,3033.6 367.0,3033.6 369.0,3033.6 371.0,3033.6 373.0,3033.6 375.0,3033.6 377.0,3033.6 379.0,3033.6 381.0,3033.6 383.0,3033.5 385.0,3033.5 387.0,3033.5 389.0,3033.5 391.0,3033.5 393.0,3033.5 395.0,3033.5 397.0,3033.5 399.0,3033.5 401.0,3033.5 403.0,3033.5 405.0,3033.5 407.0,3033.5 409.0,3033.5 411.0,3033.5 413.0,3033.5 415.0,3033.5 417.0,3033.5 419.0,3033.5 421.0,3033.5 423.0,3033.5 425.0,3033.5 427.0,3033.5 429.0,3033.5 431.0,3033.5 433.0,3033.5 435.0,3033.5 437.0,3033.5 439.0,3033.5 441.0,3033.5 443.0,3033.4 445.0,3033.4 447.0,3033.4 449.0,3033.4 451.0,3033.4 453.0,3033.4 455.0,3033.4 457.0,3033.4 459.0,3033.4 461.0,3033.4 463.0,3033.4 465.0,3033.4 467.0,3033.4 469.0,3033.4 471.0,3033.3 473.0,3033.3 475.0,3033.3 477.0,3033.3 479.0,3033.3 481.0,3033.3 483.0,3033.3 485.0,3033.3 487.0,3033.3 489.0,3033.3 491.0,3033.2 493.0,3033.2 495.0,3033.2 497.0,3033.2 499.0,3033.2 501.0,3033.2 503.0,3033.2 505.0,3033.2 507.0,3033.2 509.0,3033.1 511.0,3033.1 513.0,3033.1 515.0,3033.1 517.0,3033.1 519.0,3033.1 521.0,3033.1 523.0,3033.0 525.0,3033.0 527.0,3033.0 529.0,3033.0 531.0,3033.0 533.0,3033.0 535.0,3033.0 537.0,3032.9 539.0,3032.9 541.0,3032.9 543.0,3032.9 545.0,3032.8 547.0,3032.8 549.0,3032.8 551.0,3032.8 553.0,3032.7 555.0,3032.7 557.0,3032.7 559.0,3032.7 561.0,3032.6 563.0,3032.6 565.0,3032.6 567.0,3032.5 569.0,3032.5 571.0,3032.5 573.0,3032.5 575.0,3032.4 577.0,3032.4 579.0,3032.4 581.0,3032.3 583.0,3032.3 585.0,3032.2 587.0,3032.2 589.0,3032.2 591.0,3032.1 593.0,3032.1 595.0,3032.0 597.0,3032.0 599.0,3031.9 601.0,3031.9 603.0,3031.8 605.0,3031.8 607.0,3031.7 609.0,3031.7 611.0,3031.6 613.0,3031.6 615.0,3031.5 617.0,3031.4 619.0,3031.1 621.0,3030.8 623.0,3030.4 625.0,3030.0 627.0,3029.6 629.0,3029.1 631.0,3028.5 633.0,3027.7 635.0,3026.6 637.0,3025.4 639.0,3023.7 641.0,3021.4 643.0,3018.5 645.0,3015.0 647.0,3011.1 649.0,3007.2 651.0,3003.1 653.0,2999.0 655.0,2994.6 657.0,2990.2 659.0,2986.0 661.0,2982.5 663.0,2979.9 665.0,2978.0 667.0,2976.7 669.0,2976.3 671.0,2976.9 673.0,2977.9 675.0,2978.9 677.0,2979.8 679.0,2980.6 681.0,2981.5 683.0,2982.3 685.0,2983.0 687.0,2983.4 689.0,2983.5 691.0,2983.5 693.0,2983.4 695.0,2983.5 697.0,2983.7 699.0,2983.9 701.0,2984.3 703.0,2984.9 705.0,2986.0 707.0,2987.5 709.0,2989.4 711.0,2991.3 713.0,2993.2 715.0,2995.0 717.0,2996.7 719.0,2998.3 721.0,2999.9 723.0,3001.5 725.0,3003.0 727.0,3004.4 729.0,3005.7 731.0,3006.9 733.0,3007.9 735.0,3008.9 737.0,3009.8 739.0,3010.6 741.0,3011.4 743.0,3012.1 745.0,3012.8 747.0,3013.3 749.0,3013.8 751.0,3014.2 753.0,3014.5 755.0,3014.9 757.0,3015.2 759.0,3015.6 761.0,3015.9 763.0,3016.2 765.0,3016.5 767.0,3016.8 769.0,3017.1 771.0,3017.3 773.0,3017.6 775.0,3017.9 777.0,3018.1 779.0,3018.4 781.0,3018.6 783.0,3018.8 785.0,3018.9 787.0,3019.0 789.0,3019.0 791.0,3019.0 793.0,3019.0 795.0,3019.0 797.0,3018.9 799.0,3018.7 801.0,3018.3 803.0,3017.7 805.0,3017.0 807.0,3016.0 809.0,3014.7 811.0,3013.2 813.0,3011.6 815.0,3009.7 817.0,3007.7 819.0,3006.0 821.0,3004.9 823.0,3004.5 825.0,3004.6 827.0,3005.4 829.0,3006.4 831.0,3007.0 833.0,3007.0 835.0,3006.6 837.0,3005.5 839.0,3003.3 841.0,3000.8 843.0,2998.2 845.0,2995.8 847.0,2993.7 849.0,2992.0 851.0,2992.0 853.0,2993.8 855.0,2996.3 857.0,2999.1 859.0,3001.8 861.0,3004.1 863.0,3006.2 865.0,3008.1 867.0,3009.7 869.0,3010.9 871.0,3011.8 873.0,3012.4 875.0,3012.5 877.0,3012.4 879.0,3012.3 881.0,3012.2 883.0,3012.1 885.0,3012.0 887.0,3011.9 889.0,3011.8 891.0,3011.7 893.0,3011.6 895.0,3011.5 897.0,3011.1 899.0,3010.2 901.0,3008.8 903.0,3007.0 905.0,3004.9 907.0,3002.6 909.0,2999.8 911.0,2996.7 913.0,2993.1 915.0,2989.3 917.0,2985.4 919.0,2981.5 921.0,2977.5 923.0,2973.4 925.0,2969.3 927.0,2965.1 929.0,2961.0 931.0,2957.4 933.0,2954.5 935.0,2952.0 937.0,2950.1 939.0,2949.0 941.0,2948.5 943.0,2948.5 945.0,2949.1 947.0,2950.8 949.0,2953.8 951.0,2957.0 953.0,2960.3 955.0,2963.7 957.0,2967.2 959.0,2970.7 961.0,2974.2 963.0,2977.4 965.0,2980.4 967.0,2982.9 969.0,2985.0 971.0,2986.7 973.0,2987.9 975.0,2988.7 977.0,2989.1 979.0,2989.3 981.0,2989.5 983.0,2989.7 985.0,2990.0 987.0,2990.2 989.0,2990.4 991.0,2990.6 993.0,2990.8 995.0,2991.0 997.0,2991.2 999.0,2991.4 1001.0,2991.6 1003.0,2991.6 1005.0,2991.5 1007.0,2991.1 1009.0,2990.4 1011.0,2989.5 1013.0,2988.2 1015.0,2986.8 1017.0,2985.4 1019.0,2983.8 1021.0,2982.1 1023.0,2980.5 1025.0,2979.0 1027.0,2978.0 1029.0,2977.5 1031.0,2977.2 1033.0,2976.8 1035.0,2976.0 1037.0,2975.0 1039.0,2973.9 1041.0,2972.7 1043.0,2971.4 1045.0,2970.0 1047.0,2968.4 1049.0,2966.8 1051.0,2965.2 1053.0,2963.6 1055.0,2962.1 1057.0,2960.6 1059.0,2959.2 1061.0,2957.9 1063.0,2957.0 1065.0,2956.6 1067.0,2956.5 1069.0,2957.1 1071.0,2958.5 1073.0,2960.7 1075.0,2963.1 1077.0,2965.5 1079.0,2967.6 1081.0,2969.7 1083.0,2971.6 1085.0,2973.0 1087.0,2973.9 1089.0,2974.3 1091.0,2974.4 1093.0,2974.5 1095.0,2974.7 1097.0,2974.8 1099.0,2974.6 1101.0,2974.0 1103.0,2972.7 1105.0,2970.9 1107.0,2969.0 1109.0,2966.9 1111.0,2964.6 1113.0,2962.5 1115.0,2961.2 1117.0,2960.8 1119.0,2961.4 1121.0,2962.6 1123.0,2964.5 1125.0,2967.0 1127.0,2969.7 1129.0,2972.4 1131.0,2974.5 1133.0,2976.5 1135.0,2978.3 1137.0,2979.9 1139.0,2981.3 1141.0,2982.5 1143.0,2983.5 1145.0,2984.2 1147.0,2984.9 1149.0,2985.3 1151.0,2985.5 1153.0,2985.2 1155.0,2984.5 1157.0,2983.3 1159.0,2981.2 1161.0,2978.4 1163.0,2975.2 1165.0,2971.1 1167.0,2966.9 1169.0,2963.2 1171.0,2960.9 1173.0,2960.0 1175.0,2960.9 1177.0,2965.0 1179.0,2971.2 1181.0,2977.4 1183.0,2983.7 1185.0,2989.9 1187.0,2996.0 1189.0,3000.9 1191.0,3002.9 1193.0,3003.1 1195.0,3002.9 1197.0,3002.7 1199.0,3002.3 1201.0,3001.7 1203.0,3000.7 1205.0,2999.6 1207.0,2998.3 1209.0,2997.4 1211.0,2996.7 1213.0,2996.3 1215.0,2996.0 1217.0,2996.0 1219.0,2996.1 1221.0,2996.3 1223.0,2996.4 1225.0,2996.6 1227.0,2996.8 1229.0,2996.9 1231.0,2997.1 1233.0,2997.2 1235.0,2997.3 1237.0,2997.4 1239.0,2997.5 1241.0,2997.6 1243.0,2997.7 1245.0,2997.8 1247.0,2997.9 1249.0,2998.0 1251.0,2998.0 1253.0,2998.1 1255.0,2998.1 1257.0,2998.0 1259.0,2998.0 1261.0,2997.8 1263.0,2997.7 1265.0,2997.5 1267.0,2997.3 1269.0,2997.0 1271.0,2996.7 1273.0,2996.3 1275.0,2996.0 1277.0,2995.6 1279.0,2995.1 1281.0,2994.7 1283.0,2994.5 1285.0,2994.8 1287.0,2995.5 1289.0,2996.2 1291.0,2996.7 1293.0,2997.1 1295.0,2997.4 1297.0,2997.5 1299.0,2997.1 1301.0,2995.8 1303.0,2994.5 1305.0,2993.6 1307.0,2993.0 1309.0,2992.6 1311.0,2992.6 1313.0,2993.1 1315.0,2993.8 1317.0,2994.2 1319.0,2994.4 1321.0,2993.5 1323.0,2990.9 1325.0,2987.6 1327.0,2984.5 1329.0,2981.6 1331.0,2979.0 1333.0,2977.7 1335.0,2977.8 1337.0,2978.3 1339.0,2979.3 1341.0,2980.0 1343.0,2980.2 1345.0,2979.9 1347.0,2979.3 1349.0,2978.0 1351.0,2976.3 1353.0,2973.9 1355.0,2970.9 1357.0,2967.8 1359.0,2964.5 1361.0,2961.0 1363.0,2957.4 1365.0,2953.9 1367.0,2950.2 1369.0,2946.6 1371.0,2942.7 1373.0,2938.8 1375.0,2935.0 1377.0,2931.6 1379.0,2928.6 1381.0,2926.0 1383.0,2924.1 1385.0,2923.3 1387.0,2923.0 1389.0,2923.4 1391.0,2925.2 1393.0,2928.8 1395.0,2933.5 1397.0,2938.7 1399.0,2944.5 1401.0,2950.0 1403.0,2954.8 1405.0,2959.0 1407.0,2962.0 1409.0,2963.9 1411.0,2965.7 1413.0,2967.4 1415.0,2969.0 1417.0,2970.6 1419.0,2972.2 1421.0,2973.8 1423.0,2975.4 1425.0,2976.8 1427.0,2977.8 1429.0,2978.0 1431.0,2977.5 1433.0,2976.7 1435.0,2976.0 1437.0,2975.4 1439.0,2975.0 1441.0,2975.2 1443.0,2976.2 1445.0,2977.3 1447.0,2978.2 1449.0,2979.0 1451.0,2979.6 1453.0,2980.1 1455.0,2980.1 1457.0,2979.8 1459.0,2979.1 1461.0,2978.3 1463.0,2977.2 1465.0,2976.1 1467.0,2975.0 1469.0,2973.7 1471.0,2972.2 1473.0,2970.6 1475.0,2968.7 1477.0,2966.7 1479.0,2964.9 1481.0,2963.2 1483.0,2961.7 1485.0,2960.2 1487.0,2958.8 1489.0,2957.5 1491.0,2956.4 1493.0,2955.4 1495.0,2954.5 1497.0,2953.5 1499.0,2952.1 1501.0,2950.5 1503.0,2948.7 1505.0,2946.7 1507.0,2944.6 1509.0,2942.3 1511.0,2940.0 1513.0,2937.7 1515.0,2935.4 1517.0,2933.1 1519.0,2930.8 1521.0,2928.7 1523.0,2926.6 1525.0,2924.4 1527.0,2922.1 1529.0,2919.5 1531.0,2916.3 1533.0,2912.7 1535.0,2909.0 1537.0,2905.3 1539.0,2901.5 1541.0,2897.8 1543.0,2894.1 1545.0,2890.4 1547.0,2886.8 1549.0,2883.2 1551.0,2879.9 1553.0,2877.1 1555.0,2874.9 1557.0,2872.9 1559.0,2871.2 1561.0,2869.7 1563.0,2868.4 1565.0,2867.5 1567.0,2866.8 1569.0,2866.2 1571.0,2865.7 1573.0,2865.3 1575.0,2865.0 1577.0,2864.8 1579.0,2864.7 1581.0,2864.6 1583.0,2864.5 1585.0,2864.5 1587.0,2864.5 1589.0,2864.5 1591.0,2864.6 1593.0,2864.8 1595.0,2865.0 1597.0,2865.4 1599.0,2866.1 1601.0,2867.0 1603.0,2868.0 1605.0,2869.0 1607.0,2870.1 1609.0,2871.3 1611.0,2872.6 1613.0,2874.2 1615.0,2875.9 1617.0,2878.2 1619.0,2880.9 1621.0,2884.1 1623.0,2887.7 1625.0,2891.5 1627.0,2895.6 1629.0,2900.0 1631.0,2904.7 1633.0,2909.3 1635.0,2914.0 1637.0,2918.7 1639.0,2923.3 1641.0,2928.0 1643.0,2932.7 1645.0,2937.3 1647.0,2941.3 1649.0,2944.9 1651.0,2947.9 1653.0,2950.5 1655.0,2952.7 1657.0,2954.5 1659.0,2955.8 1661.0,2956.6 1663.0,2957.0 1665.0,2957.2 1667.0,2957.2 1669.0,2956.5 1671.0,2955.2 1673.0,2953.7 1675.0,2952.3 1677.0,2951.0 1679.0,2949.7 1681.0,2948.6 1683.0,2947.6 1685.0,2947.3 1687.0,2947.7 1689.0,2948.4 1691.0,2949.5 1693.0,2950.7 1695.0,2951.8 1697.0,2952.5 1699.0,2953.0 1701.0,2953.6 1703.0,2954.6 1705.0,2956.8 1707.0,2960.0 1709.0,2964.0 1711.0,2968.4 1713.0,2972.5 1715.0,2976.3 1717.0,2979.9 1719.0,2983.2 1721.0,2986.2 1723.0,2988.8 1725.0,2990.9 1727.0,2992.5 1729.0,2993.8 1731.0,2995.0 1733.0,2996.0 1735.0,2996.8 1737.0,2997.5 1739.0,2998.1 1741.0,2998.6 1743.0,2999.0 1745.0,2999.3 1747.0,2999.4 1749.0,2999.6 1751.0,2999.7 1753.0,3000.0 1755.0,3000.4 1757.0,3000.9 1759.0,3001.5 1761.0,3002.0 1763.0,3002.5 1765.0,3002.8 1767.0,3003.0 1769.0,3003.1 1771.0,3002.9 1773.0,3002.5 1775.0,3001.7 1777.0,3000.4 1779.0,2998.8 1781.0,2997.0 1783.0,2994.8 1785.0,2992.5 1787.0,2990.5 1789.0,2988.9 1791.0,2987.5 1793.0,2986.4 1795.0,2985.6 1797.0,2985.0 1799.0,2984.6 1801.0,2984.2 1803.0,2983.8 1805.0,2983.6 1807.0,2983.4 1809.0,2983.4 1811.0,2983.6 1813.0,2984.1 1815.0,2984.7 1817.0,2985.6 1819.0,2986.5 1821.0,2987.6 1823.0,2988.9 1825.0,2989.8 1827.0,2990.4 1829.0,2990.7 1831.0,2990.9 1833.0,2991.0 1835.0,2990.8 1837.0,2990.6 1839.0,2991.0 1841.0,2992.1 1843.0,2993.8 1845.0,2995.6 1847.0,2997.4 1849.0,2999.3 1851.0,3001.2 1853.0,3002.7 1855.0,3003.7 1857.0,3004.3 1859.0,3004.5 1861.0,3004.5 1863.0,3004.1 1865.0,3003.3 1867.0,3002.1 1869.0,3000.5 1871.0,2998.6 1873.0,2996.3 1875.0,2993.6 1877.0,2990.6 1879.0,2987.2 1881.0,2982.9 1883.0,2979.5 1885.0,2978.5 1887.0,2980.2 1889.0,2983.0 1891.0,2986.6 1893.0,2990.2 1895.0,2992.4 1897.0,2994.0 1899.0,2995.2 1901.0,2996.3 1903.0,2997.3 1905.0,2998.2 1907.0,2999.1 1909.0,2999.9 1911.0,3000.5 1913.0,3001.1 1915.0,3001.4 1917.0,3001.6 1919.0,3001.7 1921.0,3001.7 1923.0,3001.7 1925.0,3001.5 1927.0,3001.4 1929.0,3001.1 1931.0,3000.9 1933.0,3000.5 1935.0,3000.1 1937.0,2999.6 1939.0,2998.9 1941.0,2998.0 1943.0,2997.0 1945.0,2995.9 1947.0,2994.6 1949.0,2992.9 1951.0,2991.0 1953.0,2988.8 1955.0,2985.8 1957.0,2982.8 1959.0,2980.4 1961.0,2978.3 1963.0,2976.7 1965.0,2975.5 1967.0,2974.7 1969.0,2974.4 1971.0,2974.6 1973.0,2974.9 1975.0,2975.5 1977.0,2976.5 1979.0,2977.7 1981.0,2979.0 1983.0,2980.3 1985.0,2981.7 1987.0,2983.0 1989.0,2984.4 1991.0,2985.8 1993.0,2987.3 1995.0,2989.0 1997.0,2990.8 1999.0,2992.5 2001.0,2993.9 2003.0,2995.2 2005.0,2996.4 2007.0,2997.5 2009.0,2998.5 2011.0,2999.2 2013.0,2999.8 2015.0,3000.1 2017.0,3000.1 2019.0,2999.6 2021.0,2998.8 2023.0,2997.5 2025.0,2995.9 2027.0,2994.0 2029.0,2991.5 2031.0,2988.7 2033.0,2986.6 2035.0,2985.8 2037.0,2986.6 2039.0,2988.3 2041.0,2990.6 2043.0,2993.7 2045.0,2996.5 2047.0,2998.3 2049.0,2999.5 2051.0,3000.3 2053.0,3000.6 2055.0,3000.9 2057.0,3001.1 2059.0,3001.3 2061.0,3001.6 2063.0,3001.8 2065.0,3002.0 2067.0,3002.2 2069.0,3002.4 2071.0,3002.5 2073.0,3002.7 2075.0,3002.8 2077.0,3002.9 2079.0,3003.0 2081.0,3003.0 2083.0,3003.0 2085.0,3003.0 2087.0,3002.9 2089.0,3002.7 2091.0,3002.4 2093.0,3002.1 2095.0,3001.8 2097.0,3001.5 2099.0,3001.2 2101.0,3000.9 2103.0,3000.7 2105.0,3000.4 2107.0,3000.1 2109.0,2999.7 2111.0,2998.6 2113.0,2997.5 2115.0,2997.0 2117.0,2997.0 2119.0,2998.1 2121.0,2999.6 2123.0,3000.1 2125.0,3000.3 2127.0,3000.5 2129.0,3000.5 2131.0,3000.5 2133.0,3000.4 2135.0,3000.4 2137.0,3000.3 2139.0,3000.2 2141.0,2999.9 2143.0,2999.7 2145.0,2999.3 2147.0,2999.0 2149.0,2998.7 2151.0,2998.4 2153.0,2998.2 2155.0,2998.0 2157.0,2997.9 2159.0,2997.7 2161.0,2997.4 2163.0,2997.1 2165.0,2996.8 2167.0,2996.4 2169.0,2995.9 2171.0,2995.4 2173.0,2994.6 2175.0,2993.7 2177.0,2992.5 2179.0,2991.2 2181.0,2991.3 2183.0,2992.7 2185.0,2993.1 2187.0,2993.2 2189.0,2993.3 2191.0,2993.4 2193.0,2993.5 2195.0,2993.6 2197.0,2993.8 2199.0,2993.9 2201.0,2994.0 2203.0,2994.0 2205.0,2993.7 2206.5,2993.5" fill="none" stroke="#000000" stroke-width="5.2" stroke-linejoin="round" stroke-linecap="butt"/>
<polyline points="281.0,2844.0 283.0,2844.0 285.0,2844.0 287.0,2844.0 289.0,2844.0 291.0,2844.0 293.0,2844.0 295.0,2844.0 297.0,2844.0 299.0,2844.0 301.0,2844.0 303.0,2844.0 305.0,2844.0 307.0,2844.0 309.0,2844.0 311.0,2844.0 313.0,2844.0 315.0,2844.0 317.0,2844.0 319.0,2844.0 321.0,2844.0 323.0,2844.0 325.0,2844.0 327.0,2844.0 329.0,2844.0 331.0,2844.0 333.0,2844.0 335.0,2844.0 337.0,2844.0 339.0,2844.0 341.0,2844.0 343.0,2844.0 345.0,2844.0 347.0,2844.0 349.0,2844.0 351.0,2844.0 353.0,2844.0 355.0,2844.0 357.0,2844.0 359.0,2844.0 361.0,2844.0 363.0,2844.0 365.0,2844.0 367.0,2844.0 369.0,2844.0 371.0,2844.0 373.0,2844.0 375.0,2844.0 377.0,2844.0 379.0,2844.0 381.0,2844.0 383.0,2844.0 385.0,2844.0 387.0,2844.0 389.0,2844.0 391.0,2844.0 393.0,2844.0 395.0,2844.0 397.0,2844.0 399.0,2844.0 401.0,2844.0 403.0,2844.0 405.0,2844.0 407.0,2844.0 409.0,2844.0 411.0,2844.0 413.0,2844.0 415.0,2844.0 417.0,2844.0 419.0,2844.0 421.0,2844.0 423.0,2844.0 425.0,2844.0 427.0,2844.0 429.0,2844.0 431.0,2844.0 433.0,2844.0 435.0,2844.0 437.0,2844.0 439.0,2844.0 441.0,2844.0 443.0,2844.0 445.0,2844.0 447.0,2844.0 449.0,2844.0 451.0,2844.0 453.0,2844.0 455.0,2844.0 457.0,2844.0 459.0,2844.0 461.0,2844.0 463.0,2844.0 465.0,2844.0 467.0,2844.0 469.0,2844.0 471.0,2844.0 473.0,2844.0 475.0,2844.0 477.0,2844.0 479.0,2844.0 481.0,2844.0 483.0,2844.0 485.0,2844.0 487.0,2844.0 489.0,2844.0 491.0,2844.0 493.0,2844.0 495.0,2844.0 497.0,2844.0 499.0,2844.0 501.0,2844.0 503.0,2844.0 505.0,2844.0 507.0,2844.0 509.0,2844.0 511.0,2844.0 513.0,2844.0 515.0,2844.0 517.0,2844.0 519.0,2844.0 521.0,2844.0 523.0,2844.0 525.0,2844.0 527.0,2844.0 529.0,2844.0 531.0,2844.0 533.0,2844.0 535.0,2844.0 537.0,2844.0 539.0,2844.0 541.0,2843.9 543.0,2843.9 545.0,2843.9 547.0,2843.9 549.0,2843.8 551.0,2843.8 553.0,2843.8 555.0,2843.7 557.0,2843.7 559.0,2843.7 561.0,2843.6 563.0,2843.6 565.0,2843.6 567.0,2843.5 569.0,2843.5 571.0,2843.5 573.0,2843.5 575.0,2843.4 577.0,2843.4 579.0,2843.4 581.0,2843.3 583.0,2843.3 585.0,2843.2 587.0,2843.2 589.0,2843.2 591.0,2843.1 593.0,2843.1 595.0,2843.0 597.0,2843.0 599.0,2842.9 601.0,2842.9 603.0,2842.8 605.0,2842.8 607.0,2842.7 609.0,2842.7 611.0,2842.6 613.0,2842.6 615.0,2842.5 617.0,2842.4 619.0,2842.2 621.0,2841.8 623.0,2841.5 625.0,2841.1 627.0,2840.6 629.0,2840.1 631.0,2839.3 633.0,2838.3 635.0,2837.2 637.0,2835.8 639.0,2834.4 641.0,2832.5 643.0,2830.1 645.0,2827.0 647.0,2823.4 649.0,2819.6 651.0,2815.8 653.0,2812.1 655.0,2808.5 657.0,2804.9 659.0,2801.5 661.0,2798.9 663.0,2797.6 665.0,2797.0 667.0,2796.8 669.0,2797.1 671.0,2798.0 673.0,2799.3 675.0,2800.7 677.0,2801.8 679.0,2802.5 681.0,2803.1 683.0,2803.6 685.0,2804.0 687.0,2804.3 689.0,2804.4 691.0,2804.6 693.0,2804.8 695.0,2805.0 697.0,2805.3 699.0,2805.7 701.0,2806.3 703.0,2807.0 705.0,2808.0 707.0,2809.4 709.0,2811.1 711.0,2813.1 713.0,2815.0 715.0,2816.5 717.0,2817.8 719.0,2819.1 721.0,2820.3 723.0,2821.5 725.0,2822.5 727.0,2823.5 729.0,2824.4 731.0,2825.3 733.0,2826.2 735.0,2827.0 737.0,2827.8 739.0,2828.6 741.0,2829.3 743.0,2830.0 745.0,2830.7 747.0,2831.3 749.0,2831.8 751.0,2832.2 753.0,2832.5 755.0,2832.9 757.0,2833.1 759.0,2833.4 761.0,2833.6 763.0,2833.8 765.0,2834.0 767.0,2834.2 769.0,2834.3 771.0,2834.5 773.0,2834.6 775.0,2834.8 777.0,2834.9 779.0,2835.0 781.0,2835.0 783.0,2835.0 785.0,2835.0 787.0,2834.9 789.0,2834.8 791.0,2834.7 793.0,2834.6 795.0,2834.5 797.0,2834.4 799.0,2834.2 801.0,2833.9 803.0,2833.5 805.0,2833.0 807.0,2832.2 809.0,2831.1 811.0,2829.9 813.0,2828.7 815.0,2827.2 817.0,2825.7 819.0,2824.5 821.0,2823.9 823.0,2823.9 825.0,2824.0 827.0,2824.3 829.0,2824.9 831.0,2825.4 833.0,2825.5 835.0,2824.9 837.0,2823.9 839.0,2822.5 841.0,2820.6 843.0,2818.4 845.0,2816.5 847.0,2815.3 849.0,2814.9 851.0,2815.3 853.0,2816.3 855.0,2818.0 857.0,2820.3 859.0,2822.8 861.0,2825.0 863.0,2826.9 865.0,2828.6 867.0,2830.1 869.0,2831.3 871.0,2832.1 873.0,2832.8 875.0,2833.3 877.0,2833.7 879.0,2833.9 881.0,2834.1 883.0,2834.1 885.0,2834.0 887.0,2833.7 889.0,2833.3 891.0,2832.7 893.0,2831.9 895.0,2831.0 897.0,2830.0 899.0,2828.7 901.0,2827.3 903.0,2825.6 905.0,2823.5 907.0,2821.2 909.0,2818.8 911.0,2816.3 913.0,2813.7 915.0,2811.0 917.0,2808.2 919.0,2805.4 921.0,2802.7 923.0,2799.9 925.0,2797.1 927.0,2794.4 929.0,2791.7 931.0,2789.0 933.0,2786.8 935.0,2785.2 937.0,2783.8 939.0,2782.6 941.0,2781.9 943.0,2781.5 945.0,2781.6 947.0,2782.5 949.0,2784.5 951.0,2787.3 953.0,2790.1 955.0,2793.0 957.0,2795.9 959.0,2798.9 961.0,2801.8 963.0,2804.7 965.0,2807.3 967.0,2809.4 969.0,2811.2 971.0,2812.7 973.0,2813.9 975.0,2814.8 977.0,2815.4 979.0,2815.8 981.0,2816.1 983.0,2816.4 985.0,2816.7 987.0,2816.9 989.0,2817.3 991.0,2817.7 993.0,2818.3 995.0,2819.0 997.0,2819.7 999.0,2820.3 1001.0,2820.7 1003.0,2820.9 1005.0,2821.0 1007.0,2821.0 1009.0,2820.7 1011.0,2820.4 1013.0,2819.8 1015.0,2819.0 1017.0,2818.0 1019.0,2816.9 1021.0,2816.0 1023.0,2815.4 1025.0,2814.9 1027.0,2814.5 1029.0,2814.2 1031.0,2813.9 1033.0,2813.9 1035.0,2814.0 1037.0,2813.9 1039.0,2813.5 1041.0,2812.7 1043.0,2811.6 1045.0,2810.3 1047.0,2808.9 1049.0,2807.4 1051.0,2805.9 1053.0,2804.4 1055.0,2803.0 1057.0,2801.7 1059.0,2800.4 1061.0,2799.3 1063.0,2798.3 1065.0,2797.8 1067.0,2797.9 1069.0,2798.6 1071.0,2800.0 1073.0,2802.1 1075.0,2804.8 1077.0,2807.6 1079.0,2810.1 1081.0,2812.5 1083.0,2814.7 1085.0,2816.7 1087.0,2818.2 1089.0,2819.0 1091.0,2819.4 1093.0,2819.5 1095.0,2819.5 1097.0,2819.5 1099.0,2819.1 1101.0,2818.0 1103.0,2816.4 1105.0,2814.5 1107.0,2812.5 1109.0,2810.4 1111.0,2808.1 1113.0,2806.0 1115.0,2804.4 1117.0,2803.8 1119.0,2804.4 1121.0,2805.3 1123.0,2806.5 1125.0,2807.9 1127.0,2809.5 1129.0,2810.9 1131.0,2812.0 1133.0,2813.0 1135.0,2813.8 1137.0,2814.5 1139.0,2815.1 1141.0,2815.6 1143.0,2816.0 1145.0,2816.3 1147.0,2816.5 1149.0,2816.5 1151.0,2816.3 1153.0,2815.8 1155.0,2815.0 1157.0,2813.8 1159.0,2811.9 1161.0,2809.2 1163.0,2806.2 1165.0,2802.2 1167.0,2797.8 1169.0,2794.2 1171.0,2792.0 1173.0,2791.0 1175.0,2791.4 1177.0,2793.6 1179.0,2797.9 1181.0,2803.2 1183.0,2808.2 1185.0,2812.7 1187.0,2817.0 1189.0,2820.5 1191.0,2822.9 1193.0,2824.0 1195.0,2824.0 1197.0,2823.6 1199.0,2823.1 1201.0,2822.5 1203.0,2821.8 1205.0,2821.0 1207.0,2820.2 1209.0,2819.3 1211.0,2818.6 1213.0,2817.8 1215.0,2817.2 1217.0,2816.7 1219.0,2816.5 1221.0,2816.6 1223.0,2816.8 1225.0,2817.0 1227.0,2817.3 1229.0,2817.4 1231.0,2817.5 1233.0,2817.6 1235.0,2817.7 1237.0,2817.8 1239.0,2817.9 1241.0,2817.9 1243.0,2818.0 1245.0,2818.0 1247.0,2818.0 1249.0,2818.0 1251.0,2818.0 1253.0,2817.9 1255.0,2817.8 1257.0,2817.7 1259.0,2817.6 1261.0,2817.4 1263.0,2817.2 1265.0,2817.0 1267.0,2816.7 1269.0,2816.5 1271.0,2816.1 1273.0,2815.8 1275.0,2815.5 1277.0,2815.1 1279.0,2814.7 1281.0,2814.2 1283.0,2814.0 1285.0,2814.2 1287.0,2814.8 1289.0,2815.3 1291.0,2815.6 1293.0,2815.8 1295.0,2815.9 1297.0,2815.6 1299.0,2815.0 1301.0,2814.2 1303.0,2813.3 1305.0,2812.5 1307.0,2811.8 1309.0,2811.2 1311.0,2810.5 1313.0,2809.8 1315.0,2808.8 1317.0,2807.3 1319.0,2805.4 1321.0,2800.8 1323.0,2792.7 1325.0,2782.5 1327.0,2772.8 1329.0,2763.9 1331.0,2757.1 1333.0,2754.2 1335.0,2753.0 1337.0,2754.1 1339.0,2757.7 1341.0,2763.7 1343.0,2770.0 1345.0,2775.3 1347.0,2780.0 1349.0,2783.8 1351.0,2786.5 1353.0,2788.0 1355.0,2788.6 1357.0,2788.3 1359.0,2787.4 1361.0,2786.0 1363.0,2784.1 1365.0,2782.0 1367.0,2779.6 1369.0,2777.0 1371.0,2774.2 1373.0,2771.4 1375.0,2768.5 1377.0,2765.4 1379.0,2762.1 1381.0,2759.0 1383.0,2756.8 1385.0,2755.5 1387.0,2754.9 1389.0,2755.0 1391.0,2756.7 1393.0,2760.4 1395.0,2765.0 1397.0,2770.1 1399.0,2775.8 1401.0,2781.0 1403.0,2785.3 1405.0,2788.8 1407.0,2791.1 1409.0,2792.5 1411.0,2793.7 1413.0,2794.9 1415.0,2796.0 1417.0,2797.1 1419.0,2798.2 1421.0,2799.2 1423.0,2800.3 1425.0,2801.6 1427.0,2802.6 1429.0,2802.5 1431.0,2801.7 1433.0,2800.8 1435.0,2800.0 1437.0,2799.2 1439.0,2798.3 1441.0,2797.5 1443.0,2797.5 1445.0,2798.7 1447.0,2799.8 1449.0,2800.4 1451.0,2800.9 1453.0,2801.3 1455.0,2801.5 1457.0,2801.3 1459.0,2800.8 1461.0,2800.0 1463.0,2799.1 1465.0,2798.0 1467.0,2796.8 1469.0,2795.5 1471.0,2794.1 1473.0,2792.6 1475.0,2791.0 1477.0,2788.9 1479.0,2786.5 1481.0,2784.2 1483.0,2782.7 1485.0,2781.6 1487.0,2780.5 1489.0,2779.4 1491.0,2778.3 1493.0,2777.2 1495.0,2776.1 1497.0,2775.1 1499.0,2774.0 1501.0,2772.6 1503.0,2771.1 1505.0,2769.2 1507.0,2767.1 1509.0,2764.9 1511.0,2762.7 1513.0,2760.5 1515.0,2758.3 1517.0,2756.1 1519.0,2753.9 1521.0,2751.7 1523.0,2749.4 1525.0,2747.1 1527.0,2744.6 1529.0,2741.7 1531.0,2738.2 1533.0,2734.1 1535.0,2729.7 1537.0,2725.2 1539.0,2720.5 1541.0,2715.8 1543.0,2711.1 1545.0,2706.5 1547.0,2702.0 1549.0,2697.5 1551.0,2693.2 1553.0,2689.0 1555.0,2685.1 1557.0,2681.7 1559.0,2678.8 1561.0,2676.3 1563.0,2674.1 1565.0,2672.1 1567.0,2670.4 1569.0,2668.8 1571.0,2667.3 1573.0,2666.0 1575.0,2665.0 1577.0,2664.2 1579.0,2663.6 1581.0,2663.2 1583.0,2662.9 1585.0,2662.8 1587.0,2662.8 1589.0,2662.9 1591.0,2663.2 1593.0,2663.6 1595.0,2664.1 1597.0,2664.8 1599.0,2665.6 1601.0,2666.5 1603.0,2667.5 1605.0,2668.5 1607.0,2669.7 1609.0,2671.0 1611.0,2672.4 1613.0,2673.9 1615.0,2675.6 1617.0,2677.5 1619.0,2679.5 1621.0,2681.8 1623.0,2684.1 1625.0,2686.6 1627.0,2689.3 1629.0,2692.1 1631.0,2695.2 1633.0,2698.3 1635.0,2701.3 1637.0,2704.3 1639.0,2707.1 1641.0,2709.7 1643.0,2712.2 1645.0,2714.6 1647.0,2716.9 1649.0,2719.1 1651.0,2721.0 1653.0,2722.5 1655.0,2723.7 1657.0,2724.7 1659.0,2725.2 1661.0,2725.2 1663.0,2724.5 1665.0,2723.4 1667.0,2722.3 1669.0,2721.0 1671.0,2719.7 1673.0,2718.2 1675.0,2716.7 1677.0,2715.2 1679.0,2713.9 1681.0,2713.0 1683.0,2712.5 1685.0,2712.5 1687.0,2713.7 1689.0,2716.6 1691.0,2720.2 1693.0,2724.0 1695.0,2728.0 1697.0,2732.0 1699.0,2736.0 1701.0,2740.1 1703.0,2744.3 1705.0,2748.8 1707.0,2753.8 1709.0,2759.3 1711.0,2764.8 1713.0,2770.1 1715.0,2775.2 1717.0,2780.2 1719.0,2784.7 1721.0,2788.5 1723.0,2791.6 1725.0,2794.4 1727.0,2796.8 1729.0,2799.1 1731.0,2801.2 1733.0,2803.0 1735.0,2804.6 1737.0,2806.1 1739.0,2807.3 1741.0,2808.2 1743.0,2808.7 1745.0,2809.2 1747.0,2809.6 1749.0,2810.0 1751.0,2810.7 1753.0,2811.5 1755.0,2812.3 1757.0,2813.2 1759.0,2814.0 1761.0,2814.7 1763.0,2815.2 1765.0,2815.6 1767.0,2815.9 1769.0,2816.1 1771.0,2816.2 1773.0,2816.0 1775.0,2815.6 1777.0,2814.9 1779.0,2813.6 1781.0,2811.9 1783.0,2809.9 1785.0,2807.3 1787.0,2804.9 1789.0,2803.3 1791.0,2802.1 1793.0,2801.1 1795.0,2800.2 1797.0,2799.4 1799.0,2798.7 1801.0,2798.0 1803.0,2797.5 1805.0,2797.2 1807.0,2797.1 1809.0,2797.2 1811.0,2797.6 1813.0,2798.1 1815.0,2798.8 1817.0,2799.6 1819.0,2800.5 1821.0,2801.6 1823.0,2802.8 1825.0,2803.8 1827.0,2804.5 1829.0,2805.0 1831.0,2805.3 1833.0,2805.5 1835.0,2805.4 1837.0,2804.9 1839.0,2804.7 1841.0,2805.2 1843.0,2806.3 1845.0,2807.6 1847.0,2809.0 1849.0,2810.4 1851.0,2811.9 1853.0,2813.3 1855.0,2814.5 1857.0,2815.1 1859.0,2815.1 1861.0,2815.0 1863.0,2814.7 1865.0,2814.2 1867.0,2813.2 1869.0,2811.7 1871.0,2810.0 1873.0,2808.2 1875.0,2806.4 1877.0,2804.6 1879.0,2802.7 1881.0,2800.8 1883.0,2799.0 1885.0,2797.7 1887.0,2797.0 1889.0,2796.7 1891.0,2796.4 1893.0,2796.2 1895.0,2796.2 1897.0,2796.3 1899.0,2796.8 1901.0,2797.4 1903.0,2798.1 1905.0,2798.8 1907.0,2799.6 1909.0,2800.6 1911.0,2801.6 1913.0,2802.5 1915.0,2803.0 1917.0,2803.0 1919.0,2802.6 1921.0,2801.7 1923.0,2800.0 1925.0,2797.9 1927.0,2796.5 1929.0,2795.9 1931.0,2795.4 1933.0,2795.0 1935.0,2794.7 1937.0,2794.5 1939.0,2794.2 1941.0,2793.9 1943.0,2793.0 1945.0,2791.5 1947.0,2789.4 1949.0,2786.0 1951.0,2781.3 1953.0,2775.4 1955.0,2768.6 1957.0,2762.6 1959.0,2757.3 1961.0,2753.0 1963.0,2750.3 1965.0,2748.1 1967.0,2746.0 1969.0,2744.0 1971.0,2742.0 1973.0,2740.0 1975.0,2738.0 1977.0,2736.0 1979.0,2734.0 1981.0,2732.0 1983.0,2730.0 1985.0,2728.2 1987.0,2726.6 1989.0,2725.3 1991.0,2724.4 1993.0,2724.5 1995.0,2725.2 1997.0,2726.8 1999.0,2729.3 2001.0,2732.3 2003.0,2736.4 2005.0,2742.8 2007.0,2750.1 2009.0,2757.5 2011.0,2764.9 2013.0,2772.3 2015.0,2779.3 2017.0,2784.1 2019.0,2787.5 2021.0,2790.4 2023.0,2792.4 2025.0,2793.0 2027.0,2792.9 2029.0,2792.7 2031.0,2792.4 2033.0,2791.6 2035.0,2791.0 2037.0,2791.2 2039.0,2793.1 2041.0,2795.8 2043.0,2798.6 2045.0,2801.5 2047.0,2804.0 2049.0,2805.6 2051.0,2806.6 2053.0,2807.3 2055.0,2807.7 2057.0,2808.1 2059.0,2808.4 2061.0,2808.7 2063.0,2809.3 2065.0,2810.1 2067.0,2811.0 2069.0,2811.7 2071.0,2812.1 2073.0,2812.4 2075.0,2812.7 2077.0,2813.0 2079.0,2813.3 2081.0,2813.6 2083.0,2813.9 2085.0,2814.2 2087.0,2814.5 2089.0,2814.8 2091.0,2815.1 2093.0,2815.2 2095.0,2815.1 2097.0,2814.9 2099.0,2814.7 2101.0,2814.4 2103.0,2814.2 2105.0,2813.8 2107.0,2813.4 2109.0,2812.9 2111.0,2812.3 2113.0,2811.6 2115.0,2810.7 2117.0,2809.9 2119.0,2809.1 2121.0,2808.5 2123.0,2807.9 2125.0,2807.4 2127.0,2807.0 2129.0,2806.9 2131.0,2807.2 2133.0,2807.4 2135.0,2807.5 2137.0,2807.4 2139.0,2807.2 2141.0,2806.9 2143.0,2806.7 2145.0,2806.5 2147.0,2806.4 2149.0,2806.3 2151.0,2806.2 2153.0,2806.1 2155.0,2806.0 2157.0,2806.0 2159.0,2806.1 2161.0,2806.2 2163.0,2806.4 2165.0,2806.5 2167.0,2806.5 2169.0,2806.3 2171.0,2805.9 2173.0,2805.5 2175.0,2804.5 2177.0,2803.0 2179.0,2799.5 2181.0,2800.3 2183.0,2803.0 2185.0,2802.9 2187.0,2802.7 2189.0,2803.6 2191.0,2804.9 2193.0,2806.0 2195.0,2806.8 2197.0,2807.5 2199.0,2808.0 2201.0,2808.4 2203.0,2808.7 2205.0,2809.0 2205.5,2809.0" fill="none" stroke="#ff0000" stroke-width="5.2" stroke-linejoin="round" stroke-linecap="butt"/>
<polyline points="281.0,2641.5 283.0,2641.5 285.0,2641.5 287.0,2641.5 289.0,2641.5 291.0,2641.5 293.0,2641.5 295.0,2641.5 297.0,2641.5 299.0,2641.5 301.0,2641.5 303.0,2641.5 305.0,2641.5 307.0,2641.5 309.0,2641.5 311.0,2641.6 313.0,2641.6 315.0,2641.6 317.0,2641.6 319.0,2641.6 321.0,2641.6 323.0,2641.6 325.0,2641.6 327.0,2641.6 329.0,2641.6 331.0,2641.6 333.0,2641.6 335.0,2641.6 337.0,2641.6 339.0,2641.6 341.0,2641.6 343.0,2641.6 345.0,2641.6 347.0,2641.6 349.0,2641.6 351.0,2641.6 353.0,2641.6 355.0,2641.6 357.0,2641.6 359.0,2641.6 361.0,2641.6 363.0,2641.6 365.0,2641.6 367.0,2641.6 369.0,2641.6 371.0,2641.6 373.0,2641.6 375.0,2641.6 377.0,2641.6 379.0,2641.6 381.0,2641.6 383.0,2641.5 385.0,2641.5 387.0,2641.5 389.0,2641.5 391.0,2641.5 393.0,2641.5 395.0,2641.5 397.0,2641.5 399.0,2641.5 401.0,2641.5 403.0,2641.5 405.0,2641.5 407.0,2641.5 409.0,2641.5 411.0,2641.5 413.0,2641.5 415.0,2641.5 417.0,2641.5 419.0,2641.5 421.0,2641.5 423.0,2641.5 425.0,2641.5 427.0,2641.5 429.0,2641.5 431.0,2641.5 433.0,2641.5 435.0,2641.5 437.0,2641.5 439.0,2641.5 441.0,2641.5 443.0,2641.4 445.0,2641.4 447.0,2641.4 449.0,2641.4 451.0,2641.4 453.0,2641.4 455.0,2641.4 457.0,2641.4 459.0,2641.4 461.0,2641.4 463.0,2641.4 465.0,2641.4 467.0,2641.4 469.0,2641.4 471.0,2641.3 473.0,2641.3 475.0,2641.3 477.0,2641.3 479.0,2641.3 481.0,2641.3 483.0,2641.3 485.0,2641.3 487.0,2641.3 489.0,2641.3 491.0,2641.2 493.0,2641.2 495.0,2641.2 497.0,2641.2 499.0,2641.2 501.0,2641.2 503.0,2641.2 505.0,2641.2 507.0,2641.2 509.0,2641.1 511.0,2641.1 513.0,2641.1 515.0,2641.1 517.0,2641.1 519.0,2641.1 521.0,2641.1 523.0,2641.0 525.0,2641.0 527.0,2641.0 529.0,2641.0 531.0,2641.0 533.0,2641.0 535.0,2641.0 537.0,2640.9 539.0,2640.9 541.0,2640.9 543.0,2640.9 545.0,2640.8 547.0,2640.8 549.0,2640.8 551.0,2640.8 553.0,2640.7 555.0,2640.7 557.0,2640.7 559.0,2640.7 561.0,2640.6 563.0,2640.6 565.0,2640.6 567.0,2640.5 569.0,2640.5 571.0,2640.5 573.0,2640.5 575.0,2640.4 577.0,2640.4 579.0,2640.4 581.0,2640.3 583.0,2640.3 585.0,2640.2 587.0,2640.2 589.0,2640.1 591.0,2640.1 593.0,2640.0 595.0,2640.0 597.0,2639.9 599.0,2639.9 601.0,2639.8 603.0,2639.8 605.0,2639.7 607.0,2639.7 609.0,2639.6 611.0,2639.6 613.0,2639.5 615.0,2639.5 617.0,2639.4 619.0,2639.3 621.0,2639.2 623.0,2639.0 625.0,2638.8 627.0,2638.6 629.0,2638.2 631.0,2637.6 633.0,2636.8 635.0,2635.8 637.0,2634.8 639.0,2633.7 641.0,2632.5 643.0,2631.0 645.0,2629.0 647.0,2626.5 649.0,2623.7 651.0,2621.0 653.0,2618.4 655.0,2615.8 657.0,2613.3 659.0,2611.0 661.0,2609.3 663.0,2608.4 665.0,2608.0 667.0,2607.8 669.0,2607.8 671.0,2608.2 673.0,2608.8 675.0,2609.4 677.0,2609.9 679.0,2610.3 681.0,2610.6 683.0,2610.8 685.0,2611.0 687.0,2611.1 689.0,2611.1 691.0,2611.0 693.0,2611.0 695.0,2611.0 697.0,2611.1 699.0,2611.4 701.0,2611.7 703.0,2612.3 705.0,2613.0 707.0,2614.0 709.0,2615.3 711.0,2616.6 713.0,2617.9 715.0,2619.0 717.0,2620.0 719.0,2620.9 721.0,2621.8 723.0,2622.7 725.0,2623.5 727.0,2624.3 729.0,2625.1 731.0,2625.8 733.0,2626.5 735.0,2627.2 737.0,2627.8 739.0,2628.4 741.0,2629.0 743.0,2629.5 745.0,2630.0 747.0,2630.5 749.0,2630.8 751.0,2631.2 753.0,2631.5 755.0,2631.7 757.0,2632.0 759.0,2632.3 761.0,2632.5 763.0,2632.8 765.0,2633.0 767.0,2633.2 769.0,2633.4 771.0,2633.7 773.0,2633.9 775.0,2634.0 777.0,2634.2 779.0,2634.4 781.0,2634.6 783.0,2634.7 785.0,2634.8 787.0,2634.8 789.0,2634.7 791.0,2634.7 793.0,2634.6 795.0,2634.5 797.0,2634.3 799.0,2634.1 801.0,2633.7 803.0,2633.2 805.0,2632.5 807.0,2631.7 809.0,2630.7 811.0,2629.7 813.0,2628.7 815.0,2627.6 817.0,2626.5 819.0,2625.5 821.0,2625.0 823.0,2624.9 825.0,2625.0 827.0,2625.2 829.0,2625.6 831.0,2626.0 833.0,2625.9 835.0,2625.3 837.0,2624.3 839.0,2623.0 841.0,2621.4 843.0,2619.6 845.0,2618.0 847.0,2617.1 849.0,2616.8 851.0,2617.3 853.0,2618.2 855.0,2619.5 857.0,2621.1 859.0,2622.9 861.0,2624.5 863.0,2626.1 865.0,2627.6 867.0,2629.0 869.0,2630.3 871.0,2631.3 873.0,2631.9 875.0,2632.3 877.0,2632.7 879.0,2632.9 881.0,2633.0 883.0,2633.1 885.0,2633.0 887.0,2632.8 889.0,2632.5 891.0,2632.1 893.0,2631.6 895.0,2631.0 897.0,2630.2 899.0,2629.3 901.0,2628.2 903.0,2626.9 905.0,2625.5 907.0,2623.9 909.0,2622.3 911.0,2620.5 913.0,2618.6 915.0,2616.5 917.0,2614.3 919.0,2612.1 921.0,2609.9 923.0,2607.6 925.0,2605.4 927.0,2603.1 929.0,2600.8 931.0,2598.5 933.0,2596.6 935.0,2595.3 937.0,2594.3 939.0,2593.3 941.0,2592.7 943.0,2592.5 945.0,2592.7 947.0,2593.4 949.0,2595.0 951.0,2597.1 953.0,2599.3 955.0,2601.5 957.0,2603.8 959.0,2606.1 961.0,2608.3 963.0,2610.5 965.0,2612.4 967.0,2613.9 969.0,2615.0 971.0,2615.9 973.0,2616.8 975.0,2617.4 977.0,2617.9 979.0,2618.2 981.0,2618.6 983.0,2618.9 985.0,2619.2 987.0,2619.5 989.0,2619.8 991.0,2620.2 993.0,2620.5 995.0,2620.8 997.0,2621.1 999.0,2621.4 1001.0,2621.6 1003.0,2621.8 1005.0,2621.8 1007.0,2621.8 1009.0,2621.6 1011.0,2621.3 1013.0,2620.9 1015.0,2620.2 1017.0,2619.3 1019.0,2618.4 1021.0,2617.5 1023.0,2616.9 1025.0,2616.4 1027.0,2616.0 1029.0,2615.6 1031.0,2615.4 1033.0,2615.5 1035.0,2615.7 1037.0,2615.8 1039.0,2615.5 1041.0,2614.8 1043.0,2613.9 1045.0,2612.9 1047.0,2611.8 1049.0,2610.6 1051.0,2609.4 1053.0,2608.2 1055.0,2607.0 1057.0,2606.0 1059.0,2605.2 1061.0,2604.5 1063.0,2603.8 1065.0,2603.5 1067.0,2603.4 1069.0,2603.9 1071.0,2604.9 1073.0,2606.4 1075.0,2608.3 1077.0,2610.1 1079.0,2611.9 1081.0,2613.7 1083.0,2615.3 1085.0,2616.8 1087.0,2618.0 1089.0,2618.6 1091.0,2618.6 1093.0,2618.5 1095.0,2618.5 1097.0,2618.5 1099.0,2618.1 1101.0,2617.0 1103.0,2615.4 1105.0,2613.7 1107.0,2612.0 1109.0,2610.3 1111.0,2608.6 1113.0,2606.9 1115.0,2605.6 1117.0,2605.3 1119.0,2605.8 1121.0,2606.5 1123.0,2607.5 1125.0,2608.8 1127.0,2610.1 1129.0,2611.4 1131.0,2612.5 1133.0,2613.5 1135.0,2614.5 1137.0,2615.3 1139.0,2616.2 1141.0,2617.0 1143.0,2617.7 1145.0,2618.3 1147.0,2618.9 1149.0,2619.3 1151.0,2619.3 1153.0,2618.9 1155.0,2618.4 1157.0,2617.5 1159.0,2616.2 1161.0,2614.5 1163.0,2612.4 1165.0,2609.6 1167.0,2606.5 1169.0,2604.0 1171.0,2602.3 1173.0,2601.6 1175.0,2601.7 1177.0,2603.1 1179.0,2606.2 1181.0,2609.8 1183.0,2613.3 1185.0,2616.7 1187.0,2620.0 1189.0,2623.0 1191.0,2625.1 1193.0,2626.0 1195.0,2626.0 1197.0,2625.7 1199.0,2625.3 1201.0,2624.9 1203.0,2624.4 1205.0,2623.7 1207.0,2622.9 1209.0,2622.1 1211.0,2621.6 1213.0,2621.5 1215.0,2621.5 1217.0,2621.5 1219.0,2621.5 1221.0,2621.5 1223.0,2621.5 1225.0,2621.5 1227.0,2621.5 1229.0,2621.5 1231.0,2621.5 1233.0,2621.5 1235.0,2621.5 1237.0,2621.5 1239.0,2621.5 1241.0,2621.5 1243.0,2621.5 1245.0,2621.5 1247.0,2621.5 1249.0,2621.4 1251.0,2621.4 1253.0,2621.3 1255.0,2621.3 1257.0,2621.2 1259.0,2621.1 1261.0,2620.9 1263.0,2620.7 1265.0,2620.5 1267.0,2620.2 1269.0,2620.0 1271.0,2619.7 1273.0,2619.4 1275.0,2619.1 1277.0,2618.8 1279.0,2618.5 1281.0,2618.2 1283.0,2618.0 1285.0,2618.1 1287.0,2618.5 1289.0,2618.9 1291.0,2619.1 1293.0,2619.1 1295.0,2619.1 1297.0,2618.7 1299.0,2617.9 1301.0,2616.9 1303.0,2615.9 1305.0,2615.0 1307.0,2614.2 1309.0,2613.4 1311.0,2612.6 1313.0,2611.8 1315.0,2610.3 1317.0,2608.1 1319.0,2605.1 1321.0,2598.8 1323.0,2587.9 1325.0,2574.5 1327.0,2560.1 1329.0,2544.6 1331.0,2532.0 1333.0,2525.8 1335.0,2522.7 1337.0,2522.8 1339.0,2526.0 1341.0,2535.2 1343.0,2545.0 1345.0,2555.0 1347.0,2565.0 1349.0,2573.1 1351.0,2579.0 1353.0,2583.6 1355.0,2586.7 1357.0,2588.0 1359.0,2588.5 1361.0,2588.0 1363.0,2586.8 1365.0,2585.5 1367.0,2584.0 1369.0,2582.0 1371.0,2580.0 1373.0,2577.9 1375.0,2576.0 1377.0,2574.3 1379.0,2572.8 1381.0,2571.5 1383.0,2570.6 1385.0,2570.2 1387.0,2570.0 1389.0,2570.0 1391.0,2571.4 1393.0,2574.4 1395.0,2578.1 1397.0,2582.0 1399.0,2586.1 1401.0,2590.0 1403.0,2593.3 1405.0,2596.0 1407.0,2598.1 1409.0,2599.6 1411.0,2600.9 1413.0,2602.1 1415.0,2603.0 1417.0,2603.9 1419.0,2604.7 1421.0,2605.4 1423.0,2606.0 1425.0,2606.5 1427.0,2606.7 1429.0,2606.8 1431.0,2606.6 1433.0,2606.4 1435.0,2605.8 1437.0,2605.1 1439.0,2604.6 1441.0,2604.6 1443.0,2605.1 1445.0,2605.8 1447.0,2606.4 1449.0,2606.7 1451.0,2607.0 1453.0,2607.1 1455.0,2607.0 1457.0,2606.7 1459.0,2606.3 1461.0,2605.7 1463.0,2604.9 1465.0,2604.0 1467.0,2603.0 1469.0,2601.9 1471.0,2600.9 1473.0,2599.7 1475.0,2598.5 1477.0,2597.2 1479.0,2595.9 1481.0,2594.5 1483.0,2593.2 1485.0,2592.0 1487.0,2590.9 1489.0,2589.8 1491.0,2588.7 1493.0,2587.6 1495.0,2586.5 1497.0,2585.4 1499.0,2584.2 1501.0,2583.0 1503.0,2581.8 1505.0,2580.5 1507.0,2579.0 1509.0,2577.3 1511.0,2575.3 1513.0,2573.2 1515.0,2571.0 1517.0,2568.7 1519.0,2566.3 1521.0,2563.8 1523.0,2561.2 1525.0,2558.5 1527.0,2555.7 1529.0,2552.6 1531.0,2549.3 1533.0,2545.5 1535.0,2541.4 1537.0,2537.0 1539.0,2532.4 1541.0,2527.6 1543.0,2522.6 1545.0,2517.6 1547.0,2512.7 1549.0,2507.9 1551.0,2503.2 1553.0,2498.5 1555.0,2494.0 1557.0,2489.7 1559.0,2485.9 1561.0,2482.4 1563.0,2479.2 1565.0,2476.5 1567.0,2474.0 1569.0,2471.9 1571.0,2470.1 1573.0,2468.4 1575.0,2467.0 1577.0,2465.8 1579.0,2464.8 1581.0,2464.0 1583.0,2463.4 1585.0,2463.0 1587.0,2462.7 1589.0,2462.5 1591.0,2462.5 1593.0,2462.5 1595.0,2462.7 1597.0,2462.9 1599.0,2463.2 1601.0,2463.8 1603.0,2464.4 1605.0,2465.1 1607.0,2465.9 1609.0,2466.6 1611.0,2467.4 1613.0,2468.1 1615.0,2468.8 1617.0,2469.7 1619.0,2470.8 1621.0,2472.3 1623.0,2474.0 1625.0,2475.8 1627.0,2477.7 1629.0,2479.6 1631.0,2481.4 1633.0,2483.3 1635.0,2485.3 1637.0,2487.2 1639.0,2489.1 1641.0,2490.9 1643.0,2492.5 1645.0,2493.9 1647.0,2495.2 1649.0,2496.2 1651.0,2496.8 1653.0,2497.0 1655.0,2497.0 1657.0,2496.8 1659.0,2496.2 1661.0,2495.2 1663.0,2494.0 1665.0,2492.5 1667.0,2490.9 1669.0,2489.1 1671.0,2487.1 1673.0,2485.0 1675.0,2483.0 1677.0,2481.2 1679.0,2479.7 1681.0,2478.5 1683.0,2477.7 1685.0,2478.3 1687.0,2480.0 1689.0,2482.6 1691.0,2486.5 1693.0,2491.7 1695.0,2497.5 1697.0,2504.0 1699.0,2510.9 1701.0,2517.9 1703.0,2525.0 1705.0,2532.3 1707.0,2539.7 1709.0,2547.1 1711.0,2554.3 1713.0,2561.0 1715.0,2567.1 1717.0,2572.5 1719.0,2577.2 1721.0,2581.1 1723.0,2584.5 1725.0,2587.5 1727.0,2590.3 1729.0,2592.9 1731.0,2595.1 1733.0,2596.8 1735.0,2598.5 1737.0,2600.0 1739.0,2601.2 1741.0,2602.2 1743.0,2603.1 1745.0,2604.0 1747.0,2604.9 1749.0,2605.8 1751.0,2606.7 1753.0,2607.6 1755.0,2608.5 1757.0,2609.4 1759.0,2610.3 1761.0,2611.2 1763.0,2612.0 1765.0,2612.7 1767.0,2613.2 1769.0,2613.7 1771.0,2614.0 1773.0,2614.0 1775.0,2614.0 1777.0,2613.7 1779.0,2613.2 1781.0,2612.2 1783.0,2610.9 1785.0,2609.4 1787.0,2608.0 1789.0,2606.9 1791.0,2605.8 1793.0,2604.9 1795.0,2604.2 1797.0,2603.7 1799.0,2603.3 1801.0,2603.1 1803.0,2603.0 1805.0,2602.9 1807.0,2602.9 1809.0,2603.0 1811.0,2603.3 1813.0,2603.8 1815.0,2604.4 1817.0,2605.0 1819.0,2605.6 1821.0,2606.1 1823.0,2606.7 1825.0,2607.2 1827.0,2607.8 1829.0,2608.2 1831.0,2608.1 1833.0,2607.7 1835.0,2607.4 1837.0,2607.3 1839.0,2607.8 1841.0,2608.5 1843.0,2609.2 1845.0,2609.8 1847.0,2610.4 1849.0,2611.0 1851.0,2611.5 1853.0,2612.0 1855.0,2612.4 1857.0,2612.5 1859.0,2612.3 1861.0,2611.9 1863.0,2611.0 1865.0,2609.6 1867.0,2608.0 1869.0,2606.0 1871.0,2603.9 1873.0,2601.7 1875.0,2599.6 1877.0,2597.2 1879.0,2594.6 1881.0,2592.0 1883.0,2590.0 1885.0,2588.8 1887.0,2588.3 1889.0,2588.1 1891.0,2587.9 1893.0,2587.7 1895.0,2587.5 1897.0,2587.5 1899.0,2587.6 1901.0,2588.0 1903.0,2588.6 1905.0,2589.3 1907.0,2590.2 1909.0,2591.3 1911.0,2592.5 1913.0,2593.5 1915.0,2594.0 1917.0,2593.6 1919.0,2592.0 1921.0,2589.2 1923.0,2586.1 1925.0,2584.1 1927.0,2582.3 1929.0,2581.0 1931.0,2580.4 1933.0,2580.5 1935.0,2580.8 1937.0,2581.0 1939.0,2580.9 1941.0,2580.7 1943.0,2580.3 1945.0,2579.6 1947.0,2577.7 1949.0,2574.0 1951.0,2567.8 1953.0,2560.0 1955.0,2551.1 1957.0,2542.5 1959.0,2535.8 1961.0,2530.8 1963.0,2527.5 1965.0,2524.5 1967.0,2521.5 1969.0,2518.5 1971.0,2515.5 1973.0,2512.5 1975.0,2509.3 1977.0,2505.1 1979.0,2500.6 1981.0,2496.6 1983.0,2493.1 1985.0,2490.1 1987.0,2487.5 1989.0,2485.6 1991.0,2484.3 1993.0,2483.5 1995.0,2483.2 1997.0,2483.6 1999.0,2484.6 2001.0,2486.8 2003.0,2491.0 2005.0,2497.3 2007.0,2505.0 2009.0,2513.9 2011.0,2522.5 2013.0,2530.1 2015.0,2537.2 2017.0,2544.1 2019.0,2550.5 2021.0,2556.4 2023.0,2561.1 2025.0,2564.4 2027.0,2566.3 2029.0,2567.2 2031.0,2568.1 2033.0,2570.0 2035.0,2572.8 2037.0,2575.7 2039.0,2578.5 2041.0,2581.3 2043.0,2584.1 2045.0,2586.8 2047.0,2589.2 2049.0,2590.5 2051.0,2591.3 2053.0,2591.8 2055.0,2591.5 2057.0,2591.6 2059.0,2592.7 2061.0,2594.7 2063.0,2596.7 2065.0,2598.2 2067.0,2599.6 2069.0,2600.9 2071.0,2602.1 2073.0,2603.0 2075.0,2603.7 2077.0,2604.4 2079.0,2605.0 2081.0,2605.5 2083.0,2606.0 2085.0,2606.5 2087.0,2607.0 2089.0,2607.3 2091.0,2607.5 2093.0,2607.6 2095.0,2607.6 2097.0,2607.6 2099.0,2607.5 2101.0,2607.5 2103.0,2607.4 2105.0,2607.3 2107.0,2607.1 2109.0,2606.8 2111.0,2605.8 2113.0,2604.4 2115.0,2602.9 2117.0,2601.2 2119.0,2599.2 2121.0,2597.3 2123.0,2595.8 2125.0,2594.7 2127.0,2594.1 2129.0,2594.0 2131.0,2594.3 2133.0,2594.7 2135.0,2595.0 2137.0,2595.0 2139.0,2594.9 2141.0,2594.8 2143.0,2594.7 2145.0,2594.5 2147.0,2594.2 2149.0,2593.6 2151.0,2593.0 2153.0,2593.0 2155.0,2593.4 2157.0,2593.8 2159.0,2594.2 2161.0,2594.6 2163.0,2595.0 2165.0,2595.4 2167.0,2595.8 2169.0,2596.2 2171.0,2596.6 2173.0,2596.4 2175.0,2595.7 2177.0,2593.8 2179.0,2591.5 2181.0,2592.8 2183.0,2594.5 2185.0,2594.4 2187.0,2593.9 2189.0,2594.2 2191.0,2596.1 2193.0,2598.9 2195.0,2600.9 2197.0,2602.6 2199.0,2604.0 2201.0,2605.0 2203.0,2605.6 2205.0,2606.0 2205.5,2606.0" fill="none" stroke="#0000ff" stroke-width="5.2" stroke-linejoin="round" stroke-linecap="butt"/>
<polyline points="281.0,2442.5 283.0,2442.5 285.0,2442.5 287.0,2442.5 289.0,2442.5 291.0,2442.5 293.0,2442.5 295.0,2442.5 297.0,2442.4 299.0,2442.4 301.0,2442.4 303.0,2442.4 305.0,2442.4 307.0,2442.4 309.0,2442.4 311.0,2442.4 313.0,2442.4 315.0,2442.4 317.0,2442.4 319.0,2442.4 321.0,2442.4 323.0,2442.4 325.0,2442.3 327.0,2442.3 329.0,2442.3 331.0,2442.3 333.0,2442.3 335.0,2442.3 337.0,2442.3 339.0,2442.3 341.0,2442.3 343.0,2442.3 345.0,2442.3 347.0,2442.3 349.0,2442.3 351.0,2442.3 353.0,2442.2 355.0,2442.2 357.0,2442.2 359.0,2442.2 361.0,2442.2 363.0,2442.2 365.0,2442.2 367.0,2442.2 369.0,2442.2 371.0,2442.2 373.0,2442.2 375.0,2442.2 377.0,2442.2 379.0,2442.1 381.0,2442.1 383.0,2442.1 385.0,2442.1 387.0,2442.1 389.0,2442.1 391.0,2442.1 393.0,2442.1 395.0,2442.1 397.0,2442.1 399.0,2442.1 401.0,2442.1 403.0,2442.1 405.0,2442.1 407.0,2442.0 409.0,2442.0 411.0,2442.0 413.0,2442.0 415.0,2442.0 417.0,2442.0 419.0,2442.0 421.0,2442.0 423.0,2442.0 425.0,2442.0 427.0,2442.0 429.0,2442.0 431.0,2442.0 433.0,2442.0 435.0,2441.9 437.0,2441.9 439.0,2441.9 441.0,2441.9 443.0,2441.9 445.0,2441.9 447.0,2441.9 449.0,2441.9 451.0,2441.9 453.0,2441.9 455.0,2441.9 457.0,2441.9 459.0,2441.9 461.0,2441.8 463.0,2441.8 465.0,2441.8 467.0,2441.8 469.0,2441.8 471.0,2441.8 473.0,2441.8 475.0,2441.8 477.0,2441.8 479.0,2441.8 481.0,2441.8 483.0,2441.8 485.0,2441.8 487.0,2441.8 489.0,2441.7 491.0,2441.7 493.0,2441.7 495.0,2441.7 497.0,2441.7 499.0,2441.7 501.0,2441.7 503.0,2441.7 505.0,2441.7 507.0,2441.7 509.0,2441.7 511.0,2441.7 513.0,2441.6 515.0,2441.6 517.0,2441.6 519.0,2441.6 521.0,2441.6 523.0,2441.6 525.0,2441.6 527.0,2441.6 529.0,2441.6 531.0,2441.6 533.0,2441.6 535.0,2441.6 537.0,2441.6 539.0,2441.5 541.0,2441.5 543.0,2441.5 545.0,2441.5 547.0,2441.5 549.0,2441.5 551.0,2441.5 553.0,2441.5 555.0,2441.5 557.0,2441.5 559.0,2441.4 561.0,2441.4 563.0,2441.4 565.0,2441.4 567.0,2441.3 569.0,2441.3 571.0,2441.3 573.0,2441.2 575.0,2441.2 577.0,2441.2 579.0,2441.2 581.0,2441.1 583.0,2441.1 585.0,2441.1 587.0,2441.0 589.0,2441.0 591.0,2441.0 593.0,2441.0 595.0,2440.9 597.0,2440.9 599.0,2440.9 601.0,2440.8 603.0,2440.8 605.0,2440.7 607.0,2440.7 609.0,2440.6 611.0,2440.6 613.0,2440.5 615.0,2440.5 617.0,2440.4 619.0,2440.2 621.0,2439.8 623.0,2439.5 625.0,2439.0 627.0,2438.6 629.0,2438.1 631.0,2437.5 633.0,2436.6 635.0,2435.6 637.0,2434.3 639.0,2432.9 641.0,2431.1 643.0,2428.9 645.0,2426.5 647.0,2423.9 649.0,2421.2 651.0,2418.5 653.0,2415.8 655.0,2413.0 657.0,2410.2 659.0,2407.5 661.0,2405.6 663.0,2404.8 665.0,2404.5 667.0,2404.3 669.0,2404.3 671.0,2404.7 673.0,2405.3 675.0,2405.9 677.0,2406.4 679.0,2406.8 681.0,2407.1 683.0,2407.3 685.0,2407.5 687.0,2407.5 689.0,2407.4 691.0,2407.2 693.0,2407.0 695.0,2407.0 697.0,2407.2 699.0,2407.4 701.0,2407.9 703.0,2408.6 705.0,2409.5 707.0,2410.7 709.0,2412.0 711.0,2413.4 713.0,2414.8 715.0,2416.0 717.0,2417.1 719.0,2418.1 721.0,2419.1 723.0,2420.1 725.0,2421.0 727.0,2421.9 729.0,2422.7 731.0,2423.5 733.0,2424.3 735.0,2425.1 737.0,2425.8 739.0,2426.5 741.0,2427.2 743.0,2427.8 745.0,2428.4 747.0,2428.9 749.0,2429.3 751.0,2429.7 753.0,2430.0 755.0,2430.3 757.0,2430.5 759.0,2430.8 761.0,2431.0 763.0,2431.3 765.0,2431.5 767.0,2431.7 769.0,2431.9 771.0,2432.1 773.0,2432.4 775.0,2432.5 777.0,2432.7 779.0,2432.9 781.0,2433.1 783.0,2433.2 785.0,2433.3 787.0,2433.3 789.0,2433.2 791.0,2433.2 793.0,2433.1 795.0,2433.0 797.0,2432.9 799.0,2432.7 801.0,2432.3 803.0,2431.8 805.0,2431.0 807.0,2430.1 809.0,2429.1 811.0,2428.2 813.0,2427.3 815.0,2426.3 817.0,2425.4 819.0,2424.5 821.0,2423.9 823.0,2423.9 825.0,2424.0 827.0,2424.4 829.0,2425.1 831.0,2425.5 833.0,2425.2 835.0,2424.4 837.0,2423.3 839.0,2421.9 841.0,2420.0 843.0,2418.3 845.0,2416.9 847.0,2415.9 849.0,2415.5 851.0,2415.8 853.0,2416.8 855.0,2418.4 857.0,2420.3 859.0,2422.1 861.0,2423.8 863.0,2425.4 865.0,2426.8 867.0,2428.2 869.0,2429.4 871.0,2430.3 873.0,2431.0 875.0,2431.5 877.0,2431.8 879.0,2431.9 881.0,2432.0 883.0,2432.0 885.0,2432.0 887.0,2431.8 889.0,2431.6 891.0,2431.3 893.0,2430.9 895.0,2430.2 897.0,2429.2 899.0,2428.0 901.0,2426.6 903.0,2425.1 905.0,2423.5 907.0,2421.8 909.0,2420.0 911.0,2418.0 913.0,2416.0 915.0,2413.8 917.0,2411.7 919.0,2409.4 921.0,2407.2 923.0,2404.9 925.0,2402.5 927.0,2400.1 929.0,2397.7 931.0,2395.4 933.0,2393.5 935.0,2391.8 937.0,2390.4 939.0,2389.1 941.0,2388.3 943.0,2388.0 945.0,2388.1 947.0,2388.8 949.0,2390.5 951.0,2392.8 953.0,2395.1 955.0,2397.5 957.0,2399.9 959.0,2402.3 961.0,2404.7 963.0,2407.1 965.0,2409.3 967.0,2411.3 969.0,2412.9 971.0,2414.0 973.0,2414.9 975.0,2415.5 977.0,2415.9 979.0,2416.2 981.0,2416.6 983.0,2416.9 985.0,2417.2 987.0,2417.5 989.0,2417.8 991.0,2418.2 993.0,2418.6 995.0,2419.0 997.0,2419.4 999.0,2419.8 1001.0,2420.1 1003.0,2420.3 1005.0,2420.4 1007.0,2420.3 1009.0,2420.1 1011.0,2419.8 1013.0,2419.5 1015.0,2419.1 1017.0,2418.7 1019.0,2418.2 1021.0,2417.8 1023.0,2417.2 1025.0,2416.6 1027.0,2416.1 1029.0,2415.8 1031.0,2415.8 1033.0,2416.1 1035.0,2416.2 1037.0,2416.1 1039.0,2415.6 1041.0,2415.0 1043.0,2414.2 1045.0,2413.3 1047.0,2412.3 1049.0,2411.1 1051.0,2409.9 1053.0,2408.7 1055.0,2407.5 1057.0,2406.4 1059.0,2405.5 1061.0,2404.6 1063.0,2403.8 1065.0,2403.4 1067.0,2403.4 1069.0,2403.9 1071.0,2404.8 1073.0,2406.5 1075.0,2408.5 1077.0,2410.5 1079.0,2412.4 1081.0,2414.2 1083.0,2415.9 1085.0,2417.5 1087.0,2418.7 1089.0,2419.4 1091.0,2419.8 1093.0,2420.0 1095.0,2420.1 1097.0,2419.8 1099.0,2419.1 1101.0,2417.8 1103.0,2416.2 1105.0,2414.4 1107.0,2412.5 1109.0,2410.5 1111.0,2408.4 1113.0,2406.6 1115.0,2405.2 1117.0,2404.6 1119.0,2404.6 1121.0,2405.2 1123.0,2406.3 1125.0,2407.9 1127.0,2409.6 1129.0,2411.0 1131.0,2412.1 1133.0,2413.0 1135.0,2414.0 1137.0,2414.8 1139.0,2415.6 1141.0,2416.3 1143.0,2416.9 1145.0,2417.4 1147.0,2417.9 1149.0,2418.2 1151.0,2418.2 1153.0,2417.9 1155.0,2417.3 1157.0,2416.6 1159.0,2415.3 1161.0,2413.5 1163.0,2411.4 1165.0,2408.4 1167.0,2405.0 1169.0,2402.5 1171.0,2401.2 1173.0,2400.9 1175.0,2401.5 1177.0,2403.1 1179.0,2406.3 1181.0,2410.2 1183.0,2413.9 1185.0,2417.2 1187.0,2420.3 1189.0,2423.0 1191.0,2424.9 1193.0,2425.9 1195.0,2426.0 1197.0,2425.6 1199.0,2425.0 1201.0,2424.5 1203.0,2423.8 1205.0,2423.0 1207.0,2422.2 1209.0,2421.4 1211.0,2420.8 1213.0,2420.5 1215.0,2420.4 1217.0,2420.3 1219.0,2420.4 1221.0,2420.5 1223.0,2420.5 1225.0,2420.5 1227.0,2420.4 1229.0,2420.4 1231.0,2420.3 1233.0,2420.2 1235.0,2420.2 1237.0,2420.1 1239.0,2420.0 1241.0,2420.0 1243.0,2419.9 1245.0,2419.8 1247.0,2419.7 1249.0,2419.7 1251.0,2419.6 1253.0,2419.5 1255.0,2419.4 1257.0,2419.2 1259.0,2419.1 1261.0,2418.9 1263.0,2418.7 1265.0,2418.5 1267.0,2418.2 1269.0,2417.9 1271.0,2417.7 1273.0,2417.4 1275.0,2417.2 1277.0,2417.0 1279.0,2416.8 1281.0,2416.6 1283.0,2416.5 1285.0,2416.8 1287.0,2417.4 1289.0,2417.9 1291.0,2418.1 1293.0,2418.1 1295.0,2417.9 1297.0,2417.2 1299.0,2416.2 1301.0,2415.1 1303.0,2414.1 1305.0,2413.0 1307.0,2411.9 1309.0,2410.9 1311.0,2409.8 1313.0,2408.7 1315.0,2407.1 1317.0,2404.7 1319.0,2401.5 1321.0,2394.0 1323.0,2381.5 1325.0,2367.3 1327.0,2352.5 1329.0,2337.2 1331.0,2324.4 1333.0,2319.0 1335.0,2316.4 1337.0,2316.1 1339.0,2318.9 1341.0,2328.6 1343.0,2339.0 1345.0,2349.5 1347.0,2360.0 1349.0,2368.2 1351.0,2374.0 1353.0,2378.8 1355.0,2382.1 1357.0,2383.5 1359.0,2383.7 1361.0,2383.0 1363.0,2381.7 1365.0,2380.2 1367.0,2378.5 1369.0,2376.4 1371.0,2374.3 1373.0,2372.1 1375.0,2370.0 1377.0,2368.0 1379.0,2366.2 1381.0,2364.5 1383.0,2363.3 1385.0,2362.7 1387.0,2362.4 1389.0,2362.6 1391.0,2363.9 1393.0,2366.7 1395.0,2370.5 1397.0,2374.6 1399.0,2379.2 1401.0,2383.5 1403.0,2387.2 1405.0,2390.3 1407.0,2392.6 1409.0,2394.1 1411.0,2395.4 1413.0,2396.6 1415.0,2397.5 1417.0,2398.3 1419.0,2399.1 1421.0,2399.9 1423.0,2400.7 1425.0,2401.5 1427.0,2402.2 1429.0,2402.9 1431.0,2403.6 1433.0,2404.1 1435.0,2403.7 1437.0,2402.7 1439.0,2402.0 1441.0,2402.2 1443.0,2402.8 1445.0,2403.4 1447.0,2403.9 1449.0,2404.3 1451.0,2404.6 1453.0,2404.9 1455.0,2405.0 1457.0,2404.9 1459.0,2404.6 1461.0,2404.1 1463.0,2403.4 1465.0,2402.5 1467.0,2401.5 1469.0,2400.3 1471.0,2399.1 1473.0,2397.8 1475.0,2396.5 1477.0,2395.0 1479.0,2393.4 1481.0,2391.8 1483.0,2390.3 1485.0,2389.0 1487.0,2387.9 1489.0,2386.9 1491.0,2386.0 1493.0,2385.0 1495.0,2384.0 1497.0,2382.9 1499.0,2381.8 1501.0,2380.6 1503.0,2379.3 1505.0,2378.0 1507.0,2376.4 1509.0,2374.6 1511.0,2372.5 1513.0,2370.3 1515.0,2368.0 1517.0,2365.6 1519.0,2363.1 1521.0,2360.5 1523.0,2357.8 1525.0,2355.0 1527.0,2352.1 1529.0,2349.0 1531.0,2345.5 1533.0,2341.4 1535.0,2336.9 1537.0,2332.3 1539.0,2327.4 1541.0,2322.5 1543.0,2317.6 1545.0,2312.7 1547.0,2307.7 1549.0,2302.8 1551.0,2298.0 1553.0,2293.2 1555.0,2288.5 1557.0,2284.2 1559.0,2280.5 1561.0,2277.2 1563.0,2274.3 1565.0,2271.6 1567.0,2269.1 1569.0,2267.0 1571.0,2265.1 1573.0,2263.4 1575.0,2261.9 1577.0,2260.7 1579.0,2259.9 1581.0,2259.1 1583.0,2258.5 1585.0,2258.0 1587.0,2257.6 1589.0,2257.3 1591.0,2257.0 1593.0,2257.0 1595.0,2257.1 1597.0,2257.4 1599.0,2257.8 1601.0,2258.3 1603.0,2258.8 1605.0,2259.4 1607.0,2260.0 1609.0,2260.7 1611.0,2261.3 1613.0,2261.9 1615.0,2262.5 1617.0,2263.3 1619.0,2264.3 1621.0,2265.8 1623.0,2267.5 1625.0,2269.3 1627.0,2271.2 1629.0,2273.1 1631.0,2274.9 1633.0,2276.6 1635.0,2278.3 1637.0,2280.0 1639.0,2281.7 1641.0,2283.3 1643.0,2284.5 1645.0,2285.5 1647.0,2286.3 1649.0,2287.0 1651.0,2287.4 1653.0,2287.5 1655.0,2287.4 1657.0,2287.2 1659.0,2286.6 1661.0,2285.8 1663.0,2284.6 1665.0,2283.3 1667.0,2281.8 1669.0,2280.1 1671.0,2278.3 1673.0,2276.3 1675.0,2274.4 1677.0,2272.8 1679.0,2271.5 1681.0,2270.4 1683.0,2269.8 1685.0,2270.6 1687.0,2272.5 1689.0,2275.2 1691.0,2279.4 1693.0,2286.0 1695.0,2293.0 1697.0,2300.0 1699.0,2307.0 1701.0,2314.0 1703.0,2321.0 1705.0,2328.0 1707.0,2335.1 1709.0,2342.2 1711.0,2349.3 1713.0,2356.0 1715.0,2362.4 1717.0,2368.5 1719.0,2373.8 1721.0,2378.2 1723.0,2381.9 1725.0,2385.0 1727.0,2388.0 1729.0,2390.6 1731.0,2393.0 1733.0,2395.0 1735.0,2396.9 1737.0,2398.7 1739.0,2400.2 1741.0,2401.2 1743.0,2402.0 1745.0,2402.8 1747.0,2403.6 1749.0,2404.4 1751.0,2405.2 1753.0,2406.1 1755.0,2407.0 1757.0,2407.9 1759.0,2408.8 1761.0,2409.7 1763.0,2410.7 1765.0,2411.6 1767.0,2412.5 1769.0,2413.4 1771.0,2413.6 1773.0,2413.6 1775.0,2413.4 1777.0,2413.0 1779.0,2412.3 1781.0,2411.2 1783.0,2409.5 1785.0,2407.6 1787.0,2406.0 1789.0,2404.7 1791.0,2403.5 1793.0,2402.4 1795.0,2401.6 1797.0,2400.9 1799.0,2400.4 1801.0,2400.1 1803.0,2400.0 1805.0,2400.0 1807.0,2400.1 1809.0,2400.4 1811.0,2400.7 1813.0,2401.3 1815.0,2401.9 1817.0,2402.5 1819.0,2403.1 1821.0,2403.6 1823.0,2404.2 1825.0,2404.7 1827.0,2405.3 1829.0,2405.7 1831.0,2405.7 1833.0,2405.4 1835.0,2405.2 1837.0,2405.3 1839.0,2405.8 1841.0,2406.5 1843.0,2407.2 1845.0,2407.8 1847.0,2408.5 1849.0,2409.2 1851.0,2409.8 1853.0,2410.5 1855.0,2411.0 1857.0,2411.1 1859.0,2410.9 1861.0,2410.3 1863.0,2409.4 1865.0,2408.1 1867.0,2406.4 1869.0,2404.5 1871.0,2402.5 1873.0,2400.5 1875.0,2398.5 1877.0,2396.4 1879.0,2394.2 1881.0,2392.0 1883.0,2390.0 1885.0,2388.5 1887.0,2387.7 1889.0,2387.3 1891.0,2386.9 1893.0,2386.6 1895.0,2386.4 1897.0,2386.4 1899.0,2386.6 1901.0,2387.0 1903.0,2387.6 1905.0,2388.3 1907.0,2389.2 1909.0,2390.5 1911.0,2391.9 1913.0,2393.0 1915.0,2393.5 1917.0,2393.1 1919.0,2391.5 1921.0,2388.9 1923.0,2386.1 1925.0,2384.0 1927.0,2382.2 1929.0,2380.7 1931.0,2379.9 1933.0,2379.6 1935.0,2379.6 1937.0,2379.6 1939.0,2379.3 1941.0,2378.7 1943.0,2378.0 1945.0,2376.8 1947.0,2374.2 1949.0,2370.0 1951.0,2363.8 1953.0,2356.0 1955.0,2346.7 1957.0,2337.5 1959.0,2329.7 1961.0,2323.3 1963.0,2319.1 1965.0,2315.5 1967.0,2311.9 1969.0,2308.1 1971.0,2304.3 1973.0,2300.5 1975.0,2296.4 1977.0,2291.3 1979.0,2286.1 1981.0,2281.4 1983.0,2277.6 1985.0,2274.3 1987.0,2271.5 1989.0,2269.4 1991.0,2268.2 1993.0,2267.5 1995.0,2267.7 1997.0,2269.0 1999.0,2271.3 2001.0,2275.1 2003.0,2281.0 2005.0,2289.0 2007.0,2298.5 2009.0,2309.4 2011.0,2320.0 2013.0,2329.2 2015.0,2337.9 2017.0,2346.1 2019.0,2353.8 2021.0,2360.6 2023.0,2365.9 2025.0,2369.4 2027.0,2371.1 2029.0,2371.8 2031.0,2372.5 2033.0,2374.0 2035.0,2376.4 2037.0,2378.9 2039.0,2381.5 2041.0,2384.4 2043.0,2387.6 2045.0,2390.4 2047.0,2392.4 2049.0,2393.7 2051.0,2394.4 2053.0,2395.0 2055.0,2395.3 2057.0,2395.3 2059.0,2395.5 2061.0,2396.2 2063.0,2397.5 2065.0,2399.0 2067.0,2400.4 2069.0,2401.5 2071.0,2402.4 2073.0,2403.3 2075.0,2404.1 2077.0,2404.7 2079.0,2405.2 2081.0,2405.7 2083.0,2406.1 2085.0,2406.4 2087.0,2406.6 2089.0,2406.9 2091.0,2407.0 2093.0,2407.1 2095.0,2407.2 2097.0,2407.2 2099.0,2407.1 2101.0,2407.0 2103.0,2406.8 2105.0,2406.5 2107.0,2406.0 2109.0,2405.3 2111.0,2404.2 2113.0,2402.8 2115.0,2401.3 2117.0,2399.7 2119.0,2398.3 2121.0,2396.9 2123.0,2395.6 2125.0,2394.7 2127.0,2394.1 2129.0,2393.9 2131.0,2393.9 2133.0,2394.0 2135.0,2394.1 2137.0,2394.2 2139.0,2394.4 2141.0,2394.5 2143.0,2394.5 2145.0,2394.3 2147.0,2393.8 2149.0,2393.3 2151.0,2393.0 2153.0,2393.0 2155.0,2393.3 2157.0,2393.6 2159.0,2393.9 2161.0,2394.2 2163.0,2394.5 2165.0,2394.8 2167.0,2395.0 2169.0,2395.3 2171.0,2395.5 2173.0,2395.1 2175.0,2394.2 2177.0,2391.9 2179.0,2389.0 2181.0,2390.8 2183.0,2393.0 2185.0,2392.4 2187.0,2391.6 2189.0,2393.0 2191.0,2395.3 2193.0,2397.5 2195.0,2399.2 2197.0,2400.7 2199.0,2402.0 2201.0,2402.8 2203.0,2403.1 2205.0,2403.1 2205.5,2403.0" fill="none" stroke="#008080" stroke-width="5.2" stroke-linejoin="round" stroke-linecap="butt"/>
<polyline points="281.0,2236.5 283.0,2236.5 285.0,2236.5 287.0,2236.5 289.0,2236.5 291.0,2236.5 293.0,2236.5 295.0,2236.5 297.0,2236.5 299.0,2236.5 301.0,2236.5 303.0,2236.5 305.0,2236.5 307.0,2236.5 309.0,2236.5 311.0,2236.5 313.0,2236.5 315.0,2236.5 317.0,2236.5 319.0,2236.5 321.0,2236.5 323.0,2236.5 325.0,2236.6 327.0,2236.6 329.0,2236.6 331.0,2236.6 333.0,2236.6 335.0,2236.6 337.0,2236.6 339.0,2236.6 341.0,2236.6 343.0,2236.6 345.0,2236.6 347.0,2236.6 349.0,2236.6 351.0,2236.6 353.0,2236.6 355.0,2236.6 357.0,2236.6 359.0,2236.6 361.0,2236.6 363.0,2236.5 365.0,2236.5 367.0,2236.5 369.0,2236.5 371.0,2236.5 373.0,2236.5 375.0,2236.5 377.0,2236.5 379.0,2236.5 381.0,2236.5 383.0,2236.5 385.0,2236.5 387.0,2236.5 389.0,2236.5 391.0,2236.5 393.0,2236.5 395.0,2236.5 397.0,2236.5 399.0,2236.5 401.0,2236.5 403.0,2236.5 405.0,2236.5 407.0,2236.5 409.0,2236.5 411.0,2236.5 413.0,2236.5 415.0,2236.5 417.0,2236.5 419.0,2236.5 421.0,2236.5 423.0,2236.5 425.0,2236.5 427.0,2236.5 429.0,2236.5 431.0,2236.5 433.0,2236.5 435.0,2236.5 437.0,2236.5 439.0,2236.5 441.0,2236.5 443.0,2236.5 445.0,2236.5 447.0,2236.4 449.0,2236.4 451.0,2236.4 453.0,2236.4 455.0,2236.4 457.0,2236.4 459.0,2236.4 461.0,2236.4 463.0,2236.4 465.0,2236.4 467.0,2236.4 469.0,2236.4 471.0,2236.4 473.0,2236.4 475.0,2236.4 477.0,2236.3 479.0,2236.3 481.0,2236.3 483.0,2236.3 485.0,2236.3 487.0,2236.3 489.0,2236.3 491.0,2236.3 493.0,2236.3 495.0,2236.3 497.0,2236.3 499.0,2236.2 501.0,2236.2 503.0,2236.2 505.0,2236.2 507.0,2236.2 509.0,2236.2 511.0,2236.2 513.0,2236.2 515.0,2236.2 517.0,2236.2 519.0,2236.2 521.0,2236.1 523.0,2236.1 525.0,2236.1 527.0,2236.1 529.0,2236.1 531.0,2236.1 533.0,2236.1 535.0,2236.1 537.0,2236.1 539.0,2236.1 541.0,2236.0 543.0,2236.0 545.0,2236.0 547.0,2236.0 549.0,2236.0 551.0,2236.0 553.0,2236.0 555.0,2236.0 557.0,2236.0 559.0,2235.9 561.0,2235.9 563.0,2235.9 565.0,2235.9 567.0,2235.8 569.0,2235.8 571.0,2235.8 573.0,2235.8 575.0,2235.7 577.0,2235.7 579.0,2235.7 581.0,2235.6 583.0,2235.6 585.0,2235.6 587.0,2235.5 589.0,2235.5 591.0,2235.5 593.0,2235.4 595.0,2235.4 597.0,2235.3 599.0,2235.3 601.0,2235.2 603.0,2235.1 605.0,2235.0 607.0,2234.9 609.0,2234.8 611.0,2234.7 613.0,2234.6 615.0,2234.5 617.0,2234.3 619.0,2234.1 621.0,2233.8 623.0,2233.4 625.0,2233.0 627.0,2232.6 629.0,2232.1 631.0,2231.5 633.0,2230.7 635.0,2229.8 637.0,2228.8 639.0,2227.6 641.0,2226.3 643.0,2224.6 645.0,2222.5 647.0,2220.1 649.0,2217.4 651.0,2214.6 653.0,2211.8 655.0,2208.7 657.0,2205.5 659.0,2202.5 661.0,2200.1 663.0,2198.5 665.0,2197.5 667.0,2196.9 669.0,2196.8 671.0,2197.3 673.0,2198.0 675.0,2198.8 677.0,2199.4 679.0,2199.7 681.0,2200.0 683.0,2200.3 685.0,2200.5 687.0,2200.6 689.0,2200.7 691.0,2200.7 693.0,2200.8 695.0,2201.0 697.0,2201.4 699.0,2201.9 701.0,2202.6 703.0,2203.5 705.0,2204.5 707.0,2205.6 709.0,2206.9 711.0,2208.1 713.0,2209.4 715.0,2210.5 717.0,2211.5 719.0,2212.6 721.0,2213.6 723.0,2214.6 725.0,2215.5 727.0,2216.4 729.0,2217.3 731.0,2218.1 733.0,2218.9 735.0,2219.6 737.0,2220.3 739.0,2221.0 741.0,2221.5 743.0,2222.1 745.0,2222.5 747.0,2223.0 749.0,2223.3 751.0,2223.7 753.0,2224.0 755.0,2224.3 757.0,2224.6 759.0,2224.8 761.0,2225.1 763.0,2225.3 765.0,2225.5 767.0,2225.7 769.0,2225.9 771.0,2226.0 773.0,2226.1 775.0,2226.3 777.0,2226.4 779.0,2226.5 781.0,2226.5 783.0,2226.6 785.0,2226.6 787.0,2226.5 789.0,2226.4 791.0,2226.3 793.0,2226.2 795.0,2226.0 797.0,2225.8 799.0,2225.5 801.0,2225.1 803.0,2224.6 805.0,2224.0 807.0,2223.3 809.0,2222.5 811.0,2221.6 813.0,2220.8 815.0,2219.8 817.0,2218.9 819.0,2218.0 821.0,2217.5 823.0,2217.4 825.0,2217.5 827.0,2218.0 829.0,2218.7 831.0,2219.0 833.0,2218.5 835.0,2217.6 837.0,2216.3 839.0,2214.8 841.0,2213.0 843.0,2211.3 845.0,2209.9 847.0,2208.9 849.0,2208.5 851.0,2208.7 853.0,2209.7 855.0,2211.4 857.0,2213.5 859.0,2215.6 861.0,2217.4 863.0,2219.1 865.0,2220.7 867.0,2222.2 869.0,2223.5 871.0,2224.5 873.0,2225.4 875.0,2226.0 877.0,2226.4 879.0,2226.6 881.0,2226.6 883.0,2226.5 885.0,2226.2 887.0,2225.9 889.0,2225.5 891.0,2225.0 893.0,2224.3 895.0,2223.6 897.0,2222.7 899.0,2221.6 901.0,2220.2 903.0,2218.6 905.0,2216.7 907.0,2214.8 909.0,2212.8 911.0,2210.7 913.0,2208.4 915.0,2206.2 917.0,2203.9 919.0,2201.6 921.0,2199.3 923.0,2196.9 925.0,2194.4 927.0,2191.8 929.0,2189.2 931.0,2186.9 933.0,2184.9 935.0,2183.3 937.0,2181.9 939.0,2180.6 941.0,2179.8 943.0,2179.5 945.0,2179.8 947.0,2180.8 949.0,2182.5 951.0,2184.7 953.0,2187.0 955.0,2189.5 957.0,2192.1 959.0,2194.9 961.0,2197.6 963.0,2200.1 965.0,2202.4 967.0,2204.3 969.0,2205.9 971.0,2207.1 973.0,2208.1 975.0,2208.8 977.0,2209.4 979.0,2209.8 981.0,2210.1 983.0,2210.4 985.0,2210.6 987.0,2210.9 989.0,2211.3 991.0,2211.7 993.0,2212.4 995.0,2213.0 997.0,2213.7 999.0,2214.3 1001.0,2214.7 1003.0,2214.9 1005.0,2215.0 1007.0,2215.0 1009.0,2214.7 1011.0,2214.3 1013.0,2213.8 1015.0,2213.3 1017.0,2212.8 1019.0,2212.3 1021.0,2211.7 1023.0,2211.2 1025.0,2210.7 1027.0,2210.1 1029.0,2209.8 1031.0,2209.8 1033.0,2210.0 1035.0,2210.2 1037.0,2210.1 1039.0,2209.7 1041.0,2209.0 1043.0,2208.3 1045.0,2207.3 1047.0,2206.3 1049.0,2205.1 1051.0,2203.7 1053.0,2202.3 1055.0,2201.0 1057.0,2199.9 1059.0,2198.9 1061.0,2198.1 1063.0,2197.3 1065.0,2196.9 1067.0,2196.9 1069.0,2197.3 1071.0,2198.3 1073.0,2200.0 1075.0,2202.2 1077.0,2204.5 1079.0,2206.4 1081.0,2208.3 1083.0,2210.0 1085.0,2211.5 1087.0,2212.7 1089.0,2213.4 1091.0,2213.8 1093.0,2214.0 1095.0,2214.1 1097.0,2213.8 1099.0,2213.1 1101.0,2211.8 1103.0,2210.2 1105.0,2208.4 1107.0,2206.5 1109.0,2204.3 1111.0,2202.0 1113.0,2200.0 1115.0,2198.6 1117.0,2198.0 1119.0,2198.2 1121.0,2199.0 1123.0,2200.4 1125.0,2202.1 1127.0,2204.0 1129.0,2205.5 1131.0,2206.7 1133.0,2207.8 1135.0,2208.8 1137.0,2209.8 1139.0,2210.6 1141.0,2211.4 1143.0,2212.0 1145.0,2212.5 1147.0,2212.9 1149.0,2213.2 1151.0,2213.1 1153.0,2212.6 1155.0,2211.9 1157.0,2211.0 1159.0,2209.5 1161.0,2207.6 1163.0,2205.4 1165.0,2202.4 1167.0,2199.1 1169.0,2196.5 1171.0,2195.0 1173.0,2194.5 1175.0,2194.9 1177.0,2196.5 1179.0,2199.9 1181.0,2204.0 1183.0,2207.9 1185.0,2211.4 1187.0,2214.7 1189.0,2217.5 1191.0,2219.5 1193.0,2220.4 1195.0,2220.5 1197.0,2220.1 1199.0,2219.6 1201.0,2219.0 1203.0,2218.3 1205.0,2217.4 1207.0,2216.4 1209.0,2215.5 1211.0,2214.8 1213.0,2214.4 1215.0,2214.3 1217.0,2214.1 1219.0,2214.1 1221.0,2214.0 1223.0,2214.0 1225.0,2214.0 1227.0,2214.0 1229.0,2214.0 1231.0,2214.0 1233.0,2214.0 1235.0,2214.0 1237.0,2214.0 1239.0,2214.0 1241.0,2214.0 1243.0,2214.0 1245.0,2214.0 1247.0,2213.9 1249.0,2213.9 1251.0,2213.9 1253.0,2213.8 1255.0,2213.8 1257.0,2213.7 1259.0,2213.6 1261.0,2213.4 1263.0,2213.2 1265.0,2213.0 1267.0,2212.7 1269.0,2212.5 1271.0,2212.2 1273.0,2211.9 1275.0,2211.6 1277.0,2211.3 1279.0,2211.0 1281.0,2210.7 1283.0,2210.5 1285.0,2210.7 1287.0,2211.4 1289.0,2211.9 1291.0,2212.0 1293.0,2211.9 1295.0,2211.7 1297.0,2211.2 1299.0,2210.4 1301.0,2209.6 1303.0,2208.8 1305.0,2208.0 1307.0,2207.2 1309.0,2206.4 1311.0,2205.6 1313.0,2204.8 1315.0,2203.0 1317.0,2200.2 1319.0,2196.4 1321.0,2188.9 1323.0,2176.5 1325.0,2162.1 1327.0,2147.9 1329.0,2134.1 1331.0,2122.4 1333.0,2117.8 1335.0,2115.4 1337.0,2115.1 1339.0,2117.9 1341.0,2127.5 1343.0,2137.5 1345.0,2147.5 1347.0,2157.5 1349.0,2165.1 1351.0,2170.0 1353.0,2174.5 1355.0,2177.7 1357.0,2178.9 1359.0,2179.0 1361.0,2178.0 1363.0,2176.5 1365.0,2174.9 1367.0,2173.0 1369.0,2170.8 1371.0,2168.5 1373.0,2166.2 1375.0,2164.0 1377.0,2161.9 1379.0,2159.9 1381.0,2158.0 1383.0,2156.7 1385.0,2156.2 1387.0,2156.0 1389.0,2156.2 1391.0,2157.4 1393.0,2160.2 1395.0,2163.9 1397.0,2168.2 1399.0,2173.0 1401.0,2177.5 1403.0,2181.2 1405.0,2184.4 1407.0,2187.0 1409.0,2188.9 1411.0,2190.6 1413.0,2192.0 1415.0,2193.0 1417.0,2193.8 1419.0,2194.6 1421.0,2195.3 1423.0,2196.0 1425.0,2196.5 1427.0,2196.9 1429.0,2197.2 1431.0,2197.4 1433.0,2197.5 1435.0,2196.9 1437.0,2196.1 1439.0,2195.5 1441.0,2195.7 1443.0,2196.2 1445.0,2196.8 1447.0,2197.4 1449.0,2197.8 1451.0,2198.1 1453.0,2198.4 1455.0,2198.5 1457.0,2198.4 1459.0,2198.2 1461.0,2197.7 1463.0,2196.9 1465.0,2196.0 1467.0,2194.9 1469.0,2193.8 1471.0,2192.6 1473.0,2191.3 1475.0,2190.0 1477.0,2188.6 1479.0,2187.2 1481.0,2185.7 1483.0,2184.3 1485.0,2183.0 1487.0,2181.9 1489.0,2180.9 1491.0,2180.0 1493.0,2179.0 1495.0,2178.0 1497.0,2176.9 1499.0,2175.8 1501.0,2174.6 1503.0,2173.3 1505.0,2172.0 1507.0,2170.5 1509.0,2168.7 1511.0,2166.7 1513.0,2164.7 1515.0,2162.5 1517.0,2160.3 1519.0,2157.9 1521.0,2155.3 1523.0,2152.7 1525.0,2150.0 1527.0,2147.2 1529.0,2144.2 1531.0,2140.7 1533.0,2136.3 1535.0,2131.7 1537.0,2127.0 1539.0,2122.3 1541.0,2117.7 1543.0,2113.0 1545.0,2108.3 1547.0,2103.7 1549.0,2099.0 1551.0,2094.3 1553.0,2089.7 1555.0,2085.0 1557.0,2080.7 1559.0,2077.0 1561.0,2073.8 1563.0,2070.8 1565.0,2068.0 1567.0,2065.5 1569.0,2063.4 1571.0,2061.7 1573.0,2060.1 1575.0,2058.8 1577.0,2057.7 1579.0,2056.9 1581.0,2056.1 1583.0,2055.4 1585.0,2055.0 1587.0,2054.7 1589.0,2054.5 1591.0,2054.5 1593.0,2054.5 1595.0,2054.7 1597.0,2054.9 1599.0,2055.3 1601.0,2055.8 1603.0,2056.3 1605.0,2057.0 1607.0,2057.8 1609.0,2058.6 1611.0,2059.4 1613.0,2060.3 1615.0,2061.3 1617.0,2062.4 1619.0,2063.7 1621.0,2065.3 1623.0,2066.9 1625.0,2068.6 1627.0,2070.4 1629.0,2072.1 1631.0,2073.9 1633.0,2075.7 1635.0,2077.5 1637.0,2079.3 1639.0,2081.1 1641.0,2082.8 1643.0,2084.2 1645.0,2085.4 1647.0,2086.3 1649.0,2087.0 1651.0,2087.4 1653.0,2087.5 1655.0,2087.4 1657.0,2087.1 1659.0,2086.6 1661.0,2085.8 1663.0,2084.6 1665.0,2083.3 1667.0,2081.8 1669.0,2080.1 1671.0,2078.3 1673.0,2076.3 1675.0,2074.4 1677.0,2072.8 1679.0,2071.5 1681.0,2070.4 1683.0,2069.8 1685.0,2070.4 1687.0,2072.0 1689.0,2074.3 1691.0,2078.1 1693.0,2084.3 1695.0,2090.9 1697.0,2097.5 1699.0,2104.2 1701.0,2110.8 1703.0,2117.5 1705.0,2124.2 1707.0,2130.8 1709.0,2137.5 1711.0,2144.2 1713.0,2150.6 1715.0,2156.7 1717.0,2162.5 1719.0,2167.8 1721.0,2172.2 1723.0,2175.9 1725.0,2179.0 1727.0,2181.7 1729.0,2184.2 1731.0,2186.5 1733.0,2188.5 1735.0,2190.5 1737.0,2192.4 1739.0,2194.0 1741.0,2195.3 1743.0,2196.4 1745.0,2197.5 1747.0,2198.5 1749.0,2199.4 1751.0,2200.2 1753.0,2201.0 1755.0,2201.8 1757.0,2202.6 1759.0,2203.4 1761.0,2204.2 1763.0,2205.0 1765.0,2205.8 1767.0,2206.6 1769.0,2207.4 1771.0,2207.8 1773.0,2208.0 1775.0,2208.0 1777.0,2207.6 1779.0,2206.8 1781.0,2205.7 1783.0,2204.1 1785.0,2202.5 1787.0,2201.0 1789.0,2199.7 1791.0,2198.5 1793.0,2197.4 1795.0,2196.7 1797.0,2196.1 1799.0,2195.8 1801.0,2195.6 1803.0,2195.5 1805.0,2195.4 1807.0,2195.4 1809.0,2195.5 1811.0,2195.8 1813.0,2196.3 1815.0,2196.9 1817.0,2197.5 1819.0,2198.1 1821.0,2198.6 1823.0,2199.2 1825.0,2199.7 1827.0,2200.3 1829.0,2200.7 1831.0,2200.5 1833.0,2200.1 1835.0,2199.8 1837.0,2199.8 1839.0,2200.3 1841.0,2201.0 1843.0,2201.7 1845.0,2202.3 1847.0,2203.0 1849.0,2203.7 1851.0,2204.3 1853.0,2205.0 1855.0,2205.5 1857.0,2205.6 1859.0,2205.4 1861.0,2204.8 1863.0,2203.9 1865.0,2202.6 1867.0,2201.0 1869.0,2199.0 1871.0,2197.0 1873.0,2195.0 1875.0,2193.0 1877.0,2191.0 1879.0,2189.0 1881.0,2187.0 1883.0,2185.0 1885.0,2183.5 1887.0,2182.7 1889.0,2182.3 1891.0,2181.9 1893.0,2181.4 1895.0,2181.1 1897.0,2180.9 1899.0,2181.1 1901.0,2181.7 1903.0,2182.4 1905.0,2183.3 1907.0,2184.3 1909.0,2185.6 1911.0,2186.9 1913.0,2188.0 1915.0,2188.7 1917.0,2188.5 1919.0,2187.2 1921.0,2185.3 1923.0,2183.4 1925.0,2181.7 1927.0,2180.0 1929.0,2178.4 1931.0,2177.3 1933.0,2176.9 1935.0,2177.0 1937.0,2177.1 1939.0,2176.8 1941.0,2176.2 1943.0,2175.5 1945.0,2174.3 1947.0,2171.5 1949.0,2167.5 1951.0,2162.1 1953.0,2155.0 1955.0,2146.3 1957.0,2137.5 1959.0,2129.5 1961.0,2122.5 1963.0,2118.0 1965.0,2114.2 1967.0,2110.7 1969.0,2107.3 1971.0,2104.1 1973.0,2100.8 1975.0,2097.0 1977.0,2092.3 1979.0,2087.4 1981.0,2083.0 1983.0,2079.1 1985.0,2075.6 1987.0,2072.5 1989.0,2070.2 1991.0,2068.8 1993.0,2068.0 1995.0,2068.2 1997.0,2069.5 1999.0,2071.8 2001.0,2075.4 2003.0,2081.0 2005.0,2088.5 2007.0,2097.5 2009.0,2107.5 2011.0,2117.5 2013.0,2126.8 2015.0,2135.4 2017.0,2143.2 2019.0,2149.7 2021.0,2155.3 2023.0,2160.1 2025.0,2163.4 2027.0,2165.1 2029.0,2165.6 2031.0,2166.1 2033.0,2167.5 2035.0,2169.8 2037.0,2172.3 2039.0,2175.0 2041.0,2178.1 2043.0,2181.4 2045.0,2184.4 2047.0,2186.5 2049.0,2188.0 2051.0,2189.1 2053.0,2190.0 2055.0,2190.7 2057.0,2191.3 2059.0,2191.9 2061.0,2192.7 2063.0,2193.8 2065.0,2195.0 2067.0,2196.1 2069.0,2196.9 2071.0,2197.6 2073.0,2198.2 2075.0,2198.8 2077.0,2199.3 2079.0,2199.7 2081.0,2200.1 2083.0,2200.5 2085.0,2200.8 2087.0,2201.1 2089.0,2201.3 2091.0,2201.5 2093.0,2201.7 2095.0,2201.7 2097.0,2201.7 2099.0,2201.6 2101.0,2201.5 2103.0,2201.4 2105.0,2201.2 2107.0,2200.9 2109.0,2200.3 2111.0,2199.2 2113.0,2198.0 2115.0,2196.8 2117.0,2195.6 2119.0,2194.4 2121.0,2193.2 2123.0,2192.0 2125.0,2190.8 2127.0,2189.8 2129.0,2189.3 2131.0,2189.1 2133.0,2189.0 2135.0,2189.1 2137.0,2189.3 2139.0,2189.7 2141.0,2189.9 2143.0,2190.0 2145.0,2189.7 2147.0,2189.1 2149.0,2188.5 2151.0,2188.1 2153.0,2188.0 2155.0,2188.2 2157.0,2188.5 2159.0,2188.8 2161.0,2189.2 2163.0,2189.5 2165.0,2189.9 2167.0,2190.3 2169.0,2190.7 2171.0,2191.0 2173.0,2190.7 2175.0,2189.9 2177.0,2189.2 2179.0,2189.0 2181.0,2189.2 2183.0,2189.7 2185.0,2190.0 2187.0,2189.1 2189.0,2187.5 2191.0,2189.1 2193.0,2192.4 2195.0,2194.2 2197.0,2195.6 2199.0,2196.5 2201.0,2197.1 2203.0,2197.4 2205.0,2197.5 2205.5,2197.5" fill="none" stroke="#ff00ff" stroke-width="5.2" stroke-linejoin="round" stroke-linecap="butt"/>
<text x="1278" y="3444.5" font-size="75.2" text-anchor="middle">Wavenumber (cm<tspan font-size="42" dy="-38.5" style="stroke-width:0.4px">-1</tspan><tspan dy="38.5">)</tspan></text>
<text transform="translate(174.5,2511) rotate(-90)" font-size="73" text-anchor="middle">Absorbance (a.u.)</text>
<text x="9.5" y="1828.5" font-size="109" text-anchor="start" style="letter-spacing:2.6px">(b)</text>
<text x="302.0" y="2204.5" font-size="73.3" text-anchor="start" style="stroke-width:0.3px;letter-spacing:0.8px">PU-Si17</text>
<text x="310.0" y="2402.0" font-size="73.3" text-anchor="start" style="stroke-width:0.3px;letter-spacing:0.8px">PU-Si13</text>
<text x="310.0" y="2609.0" font-size="73.3" text-anchor="start" style="stroke-width:0.3px;letter-spacing:0.8px">PU-Si9</text>
<text x="310.0" y="2822.5" font-size="73.3" text-anchor="start" style="stroke-width:0.3px;letter-spacing:0.8px">PU-Si4</text>
<text x="310.0" y="3000.0" font-size="73.3" text-anchor="start" style="stroke-width:0.3px;letter-spacing:0.8px">PU-Si0</text>
<text x="565.0" y="2037.0" font-size="75.3" style="stroke-width:0.3px;letter-spacing:0.5px">&gt;C=O</text>
<line x1="678.5" y1="2090.0" x2="669.0" y2="2181.5" stroke="#000" stroke-width="3.2" stroke-linecap="round"/>
<text x="832.0" y="2006.0" font-size="75.3" style="stroke-width:0.3px;letter-spacing:0.5px">-N-H</text>
<line x1="917.0" y1="2050.0" x2="941.5" y2="2159.0" stroke="#000" stroke-width="3.2" stroke-linecap="round"/>
<text x="1113.5" y="1937.5" font-size="75.3" style="stroke-width:0.3px;letter-spacing:0.5px">-Si-CH<tspan font-size="42" dy="31">3</tspan></text>
<line x1="1223.5" y1="1966.5" x2="1323.5" y2="2104.0" stroke="#000" stroke-width="3.2" stroke-linecap="round"/>
<text x="1387.0" y="1887.0" font-size="75.3" style="stroke-width:0.3px;letter-spacing:0.5px">-C-O-C-</text>
<line x1="1515.5" y1="1916.0" x2="1586.0" y2="2030.0" stroke="#000" stroke-width="3.2" stroke-linecap="round"/>
<text x="1699.0" y="1883.0" font-size="75.3" style="stroke-width:0.3px;letter-spacing:0.5px">-Si-O-Si-</text>
<line x1="1824.0" y1="1906.5" x2="1684.5" y2="2044.0" stroke="#000" stroke-width="3.2" stroke-linecap="round"/>
<text x="2006.0" y="1952.5" font-size="75.3" style="stroke-width:0.3px;letter-spacing:0.5px">-Si-CH<tspan font-size="42" dy="31">3</tspan></text>
<line x1="2106.5" y1="1976.5" x2="2001.5" y2="2054.0" stroke="#000" stroke-width="3.2" stroke-linecap="round"/>
</g>
</svg>
</body>
</html>
